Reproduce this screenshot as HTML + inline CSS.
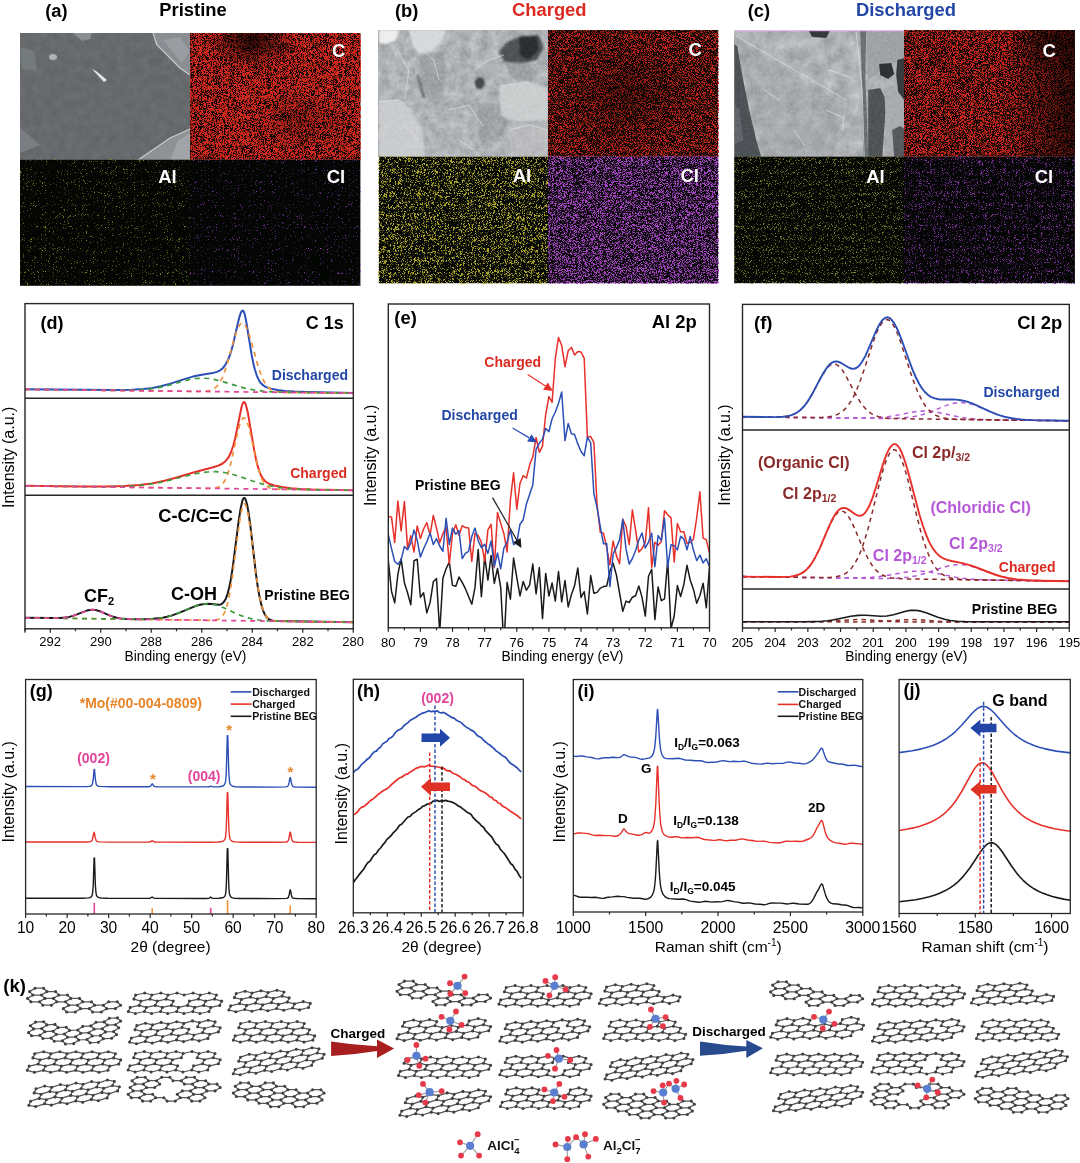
<!DOCTYPE html>
<html><head><meta charset="utf-8"><title>Figure</title>
<style>html,body{margin:0;padding:0;background:#fff;}body{width:1080px;height:1163px;overflow:hidden;}svg{display:block;}</style>
</head><body>
<svg width="1080" height="1163" viewBox="0 0 1080 1163" font-family='"Liberation Sans", Arial, sans-serif'><defs><filter id="redA" x="0" y="0" width="100%" height="100%" filterUnits="objectBoundingBox" color-interpolation-filters="sRGB"><feTurbulence type="fractalNoise" baseFrequency="1.73 1.91" numOctaves="1" seed="11" result="t"/><feGaussianBlur in="t" stdDeviation="0.5" result="b"/><feColorMatrix in="b" type="matrix" values="0 0 0 0 0.847  0 0 0 0 0.165  0 0 0 0 0.118  7 0 0 0 -2.84"/></filter><filter id="redB" x="0" y="0" width="100%" height="100%" filterUnits="objectBoundingBox" color-interpolation-filters="sRGB"><feTurbulence type="fractalNoise" baseFrequency="1.73 1.91" numOctaves="1" seed="12" result="t"/><feGaussianBlur in="t" stdDeviation="0.5" result="b"/><feColorMatrix in="b" type="matrix" values="0 0 0 0 0.776  0 0 0 0 0.149  0 0 0 0 0.110  7 0 0 0 -3.2"/></filter><filter id="redC" x="0" y="0" width="100%" height="100%" filterUnits="objectBoundingBox" color-interpolation-filters="sRGB"><feTurbulence type="fractalNoise" baseFrequency="1.73 1.91" numOctaves="1" seed="13" result="t"/><feGaussianBlur in="t" stdDeviation="0.5" result="b"/><feColorMatrix in="b" type="matrix" values="0 0 0 0 0.824  0 0 0 0 0.157  0 0 0 0 0.118  7 0 0 0 -3.08"/></filter><filter id="yelA" x="0" y="0" width="100%" height="100%" filterUnits="objectBoundingBox" color-interpolation-filters="sRGB"><feTurbulence type="fractalNoise" baseFrequency="1.73 1.91" numOctaves="1" seed="21" result="t"/><feGaussianBlur in="t" stdDeviation="0.5" result="b"/><feColorMatrix in="b" type="matrix" values="0 0 0 0 0.549  0 0 0 0 0.549  0 0 0 0 0.157  7 0 0 0 -4.35"/></filter><filter id="vioA" x="0" y="0" width="100%" height="100%" filterUnits="objectBoundingBox" color-interpolation-filters="sRGB"><feTurbulence type="fractalNoise" baseFrequency="1.73 1.91" numOctaves="1" seed="22" result="t"/><feGaussianBlur in="t" stdDeviation="0.5" result="b"/><feColorMatrix in="b" type="matrix" values="0 0 0 0 0.588  0 0 0 0 0.235  0 0 0 0 0.745  7 0 0 0 -4.5"/></filter><filter id="yelB" x="0" y="0" width="100%" height="100%" filterUnits="objectBoundingBox" color-interpolation-filters="sRGB"><feTurbulence type="fractalNoise" baseFrequency="1.73 1.91" numOctaves="1" seed="23" result="t"/><feGaussianBlur in="t" stdDeviation="0.5" result="b"/><feColorMatrix in="b" type="matrix" values="0 0 0 0 0.698  0 0 0 0 0.667  0 0 0 0 0.176  7 0 0 0 -3.6"/></filter><filter id="vioB" x="0" y="0" width="100%" height="100%" filterUnits="objectBoundingBox" color-interpolation-filters="sRGB"><feTurbulence type="fractalNoise" baseFrequency="1.73 1.91" numOctaves="1" seed="24" result="t"/><feGaussianBlur in="t" stdDeviation="0.5" result="b"/><feColorMatrix in="b" type="matrix" values="0 0 0 0 0.659  0 0 0 0 0.275  0 0 0 0 0.776  7 0 0 0 -3.24"/></filter><filter id="yelC" x="0" y="0" width="100%" height="100%" filterUnits="objectBoundingBox" color-interpolation-filters="sRGB"><feTurbulence type="fractalNoise" baseFrequency="1.73 1.91" numOctaves="1" seed="25" result="t"/><feGaussianBlur in="t" stdDeviation="0.5" result="b"/><feColorMatrix in="b" type="matrix" values="0 0 0 0 0.490  0 0 0 0 0.490  0 0 0 0 0.176  7 0 0 0 -3.98"/></filter><filter id="vioC" x="0" y="0" width="100%" height="100%" filterUnits="objectBoundingBox" color-interpolation-filters="sRGB"><feTurbulence type="fractalNoise" baseFrequency="1.73 1.91" numOctaves="1" seed="26" result="t"/><feGaussianBlur in="t" stdDeviation="0.5" result="b"/><feColorMatrix in="b" type="matrix" values="0 0 0 0 0.510  0 0 0 0 0.204  0 0 0 0 0.647  7 0 0 0 -3.95"/></filter><filter id="semA" x="0" y="0" width="100%" height="100%" filterUnits="objectBoundingBox" color-interpolation-filters="sRGB"><feTurbulence type="fractalNoise" baseFrequency="0.12" numOctaves="3" seed="5" result="t"/><feColorMatrix in="t" type="matrix" values="0.071 0 0 0 0.369  0.071 0 0 0 0.379  0.071 0 0 0 0.389  0 0 0 0 1"/></filter><filter id="semB" x="0" y="0" width="100%" height="100%" filterUnits="objectBoundingBox" color-interpolation-filters="sRGB"><feTurbulence type="fractalNoise" baseFrequency="0.1" numOctaves="4" seed="8" result="t"/><feColorMatrix in="t" type="matrix" values="0.216 0 0 0 0.582  0.216 0 0 0 0.592  0.216 0 0 0 0.602  0 0 0 0 1"/></filter><filter id="semC" x="0" y="0" width="100%" height="100%" filterUnits="objectBoundingBox" color-interpolation-filters="sRGB"><feTurbulence type="fractalNoise" baseFrequency="0.08" numOctaves="4" seed="9" result="t"/><feColorMatrix in="t" type="matrix" values="0.235 0 0 0 0.569  0.235 0 0 0 0.579  0.235 0 0 0 0.589  0 0 0 0 1"/></filter><filter id="semFine" x="0" y="0" width="100%" height="100%" filterUnits="objectBoundingBox" color-interpolation-filters="sRGB"><feTurbulence type="fractalNoise" baseFrequency="0.32" numOctaves="2" seed="31" result="t"/><feColorMatrix in="t" type="matrix" values="0.784 0 0 0 0.110  0.784 0 0 0 0.120  0.784 0 0 0 0.130  0 0 0 0 1"/></filter><filter id="sblur" x="-5%" y="-5%" width="110%" height="110%"><feGaussianBlur stdDeviation="1.2"/></filter><filter id="sblur2" x="-5%" y="-5%" width="110%" height="110%"><feGaussianBlur stdDeviation="0.6"/></filter><radialGradient id="rdark"><stop offset="0" stop-color="#000" stop-opacity="1"/><stop offset="1" stop-color="#000" stop-opacity="0"/></radialGradient><linearGradient id="ldarkR" x1="0" y1="0" x2="1" y2="0"><stop offset="0" stop-color="#000" stop-opacity="0"/><stop offset="1" stop-color="#000" stop-opacity="0.75"/></linearGradient></defs><text x="56.3" y="16.5" font-size="18.3" font-weight="bold" fill="#000" text-anchor="middle" >(a)</text>
<text x="193.0" y="16.4" font-size="18.4" font-weight="bold" fill="#000" text-anchor="middle" >Pristine</text>
<text x="406.6" y="16.5" font-size="18.3" font-weight="bold" fill="#000" text-anchor="middle" >(b)</text>
<text x="549.3" y="16.3" font-size="18.4" font-weight="bold" fill="#dc2a20" text-anchor="middle" >Charged</text>
<text x="758.9" y="16.5" font-size="18.3" font-weight="bold" fill="#000" text-anchor="middle" >(c)</text>
<text x="906.0" y="16.3" font-size="18.4" font-weight="bold" fill="#2347a6" text-anchor="middle" >Discharged</text>
<path d="M25.0,389.3 115.9,390.0 131.7,389.8 143.7,389.1 152.5,388.0 160.7,386.3 169.6,383.9 186.0,378.6 192.9,376.6 200.5,374.9 212.5,373.1 216.9,371.9 220.1,370.3 222.0,368.9 223.2,367.7 225.7,364.3 228.3,359.3 230.8,352.3 232.7,345.7 238.4,321.1 239.6,316.3 240.9,312.7 241.5,311.5 242.2,310.8 242.8,310.6 243.4,311.0 244.0,312.2 244.7,314.1 245.9,319.7 251.6,354.5 253.5,364.1 254.8,369.3 256.7,375.3 258.6,379.7 260.5,382.7 263.0,385.2 264.9,386.5 266.8,387.4 271.2,388.8 277.5,390.1 285.1,390.9 294.5,391.6 307.8,392.1 353.2,393.0" fill="none" stroke="#2c4fb6" stroke-width="2.0" stroke-linejoin="round" />
<path d="M25.0,389.4 196.7,391.4 205.5,391.2 208.1,390.9 210.6,390.3 213.7,388.9 215.6,387.5 216.9,386.3 219.4,383.1 222.0,378.4 223.8,374.0 226.4,366.7 233.9,339.8 236.5,331.8 238.4,327.2 239.6,325.0 240.9,323.5 242.2,322.9 243.4,323.2 244.7,324.3 245.9,326.3 247.8,330.6 251.0,340.4 257.9,365.4 260.5,373.0 262.3,377.8 264.2,381.7 266.8,385.6 268.7,387.7 271.2,389.6 273.7,390.8 276.2,391.6 279.4,392.0 283.2,392.3 353.2,393.2" fill="none" stroke="#f0913a" stroke-width="1.7" stroke-linejoin="round" stroke-dasharray="5,4.5" />
<path d="M25.0,389.4 115.3,390.4 129.8,390.3 140.5,389.9 149.4,389.1 157.6,387.9 167.0,385.7 182.8,381.3 189.1,379.7 196.1,378.5 203.0,378.2 208.7,378.5 215.0,379.6 221.3,381.2 237.1,386.0 244.7,388.1 253.5,389.9 263.0,391.1 273.1,391.9 286.3,392.3 353.2,393.2" fill="none" stroke="#3c9a3c" stroke-width="1.7" stroke-linejoin="round" stroke-dasharray="5,4.5" />
<path d="M25.0,389.4 353.2,393.2" fill="none" stroke="#e2449a" stroke-width="1.7" stroke-linejoin="round" stroke-dasharray="5,4.5" />
<path d="M25.0,485.8 81.8,486.5 106.4,486.6 124.7,486.1 139.3,485.1 151.9,483.4 164.5,480.7 174.0,478.2 196.1,471.7 213.1,467.2 218.2,465.6 220.7,464.5 222.6,463.5 225.7,460.9 228.3,457.7 230.8,452.8 233.3,445.5 235.2,438.3 241.5,407.2 242.8,403.3 243.4,402.3 244.0,402.0 244.7,402.4 245.3,403.4 245.9,404.9 247.8,412.4 254.1,449.6 256.0,459.2 257.3,464.6 259.2,471.0 261.1,475.6 263.0,478.8 265.5,481.5 267.4,482.8 269.3,483.8 274.3,485.5 281.9,487.0 290.8,488.2 300.2,488.9 311.6,489.4 353.2,490.2" fill="none" stroke="#e8302a" stroke-width="2.0" stroke-linejoin="round" />
<path d="M25.0,485.9 206.2,488.3 213.1,488.2 215.6,487.9 217.5,487.4 220.1,486.2 221.3,485.2 222.6,484.0 223.8,482.3 225.1,480.1 227.0,475.9 228.9,470.4 230.8,463.5 237.1,435.1 239.6,425.2 240.9,421.6 242.2,419.1 242.8,418.4 243.4,417.9 244.0,417.8 244.7,418.1 245.9,419.6 247.2,422.3 248.5,426.2 251.0,436.4 256.7,462.3 259.8,473.6 261.7,478.5 263.6,482.2 265.5,484.8 268.0,487.0 269.9,488.0 271.8,488.6 274.3,489.0 278.1,489.2 353.2,490.3" fill="none" stroke="#f0913a" stroke-width="1.7" stroke-linejoin="round" stroke-dasharray="5,4.5" />
<path d="M25.0,485.9 103.9,486.8 121.0,486.6 134.8,485.9 146.8,484.7 158.8,482.7 168.9,480.4 189.8,475.0 198.6,473.2 207.4,472.0 215.6,471.7 222.6,472.2 230.2,473.7 237.1,475.7 253.5,481.3 261.7,483.8 270.6,485.9 280.0,487.6 290.8,488.7 303.4,489.4 319.8,489.8 353.2,490.3" fill="none" stroke="#3c9a3c" stroke-width="1.7" stroke-linejoin="round" stroke-dasharray="5,4.5" />
<path d="M25.0,485.9 353.2,490.3" fill="none" stroke="#e2449a" stroke-width="1.7" stroke-linejoin="round" stroke-dasharray="5,4.5" />
<path d="M25.0,617.8 54.0,618.1 60.3,618.0 64.8,617.6 69.2,616.9 73.0,615.9 86.9,610.6 90.0,609.9 92.5,609.7 95.1,609.9 98.2,610.7 101.4,611.8 108.3,614.9 112.1,616.4 115.9,617.5 120.3,618.4 126.0,618.9 134.2,619.2 144.9,619.2 153.1,618.8 162.6,617.7 167.0,616.8 171.5,615.6 179.0,612.9 194.2,606.6 198.0,605.3 201.1,604.5 204.9,603.9 208.7,603.7 218.8,604.7 220.7,604.4 222.0,603.8 223.8,602.1 225.7,598.9 227.6,593.8 229.5,586.2 230.8,579.6 232.7,567.6 238.4,523.1 240.3,510.3 242.2,501.4 242.8,499.6 243.4,498.4 244.0,497.9 244.7,498.0 245.3,498.9 245.9,500.3 247.2,505.1 248.5,512.2 250.4,526.0 256.0,574.3 257.9,587.6 259.2,595.1 261.1,603.9 263.0,610.3 264.9,614.6 266.8,617.4 268.7,619.1 270.6,620.0 273.1,620.7 276.9,621.1 353.2,622.3" fill="none" stroke="#1a1a1a" stroke-width="2.0" stroke-linejoin="round" />
<path d="M25.0,617.8 208.7,620.3 213.1,620.2 215.6,620.0 217.5,619.6 219.4,618.8 220.7,617.9 222.0,616.7 223.2,615.0 224.5,612.7 226.4,607.8 228.3,600.7 230.2,591.3 232.0,579.3 238.4,529.6 240.3,516.8 241.5,510.3 242.8,505.9 243.4,504.6 244.0,503.9 244.7,503.9 245.3,504.4 246.6,507.4 247.8,512.7 249.1,520.0 251.0,533.6 256.0,574.2 257.9,587.1 259.8,597.7 261.7,605.7 263.6,611.5 265.5,615.4 267.4,617.9 269.3,619.4 271.2,620.3 273.7,620.9 276.9,621.2 353.2,622.3" fill="none" stroke="#f0913a" stroke-width="1.7" stroke-linejoin="round" stroke-dasharray="5,4.5" />
<path d="M25.0,617.8 131.0,619.2 144.3,619.2 153.8,618.7 162.6,617.7 170.2,616.0 177.8,613.4 191.7,607.6 196.7,605.7 202.4,604.2 205.5,603.8 208.1,603.7 213.1,604.2 218.8,605.8 223.8,607.8 237.1,614.1 244.7,617.0 251.6,618.8 258.6,620.0 267.4,620.8 278.8,621.2 353.2,622.3" fill="none" stroke="#3c9a3c" stroke-width="1.7" stroke-linejoin="round" stroke-dasharray="5,4.5" />
<path d="M25.0,617.8 54.0,618.1 60.3,618.0 64.8,617.6 69.2,616.9 73.0,615.9 86.9,610.6 90.0,609.9 92.5,609.7 95.7,610.0 98.9,610.9 110.2,615.7 115.3,617.4 121.0,618.5 127.9,619.1 143.0,619.4 353.2,622.3" fill="none" stroke="#e2449a" stroke-width="1.7" stroke-linejoin="round" stroke-dasharray="5,4.5" />
<rect x="25.00" y="303.60" width="328.30" height="325.20" fill="none" stroke="#262626" stroke-width="1.4" />
<line x1="25.00" y1="398.20" x2="353.30" y2="398.20" stroke="#262626" stroke-width="1.4" />
<line x1="25.00" y1="495.30" x2="353.30" y2="495.30" stroke="#262626" stroke-width="1.4" />
<line x1="50.25" y1="628.80" x2="50.25" y2="632.80" stroke="#262626" stroke-width="1.2" />
<line x1="100.75" y1="628.80" x2="100.75" y2="632.80" stroke="#262626" stroke-width="1.2" />
<line x1="151.25" y1="628.80" x2="151.25" y2="632.80" stroke="#262626" stroke-width="1.2" />
<line x1="201.75" y1="628.80" x2="201.75" y2="632.80" stroke="#262626" stroke-width="1.2" />
<line x1="252.25" y1="628.80" x2="252.25" y2="632.80" stroke="#262626" stroke-width="1.2" />
<line x1="302.75" y1="628.80" x2="302.75" y2="632.80" stroke="#262626" stroke-width="1.2" />
<line x1="353.25" y1="628.80" x2="353.25" y2="632.80" stroke="#262626" stroke-width="1.2" />
<line x1="25.00" y1="628.80" x2="25.00" y2="632.80" stroke="#262626" stroke-width="1.2" />
<line x1="25.00" y1="628.80" x2="25.00" y2="631.30" stroke="#262626" stroke-width="1.2" />
<line x1="75.50" y1="628.80" x2="75.50" y2="631.30" stroke="#262626" stroke-width="1.2" />
<line x1="126.00" y1="628.80" x2="126.00" y2="631.30" stroke="#262626" stroke-width="1.2" />
<line x1="176.50" y1="628.80" x2="176.50" y2="631.30" stroke="#262626" stroke-width="1.2" />
<line x1="227.00" y1="628.80" x2="227.00" y2="631.30" stroke="#262626" stroke-width="1.2" />
<line x1="277.50" y1="628.80" x2="277.50" y2="631.30" stroke="#262626" stroke-width="1.2" />
<line x1="328.00" y1="628.80" x2="328.00" y2="631.30" stroke="#262626" stroke-width="1.2" />
<text x="50.2" y="646.4" font-size="13" fill="#000" text-anchor="middle" >292</text>
<text x="100.8" y="646.4" font-size="13" fill="#000" text-anchor="middle" >290</text>
<text x="151.2" y="646.4" font-size="13" fill="#000" text-anchor="middle" >288</text>
<text x="201.8" y="646.4" font-size="13" fill="#000" text-anchor="middle" >286</text>
<text x="252.2" y="646.4" font-size="13" fill="#000" text-anchor="middle" >284</text>
<text x="302.8" y="646.4" font-size="13" fill="#000" text-anchor="middle" >282</text>
<text x="353.2" y="646.4" font-size="13" fill="#000" text-anchor="middle" >280</text>
<text x="185.5" y="661.2" font-size="13.8" fill="#000" text-anchor="middle" >Binding energy (eV)</text>
<text x="0" y="0" font-size="16" fill="#000" text-anchor="middle" transform="translate(13.8,457.3) rotate(-90)">Intensity (a.u.)</text>
<text x="51.9" y="328.6" font-size="18" font-weight="bold" fill="#000" text-anchor="middle" >(d)</text>
<text x="324.8" y="328.6" font-size="18" font-weight="bold" fill="#000" text-anchor="middle" >C 1s</text>
<text x="309.9" y="379.6" font-size="14" font-weight="bold" fill="#2347a6" text-anchor="middle" >Discharged</text>
<text x="318.6" y="477.6" font-size="14" font-weight="bold" fill="#dc2a20" text-anchor="middle" >Charged</text>
<text x="307.1" y="600.0" font-size="14" font-weight="bold" fill="#000" text-anchor="middle" >Pristine BEG</text>
<text x="195.6" y="522.3" font-size="18.3" font-weight="bold" fill="#000" text-anchor="middle" >C-C/C=C</text>
<text x="194.1" y="600.0" font-size="18" font-weight="bold" fill="#000" text-anchor="middle" >C-OH</text>
<text x="99.0" y="602.4" font-size="18" font-weight="bold" fill="#000" text-anchor="middle" >CF<tspan font-size="11" dy="3">2</tspan></text>
<clipPath id="ce"><rect x="388.3" y="304.0" width="321.2" height="323.79999999999995"/></clipPath>
<g clip-path="url(#ce)">
<path d="M388.3,560.7 391.5,591.2 394.7,602.9 397.9,574.2 401.1,558.7 404.4,582.7 407.6,593.0 410.8,604.7 414.0,560.7 417.2,559.3 420.4,597.2 423.6,592.8 426.8,612.9 430.1,602.4 433.3,581.8 436.5,578.5 439.7,632.5 442.9,578.2 446.1,568.7 449.3,562.0 452.5,585.4 455.8,586.3 459.0,577.0 462.2,582.4 465.4,588.7 471.8,604.3 475.0,587.4 478.2,549.4 481.4,596.8 484.7,556.4 487.9,580.1 491.1,555.4 494.3,583.4 497.5,568.5 500.7,587.4 503.9,646.0 507.1,582.3 510.4,599.2 513.6,558.1 516.8,577.7 520.0,595.8 523.2,581.4 526.4,590.2 529.6,585.1 532.8,564.0 536.1,593.8 539.3,567.6 542.5,618.6 545.7,573.4 548.9,596.0 552.1,583.0 555.3,601.1 558.5,571.5 561.7,601.9 565.0,580.5 568.2,606.9 571.4,594.7 574.6,585.5 577.8,568.0 581.0,597.4 584.2,591.7 587.4,614.0 590.7,575.6 593.9,593.3 597.1,592.4 600.3,588.1 603.5,586.6 606.7,586.1 609.9,571.3 613.1,563.3 616.4,575.0 622.8,611.3 626.0,601.1 629.2,602.5 632.4,597.2 635.6,595.7 638.8,585.9 642.0,597.1 645.3,616.1 648.5,576.2 651.7,569.2 654.9,619.6 658.1,587.0 661.3,600.7 664.5,598.9 667.7,560.7 671.0,628.5 674.2,616.0 677.4,585.6 680.6,596.5 683.8,584.6 687.0,565.3 690.2,580.0 693.4,589.2 696.7,603.3 699.9,595.5 703.1,583.2 706.3,607.8 709.5,567.5" fill="none" stroke="#1a1a1a" stroke-width="1.5" stroke-linejoin="round" />
<path d="M388.3,516.5 391.5,516.9 394.7,542.4 397.9,500.9 401.1,531.0 404.4,501.4 407.6,548.4 410.8,535.8 414.0,552.0 417.2,525.9 420.4,538.6 423.6,529.0 426.8,522.7 430.1,535.0 433.3,515.4 436.5,528.0 439.7,542.8 442.9,533.8 446.1,527.3 449.3,563.7 452.5,533.8 455.8,524.8 459.0,535.2 462.2,525.7 465.4,527.6 468.6,528.1 471.8,561.4 475.0,533.3 478.2,535.5 481.4,542.4 484.7,561.2 487.9,529.9 491.1,524.3 494.3,567.6 497.5,512.6 503.9,533.7 507.1,552.0 510.4,500.0 513.6,472.7 516.8,509.3 520.0,483.2 523.2,475.6 526.4,478.0 529.6,465.1 532.8,456.8 536.1,437.5 539.3,452.3 542.5,446.1 545.7,414.4 548.9,396.7 552.1,402.3 555.3,358.7 558.5,337.4 561.7,345.6 565.0,366.7 568.2,350.7 571.4,347.4 574.6,355.0 577.8,351.5 581.0,352.0 584.2,358.3 587.4,437.1 590.7,436.6 593.9,442.7 597.1,505.2 600.3,532.3 603.5,533.2 606.7,547.8 609.9,564.8 613.1,541.0 616.4,555.6 619.6,563.7 622.8,519.3 626.0,526.3 629.2,544.6 632.4,509.9 635.6,530.2 638.8,552.1 642.0,548.7 645.3,542.3 648.5,507.7 651.7,567.3 654.9,542.2 658.1,545.3 661.3,541.6 664.5,510.7 667.7,514.7 671.0,517.9 674.2,561.9 677.4,523.5 680.6,531.8 683.8,531.7 687.0,543.4 690.2,542.5 693.4,539.3 696.7,518.0 699.9,491.8 703.1,538.1 706.3,539.7 709.5,553.2" fill="none" stroke="#e8302a" stroke-width="1.5" stroke-linejoin="round" />
<path d="M388.3,534.7 391.5,548.6 394.7,561.5 397.9,564.3 401.1,560.1 404.4,546.4 407.6,549.8 410.8,542.9 414.0,530.1 417.2,540.2 420.4,557.1 423.6,548.7 426.8,541.9 430.1,533.0 433.3,544.5 436.5,538.7 439.7,546.0 442.9,551.3 446.1,518.3 449.3,544.4 452.5,528.0 455.8,534.3 459.0,530.6 462.2,558.6 465.4,553.3 468.6,551.3 471.8,536.5 475.0,528.1 478.2,540.7 481.4,547.6 484.7,544.3 487.9,553.4 491.1,540.9 494.3,566.5 497.5,552.9 500.7,568.8 503.9,548.0 507.1,542.2 510.4,529.9 513.6,544.6 516.8,542.5 520.0,524.2 523.2,519.7 526.4,503.9 532.8,484.9 536.1,449.3 539.3,443.1 542.5,439.1 545.7,428.5 548.9,431.6 552.1,418.7 555.3,412.0 558.5,403.4 561.7,391.9 565.0,440.6 568.2,423.4 571.4,433.8 574.6,434.6 577.8,443.9 581.0,451.5 584.2,455.8 587.4,437.2 590.7,442.9 593.9,493.7 597.1,507.8 600.3,526.8 603.5,543.8 606.7,543.5 609.9,586.6 613.1,553.9 616.4,547.7 619.6,539.6 622.8,519.3 626.0,548.9 629.2,564.0 632.4,558.5 635.6,550.5 638.8,540.0 642.0,533.0 645.3,548.0 648.5,542.1 651.7,533.3 654.9,566.7 658.1,535.6 661.3,540.3 664.5,518.2 667.7,567.0 671.0,544.7 674.2,545.6 677.4,549.9 680.6,536.3 683.8,538.9 687.0,549.8 690.2,536.4 693.4,550.0 696.7,560.6 699.9,555.1 703.1,562.9 706.3,558.7 709.5,566.6" fill="none" stroke="#2c4fb6" stroke-width="1.5" stroke-linejoin="round" />
</g>
<rect x="388.30" y="304.00" width="321.20" height="323.80" fill="none" stroke="#262626" stroke-width="1.4" />
<line x1="388.30" y1="627.80" x2="388.30" y2="631.80" stroke="#262626" stroke-width="1.2" />
<line x1="420.42" y1="627.80" x2="420.42" y2="631.80" stroke="#262626" stroke-width="1.2" />
<line x1="452.54" y1="627.80" x2="452.54" y2="631.80" stroke="#262626" stroke-width="1.2" />
<line x1="484.66" y1="627.80" x2="484.66" y2="631.80" stroke="#262626" stroke-width="1.2" />
<line x1="516.78" y1="627.80" x2="516.78" y2="631.80" stroke="#262626" stroke-width="1.2" />
<line x1="548.90" y1="627.80" x2="548.90" y2="631.80" stroke="#262626" stroke-width="1.2" />
<line x1="581.02" y1="627.80" x2="581.02" y2="631.80" stroke="#262626" stroke-width="1.2" />
<line x1="613.14" y1="627.80" x2="613.14" y2="631.80" stroke="#262626" stroke-width="1.2" />
<line x1="645.26" y1="627.80" x2="645.26" y2="631.80" stroke="#262626" stroke-width="1.2" />
<line x1="677.38" y1="627.80" x2="677.38" y2="631.80" stroke="#262626" stroke-width="1.2" />
<line x1="709.50" y1="627.80" x2="709.50" y2="631.80" stroke="#262626" stroke-width="1.2" />
<line x1="693.44" y1="627.80" x2="693.44" y2="630.30" stroke="#262626" stroke-width="1.2" />
<line x1="661.32" y1="627.80" x2="661.32" y2="630.30" stroke="#262626" stroke-width="1.2" />
<line x1="629.20" y1="627.80" x2="629.20" y2="630.30" stroke="#262626" stroke-width="1.2" />
<line x1="597.08" y1="627.80" x2="597.08" y2="630.30" stroke="#262626" stroke-width="1.2" />
<line x1="564.96" y1="627.80" x2="564.96" y2="630.30" stroke="#262626" stroke-width="1.2" />
<line x1="532.84" y1="627.80" x2="532.84" y2="630.30" stroke="#262626" stroke-width="1.2" />
<line x1="500.72" y1="627.80" x2="500.72" y2="630.30" stroke="#262626" stroke-width="1.2" />
<line x1="468.60" y1="627.80" x2="468.60" y2="630.30" stroke="#262626" stroke-width="1.2" />
<line x1="436.48" y1="627.80" x2="436.48" y2="630.30" stroke="#262626" stroke-width="1.2" />
<line x1="404.36" y1="627.80" x2="404.36" y2="630.30" stroke="#262626" stroke-width="1.2" />
<text x="388.3" y="646.6" font-size="13" fill="#000" text-anchor="middle" >80</text>
<text x="420.4" y="646.6" font-size="13" fill="#000" text-anchor="middle" >79</text>
<text x="452.5" y="646.6" font-size="13" fill="#000" text-anchor="middle" >78</text>
<text x="484.7" y="646.6" font-size="13" fill="#000" text-anchor="middle" >77</text>
<text x="516.8" y="646.6" font-size="13" fill="#000" text-anchor="middle" >76</text>
<text x="548.9" y="646.6" font-size="13" fill="#000" text-anchor="middle" >75</text>
<text x="581.0" y="646.6" font-size="13" fill="#000" text-anchor="middle" >74</text>
<text x="613.1" y="646.6" font-size="13" fill="#000" text-anchor="middle" >73</text>
<text x="645.3" y="646.6" font-size="13" fill="#000" text-anchor="middle" >72</text>
<text x="677.4" y="646.6" font-size="13" fill="#000" text-anchor="middle" >71</text>
<text x="709.5" y="646.6" font-size="13" fill="#000" text-anchor="middle" >70</text>
<text x="562.5" y="661.2" font-size="13.8" fill="#000" text-anchor="middle" >Binding energy (eV)</text>
<text x="0" y="0" font-size="16" fill="#000" text-anchor="middle" transform="translate(376.1,455.4) rotate(-90)">Intensity (a.u.)</text>
<text x="405.6" y="323.6" font-size="18.4" font-weight="bold" fill="#000" text-anchor="middle" >(e)</text>
<text x="674.3" y="328.4" font-size="18.4" font-weight="bold" fill="#000" text-anchor="middle" >Al 2p</text>
<text x="512.7" y="366.7" font-size="14" font-weight="bold" fill="#dc2a20" text-anchor="middle" >Charged</text>
<text x="479.6" y="419.5" font-size="14" font-weight="bold" fill="#2347a6" text-anchor="middle" >Discharged</text>
<text x="457.8" y="489.5" font-size="14" font-weight="bold" fill="#000" text-anchor="middle" >Pristine BEG</text>
<line x1="527.70" y1="374.40" x2="545.48" y2="386.06" stroke="#e8302a" stroke-width="1.2" />
<polygon points="553.0,391.0 543.1,389.7 547.8,382.5" fill="#e8302a"/>
<line x1="512.60" y1="427.90" x2="529.28" y2="437.88" stroke="#2c4fb6" stroke-width="1.2" />
<polygon points="537.0,442.5 527.1,441.6 531.5,434.2" fill="#2c4fb6"/>
<line x1="492.50" y1="497.60" x2="516.92" y2="540.19" stroke="#1a1a1a" stroke-width="1.2" />
<polygon points="521.4,548.0 513.2,542.3 520.7,538.1" fill="#1a1a1a"/>
<path d="M742.5,416.8 848.4,418.1 871.3,418.0 879.8,417.5 886.9,416.8 894.8,415.6 914.4,411.8 920.3,411.2 925.5,411.0 930.1,411.3 935.3,411.9 940.5,412.9 954.3,415.9 960.8,417.2 968.6,418.4 977.1,419.1 986.3,419.6 998.1,419.9 1069.3,420.8" fill="none" stroke="#b658d8" stroke-width="1.5" stroke-linejoin="round" stroke-dasharray="4.5,4" />
<path d="M742.5,416.8 877.1,418.4 891.5,418.4 902.0,418.0 911.8,417.0 920.3,415.3 928.8,412.6 943.8,406.4 949.7,404.3 955.6,402.9 958.8,402.6 961.5,402.5 966.7,403.0 972.6,404.4 978.4,406.6 990.9,412.0 997.4,414.6 1004.6,416.8 1011.8,418.3 1020.3,419.4 1030.1,420.1 1043.2,420.4 1069.3,420.8" fill="none" stroke="#b658d8" stroke-width="1.5" stroke-linejoin="round" stroke-dasharray="4.5,4" />
<path d="M742.5,416.8 771.3,417.1 781.7,416.8 785.6,416.4 789.6,415.7 792.8,414.6 796.1,413.1 799.4,410.8 802.0,408.5 804.6,405.6 807.2,402.2 809.8,398.2 812.4,393.7 822.2,375.4 826.2,369.3 828.1,367.0 830.1,365.3 832.0,364.3 834.0,363.9 836.0,364.3 837.9,365.4 839.9,367.2 842.5,370.4 846.4,376.8 854.3,391.8 857.5,397.6 860.8,402.8 864.1,407.1 867.3,410.6 871.3,413.6 875.2,415.6 879.8,417.1 883.7,417.8 887.6,418.2 899.4,418.7 1069.3,420.8" fill="none" stroke="#8a2a2a" stroke-width="1.5" stroke-linejoin="round" stroke-dasharray="4.5,4" />
<path d="M742.5,416.8 807.2,417.6 821.6,417.5 827.5,417.0 832.7,416.1 836.6,414.8 840.5,412.7 842.5,411.3 844.5,409.6 847.7,405.9 851.0,401.1 854.3,395.1 857.5,387.8 860.8,379.3 864.1,369.8 872.6,343.7 875.2,336.4 877.1,331.6 879.8,326.2 882.4,322.3 883.7,321.0 885.0,320.1 886.9,319.6 888.9,320.1 890.2,321.0 891.5,322.4 894.1,326.4 896.7,331.8 898.7,336.7 901.3,344.1 909.8,370.3 913.1,379.9 917.0,390.1 920.3,397.2 923.5,403.1 925.5,406.0 927.5,408.5 929.4,410.6 931.4,412.4 935.3,415.1 939.2,416.8 943.8,418.1 949.0,418.8 955.6,419.2 971.3,419.6 1069.3,420.8" fill="none" stroke="#8a2a2a" stroke-width="1.5" stroke-linejoin="round" stroke-dasharray="4.5,4" />
<path d="M742.5,416.8 771.9,417.1 778.4,417.0 783.0,416.7 787.6,416.1 791.5,415.1 794.8,413.7 798.1,411.8 800.7,409.7 803.3,407.1 805.2,404.8 807.9,401.2 812.4,393.6 820.9,377.4 824.2,371.7 827.5,366.9 829.4,364.7 830.7,363.5 832.0,362.6 834.0,361.7 836.0,361.4 837.9,361.7 841.2,363.0 849.0,367.7 851.0,368.5 853.0,368.8 854.9,368.5 856.2,368.0 858.2,366.6 859.5,365.3 862.1,361.8 865.4,355.9 868.6,348.7 875.2,333.0 879.1,324.9 881.1,321.8 883.0,319.4 885.0,317.9 886.9,317.3 888.9,317.6 890.2,318.4 891.5,319.6 894.1,323.1 896.7,327.9 898.7,332.3 901.3,339.0 909.2,360.8 912.4,369.4 915.7,377.0 919.0,383.5 921.6,387.8 924.9,392.0 927.5,394.5 930.7,396.8 934.7,398.4 938.6,399.2 942.5,399.5 951.7,399.4 956.2,399.6 960.8,400.2 965.4,401.1 969.3,402.3 973.9,404.1 990.2,411.6 996.8,414.3 1003.9,416.6 1011.8,418.3 1020.3,419.4 1030.1,420.1 1043.2,420.4 1069.3,420.8" fill="none" stroke="#2c4fb6" stroke-width="1.9" stroke-linejoin="round" />
<path d="M742.5,576.6 839.2,577.9 862.1,577.8 870.6,577.4 878.4,576.7 886.9,575.4 907.2,571.9 913.1,571.2 919.0,571.1 924.2,571.4 929.4,572.0 935.3,573.0 949.7,576.1 956.9,577.4 965.4,578.6 973.9,579.3 983.0,579.8 995.4,580.1 1069.3,581.2" fill="none" stroke="#b658d8" stroke-width="1.5" stroke-linejoin="round" stroke-dasharray="4.5,4" />
<path d="M742.5,576.6 872.6,578.4 887.6,578.4 898.1,578.1 907.9,577.2 916.4,575.7 925.5,573.3 941.2,568.0 947.1,566.3 953.6,565.0 959.5,564.7 965.4,565.1 971.3,566.3 977.8,568.3 990.9,573.2 997.4,575.4 1004.6,577.3 1012.4,578.8 1020.9,579.8 1031.4,580.4 1069.3,581.2" fill="none" stroke="#b658d8" stroke-width="1.5" stroke-linejoin="round" stroke-dasharray="4.5,4" />
<path d="M742.5,576.6 777.1,577.0 788.3,576.8 792.8,576.2 796.7,575.3 800.0,574.1 803.3,572.2 806.6,569.6 809.2,566.7 812.4,562.3 815.0,557.9 819.6,548.7 829.4,525.9 832.0,520.6 834.0,517.2 836.0,514.4 837.9,512.4 839.9,511.3 841.8,511.0 843.8,511.6 845.8,513.1 847.7,515.4 850.3,519.6 854.3,527.7 862.1,546.3 865.4,553.5 868.6,559.8 871.9,565.0 875.2,569.2 877.1,571.2 879.1,572.8 883.0,575.3 886.9,576.8 890.9,577.7 894.8,578.3 906.6,578.9 1069.3,581.2" fill="none" stroke="#8a2a2a" stroke-width="1.5" stroke-linejoin="round" stroke-dasharray="4.5,4" />
<path d="M742.5,576.6 815.0,577.6 829.4,577.5 835.3,576.9 840.5,575.7 844.5,574.0 846.4,572.8 848.4,571.3 851.7,567.9 854.9,563.3 858.2,557.2 861.5,549.5 864.7,540.0 868.0,528.9 871.9,513.9 879.8,482.0 882.4,472.3 884.3,465.9 886.9,458.7 889.6,453.4 890.9,451.6 892.2,450.4 893.5,449.8 894.1,449.7 894.8,449.8 896.1,450.5 897.4,451.7 898.7,453.5 901.3,458.9 903.9,466.2 905.9,472.7 908.5,482.4 916.4,514.5 920.3,529.7 923.5,540.8 926.8,550.4 930.1,558.2 933.4,564.4 935.3,567.4 937.3,569.9 939.2,571.9 941.2,573.6 945.1,576.1 949.0,577.6 954.3,578.8 960.8,579.4 976.5,579.9 1069.3,581.2" fill="none" stroke="#8a2a2a" stroke-width="1.5" stroke-linejoin="round" stroke-dasharray="4.5,4" />
<path d="M742.5,576.6 778.4,577.0 785.0,576.9 790.2,576.6 794.8,575.9 798.7,574.7 802.6,572.7 805.9,570.2 808.5,567.5 810.5,565.1 812.4,562.3 815.0,557.9 819.6,548.6 828.1,528.5 831.4,521.3 833.4,517.5 835.3,514.2 837.3,511.6 838.6,510.2 839.9,509.2 841.8,508.2 843.8,507.9 845.8,508.2 847.1,508.7 849.0,509.9 855.6,514.5 857.5,515.4 859.5,515.8 861.5,515.5 862.8,514.9 864.7,513.2 866.0,511.6 867.3,509.6 869.3,505.8 872.6,497.6 875.8,487.7 883.0,464.1 885.0,458.4 886.9,453.4 888.9,449.4 890.9,446.4 892.8,444.6 894.1,444.1 894.8,444.1 895.4,444.2 896.7,444.9 898.1,446.2 899.4,448.0 901.3,451.7 903.9,458.3 905.9,464.3 908.5,473.3 919.6,515.2 922.9,525.8 926.2,534.9 929.4,542.4 932.7,548.2 936.0,552.6 939.2,555.7 941.2,557.1 943.2,558.3 947.1,559.9 951.7,561.0 962.1,563.1 968.0,564.6 975.2,567.0 994.8,574.5 1001.3,576.5 1007.9,578.0 1017.0,579.4 1028.1,580.3 1041.8,580.7 1069.3,581.2" fill="none" stroke="#e8302a" stroke-width="1.9" stroke-linejoin="round" />
<path d="M742.5,621.8 820.3,621.8 831.4,621.3 851.7,619.7 860.1,619.4 868.6,619.8 889.6,621.5 903.9,621.9 1069.3,622.2" fill="none" stroke="#8a2a2a" stroke-width="1.5" stroke-linejoin="round" stroke-dasharray="4.5,4" />
<path d="M742.5,621.8 870.0,621.9 883.0,621.4 903.9,619.8 912.4,619.5 920.9,619.8 941.2,621.5 954.3,622.0 1069.3,622.2" fill="none" stroke="#8a2a2a" stroke-width="1.5" stroke-linejoin="round" stroke-dasharray="4.5,4" />
<path d="M742.5,621.8 803.9,621.8 813.7,621.6 821.6,621.3 827.5,620.7 832.7,620.0 851.0,616.3 858.2,615.4 862.1,615.2 866.0,615.2 880.4,616.2 886.9,616.0 893.5,614.7 906.6,611.0 910.5,610.4 913.7,610.2 918.3,610.6 922.9,611.7 926.8,613.0 937.9,617.3 944.5,619.3 950.3,620.5 957.5,621.3 964.7,621.6 975.2,621.8 1069.3,621.8" fill="none" stroke="#1a1a1a" stroke-width="1.6" stroke-linejoin="round" />
<rect x="742.50" y="304.40" width="326.80" height="323.60" fill="none" stroke="#262626" stroke-width="1.4" />
<line x1="742.50" y1="430.00" x2="1069.30" y2="430.00" stroke="#262626" stroke-width="1.4" />
<line x1="742.50" y1="589.00" x2="1069.30" y2="589.00" stroke="#262626" stroke-width="1.4" />
<line x1="742.50" y1="628.00" x2="742.50" y2="632.00" stroke="#262626" stroke-width="1.2" />
<line x1="775.18" y1="628.00" x2="775.18" y2="632.00" stroke="#262626" stroke-width="1.2" />
<line x1="807.86" y1="628.00" x2="807.86" y2="632.00" stroke="#262626" stroke-width="1.2" />
<line x1="840.54" y1="628.00" x2="840.54" y2="632.00" stroke="#262626" stroke-width="1.2" />
<line x1="873.22" y1="628.00" x2="873.22" y2="632.00" stroke="#262626" stroke-width="1.2" />
<line x1="905.90" y1="628.00" x2="905.90" y2="632.00" stroke="#262626" stroke-width="1.2" />
<line x1="938.58" y1="628.00" x2="938.58" y2="632.00" stroke="#262626" stroke-width="1.2" />
<line x1="971.26" y1="628.00" x2="971.26" y2="632.00" stroke="#262626" stroke-width="1.2" />
<line x1="1003.94" y1="628.00" x2="1003.94" y2="632.00" stroke="#262626" stroke-width="1.2" />
<line x1="1036.62" y1="628.00" x2="1036.62" y2="632.00" stroke="#262626" stroke-width="1.2" />
<line x1="1069.30" y1="628.00" x2="1069.30" y2="632.00" stroke="#262626" stroke-width="1.2" />
<line x1="1052.96" y1="628.00" x2="1052.96" y2="630.50" stroke="#262626" stroke-width="1.2" />
<line x1="1020.28" y1="628.00" x2="1020.28" y2="630.50" stroke="#262626" stroke-width="1.2" />
<line x1="987.60" y1="628.00" x2="987.60" y2="630.50" stroke="#262626" stroke-width="1.2" />
<line x1="954.92" y1="628.00" x2="954.92" y2="630.50" stroke="#262626" stroke-width="1.2" />
<line x1="922.24" y1="628.00" x2="922.24" y2="630.50" stroke="#262626" stroke-width="1.2" />
<line x1="889.56" y1="628.00" x2="889.56" y2="630.50" stroke="#262626" stroke-width="1.2" />
<line x1="856.88" y1="628.00" x2="856.88" y2="630.50" stroke="#262626" stroke-width="1.2" />
<line x1="824.20" y1="628.00" x2="824.20" y2="630.50" stroke="#262626" stroke-width="1.2" />
<line x1="791.52" y1="628.00" x2="791.52" y2="630.50" stroke="#262626" stroke-width="1.2" />
<line x1="758.84" y1="628.00" x2="758.84" y2="630.50" stroke="#262626" stroke-width="1.2" />
<text x="742.5" y="646.6" font-size="13" fill="#000" text-anchor="middle" >205</text>
<text x="775.2" y="646.6" font-size="13" fill="#000" text-anchor="middle" >204</text>
<text x="807.9" y="646.6" font-size="13" fill="#000" text-anchor="middle" >203</text>
<text x="840.5" y="646.6" font-size="13" fill="#000" text-anchor="middle" >202</text>
<text x="873.2" y="646.6" font-size="13" fill="#000" text-anchor="middle" >201</text>
<text x="905.9" y="646.6" font-size="13" fill="#000" text-anchor="middle" >200</text>
<text x="938.6" y="646.6" font-size="13" fill="#000" text-anchor="middle" >199</text>
<text x="971.3" y="646.6" font-size="13" fill="#000" text-anchor="middle" >198</text>
<text x="1003.9" y="646.6" font-size="13" fill="#000" text-anchor="middle" >197</text>
<text x="1036.6" y="646.6" font-size="13" fill="#000" text-anchor="middle" >196</text>
<text x="1069.3" y="646.6" font-size="13" fill="#000" text-anchor="middle" >195</text>
<text x="906.3" y="661.2" font-size="13.8" fill="#000" text-anchor="middle" >Binding energy (eV)</text>
<text x="0" y="0" font-size="16" fill="#000" text-anchor="middle" transform="translate(730.4,455.0) rotate(-90)">Intensity (a.u.)</text>
<text x="763.3" y="328.7" font-size="18.4" font-weight="bold" fill="#000" text-anchor="middle" >(f)</text>
<text x="1039.7" y="328.7" font-size="18.4" font-weight="bold" fill="#000" text-anchor="middle" >Cl 2p</text>
<text x="1021.6" y="397.3" font-size="14" font-weight="bold" fill="#2347a6" text-anchor="middle" >Discharged</text>
<text x="803.7" y="467.7" font-size="16" font-weight="bold" fill="#8a2a2a" text-anchor="middle" >(Organic Cl)</text>
<text x="941.0" y="458.2" font-size="16" font-weight="bold" fill="#8a2a2a" text-anchor="middle" >Cl 2p/<tspan font-size="10.5" dy="3">3/2</tspan></text>
<text x="809.4" y="499.4" font-size="16" font-weight="bold" fill="#8a2a2a" text-anchor="middle" >Cl 2p<tspan font-size="10.5" dy="3">1/2</tspan></text>
<text x="980.6" y="513.4" font-size="16" font-weight="bold" fill="#b658d8" text-anchor="middle" >(Chloridic Cl)</text>
<text x="975.8" y="548.6" font-size="16" font-weight="bold" fill="#b658d8" text-anchor="middle" >Cl 2p<tspan font-size="10.5" dy="3">3/2</tspan></text>
<text x="899.7" y="560.9" font-size="16" font-weight="bold" fill="#b658d8" text-anchor="middle" >Cl 2p<tspan font-size="10.5" dy="3">1/2</tspan></text>
<text x="1027.2" y="571.5" font-size="14" font-weight="bold" fill="#dc2a20" text-anchor="middle" >Charged</text>
<text x="1014.6" y="614.0" font-size="14" font-weight="bold" fill="#000" text-anchor="middle" >Pristine BEG</text>
<path d="M25.6,786.5 81.6,786.6 87.4,786.5 90.4,786.1 91.6,785.5 92.4,784.1 93.3,778.8 94.1,769.4 94.5,769.4 95.3,778.8 96.2,784.1 97.0,785.5 97.8,786.0 99.5,786.4 109.9,786.7 148.1,786.7 149.7,786.5 150.5,786.1 152.2,783.8 152.6,784.2 153.5,785.7 154.3,786.4 155.1,786.6 157.2,786.8 206.2,786.9 209.1,786.8 210.7,786.1 212.0,786.7 213.6,786.9 219.0,786.7 221.9,786.3 223.6,785.5 224.4,784.7 225.3,782.7 225.7,780.4 226.1,775.3 226.5,765.6 227.3,735.6 227.8,735.6 228.6,765.6 229.0,775.3 229.4,780.4 229.8,782.8 230.2,784.0 231.1,785.2 231.9,785.8 233.1,786.3 235.2,786.7 241.9,787.0 276.7,787.1 285.9,786.9 287.5,786.4 288.4,785.4 289.2,782.2 290.0,777.6 290.4,777.6 291.7,784.2 292.5,786.1 293.3,786.6 295.0,787.0 297.9,787.1 316.2,787.3" fill="none" stroke="#2c4fb6" stroke-width="1.4" stroke-linejoin="round" />
<path d="M25.6,842.0 80.8,842.0 87.0,842.0 89.9,841.7 91.6,841.1 92.4,839.7 93.7,833.3 94.1,832.1 94.5,833.3 95.3,838.2 96.2,840.6 96.6,841.1 97.4,841.6 99.5,841.9 109.9,842.1 148.1,842.1 150.5,841.8 152.2,840.7 154.3,842.0 157.6,842.1 211.1,842.2 218.2,842.0 221.9,841.5 223.6,840.8 224.4,840.0 225.3,838.1 225.7,835.8 226.1,831.0 226.5,821.6 227.3,792.8 227.8,792.8 228.6,821.6 229.0,831.0 229.4,835.8 229.8,838.1 230.2,839.3 231.1,840.5 231.9,841.1 233.1,841.5 235.2,841.9 241.9,842.2 276.7,842.3 285.9,842.0 287.5,841.5 288.4,840.4 289.2,837.1 290.0,832.2 290.4,832.2 291.7,839.2 292.5,841.1 293.3,841.7 295.0,842.1 297.9,842.3 316.2,842.4" fill="none" stroke="#e8302a" stroke-width="1.4" stroke-linejoin="round" />
<path d="M25.6,898.3 82.5,898.3 88.3,897.9 89.5,897.7 90.8,897.2 91.6,896.4 92.0,895.6 92.4,894.1 92.8,890.9 93.3,883.8 94.1,857.9 94.5,857.9 95.3,883.8 95.8,890.9 96.2,894.1 96.6,895.6 97.4,896.8 99.1,897.7 102.0,898.1 107.8,898.3 147.2,898.4 150.1,898.2 152.2,897.0 153.9,898.1 156.4,898.4 204.5,898.5 209.1,898.3 210.7,897.0 212.0,898.1 213.2,898.4 219.0,898.3 222.4,897.8 224.0,897.1 224.8,896.1 225.3,895.1 225.7,893.3 226.1,889.3 226.5,880.5 227.3,848.6 227.8,848.6 228.6,880.5 229.0,889.3 229.4,893.3 229.8,895.1 230.7,896.7 231.5,897.4 232.7,897.9 234.4,898.2 240.6,898.5 277.2,898.6 286.3,898.4 287.5,898.1 288.4,897.4 289.2,894.7 290.0,890.0 290.4,890.0 291.7,896.4 292.5,897.8 293.3,898.2 297.9,898.6 316.2,898.7" fill="none" stroke="#1a1a1a" stroke-width="1.4" stroke-linejoin="round" />
<line x1="94.30" y1="902.70" x2="94.30" y2="914.00" stroke="#e2449a" stroke-width="1.6" />
<line x1="152.21" y1="908.30" x2="152.21" y2="914.00" stroke="#f0913a" stroke-width="1.6" />
<line x1="210.73" y1="907.80" x2="210.73" y2="914.00" stroke="#e2449a" stroke-width="1.6" />
<line x1="227.55" y1="900.30" x2="227.55" y2="914.00" stroke="#f0913a" stroke-width="1.6" />
<line x1="290.23" y1="905.50" x2="290.23" y2="914.00" stroke="#f0913a" stroke-width="1.6" />
<rect x="25.60" y="679.50" width="290.60" height="234.50" fill="none" stroke="#262626" stroke-width="1.3" />
<line x1="25.60" y1="914.00" x2="25.60" y2="918.00" stroke="#262626" stroke-width="1.2" />
<line x1="67.11" y1="914.00" x2="67.11" y2="918.00" stroke="#262626" stroke-width="1.2" />
<line x1="108.62" y1="914.00" x2="108.62" y2="918.00" stroke="#262626" stroke-width="1.2" />
<line x1="150.13" y1="914.00" x2="150.13" y2="918.00" stroke="#262626" stroke-width="1.2" />
<line x1="191.64" y1="914.00" x2="191.64" y2="918.00" stroke="#262626" stroke-width="1.2" />
<line x1="233.15" y1="914.00" x2="233.15" y2="918.00" stroke="#262626" stroke-width="1.2" />
<line x1="274.66" y1="914.00" x2="274.66" y2="918.00" stroke="#262626" stroke-width="1.2" />
<line x1="316.17" y1="914.00" x2="316.17" y2="918.00" stroke="#262626" stroke-width="1.2" />
<line x1="46.36" y1="914.00" x2="46.36" y2="916.50" stroke="#262626" stroke-width="1.2" />
<line x1="87.87" y1="914.00" x2="87.87" y2="916.50" stroke="#262626" stroke-width="1.2" />
<line x1="129.38" y1="914.00" x2="129.38" y2="916.50" stroke="#262626" stroke-width="1.2" />
<line x1="170.88" y1="914.00" x2="170.88" y2="916.50" stroke="#262626" stroke-width="1.2" />
<line x1="212.39" y1="914.00" x2="212.39" y2="916.50" stroke="#262626" stroke-width="1.2" />
<line x1="253.90" y1="914.00" x2="253.90" y2="916.50" stroke="#262626" stroke-width="1.2" />
<line x1="295.42" y1="914.00" x2="295.42" y2="916.50" stroke="#262626" stroke-width="1.2" />
<text x="25.6" y="933.3" font-size="15.6" fill="#000" text-anchor="middle" >10</text>
<text x="67.1" y="933.3" font-size="15.6" fill="#000" text-anchor="middle" >20</text>
<text x="108.6" y="933.3" font-size="15.6" fill="#000" text-anchor="middle" >30</text>
<text x="150.1" y="933.3" font-size="15.6" fill="#000" text-anchor="middle" >40</text>
<text x="191.6" y="933.3" font-size="15.6" fill="#000" text-anchor="middle" >50</text>
<text x="233.1" y="933.3" font-size="15.6" fill="#000" text-anchor="middle" >60</text>
<text x="274.7" y="933.3" font-size="15.6" fill="#000" text-anchor="middle" >70</text>
<text x="316.2" y="933.3" font-size="15.6" fill="#000" text-anchor="middle" >80</text>
<text x="170.6" y="952.0" font-size="15.5" fill="#000" text-anchor="middle" >2θ (degree)</text>
<text x="0" y="0" font-size="16" fill="#000" text-anchor="middle" transform="translate(14.2,791.8) rotate(-90)">Intensity (a.u.)</text>
<text x="41.3" y="696.7" font-size="18" font-weight="bold" fill="#000" text-anchor="middle" >(g)</text>
<text x="140.8" y="707.8" font-size="14" font-weight="bold" fill="#e8862a" text-anchor="middle" >*Mo(#00-004-0809)</text>
<text x="93.5" y="763.4" font-size="14" font-weight="bold" fill="#e2449a" text-anchor="middle" >(002)</text>
<text x="204.2" y="780.5" font-size="14" font-weight="bold" fill="#e2449a" text-anchor="middle" >(004)</text>
<text x="152.8" y="783.5" font-size="15" font-weight="bold" fill="#e8862a" text-anchor="middle" >*</text>
<text x="229.1" y="734.5" font-size="15" font-weight="bold" fill="#e8862a" text-anchor="middle" >*</text>
<text x="290.3" y="776.5" font-size="15" font-weight="bold" fill="#e8862a" text-anchor="middle" >*</text>
<line x1="230.70" y1="691.90" x2="251.50" y2="691.90" stroke="#2c4fb6" stroke-width="1.6" />
<text x="252.2" y="695.7" font-size="10.6" font-weight="bold" fill="#111" text-anchor="start" >Discharged</text>
<line x1="230.70" y1="704.10" x2="251.50" y2="704.10" stroke="#e8302a" stroke-width="1.6" />
<text x="252.2" y="707.9" font-size="10.6" font-weight="bold" fill="#111" text-anchor="start" >Charged</text>
<line x1="230.70" y1="716.30" x2="251.50" y2="716.30" stroke="#1a1a1a" stroke-width="1.6" />
<text x="252.2" y="720.1" font-size="10.6" font-weight="bold" fill="#111" text-anchor="start" >Pristine BEG</text>
<clipPath id="ch"><rect x="353.3" y="679.3" width="169.99999999999994" height="233.5"/></clipPath>
<g clip-path="url(#ch)">
<path d="M353.3,772.8 355.4,770.2 357.5,769.3 359.6,767.1 361.7,764.3 363.8,762.6 365.9,760.5 370.1,757.0 372.2,753.9 374.3,751.8 376.4,751.1 378.5,748.5 380.6,747.1 382.7,743.9 386.9,741.2 389.0,738.5 391.1,737.7 393.2,735.8 395.3,732.6 397.4,730.7 401.6,728.6 403.7,726.0 405.8,724.1 407.9,722.8 410.0,720.5 416.3,717.0 418.4,715.3 420.5,714.2 422.6,713.1 424.7,712.6 428.9,710.7 431.0,711.7 433.1,711.1 435.2,711.3 437.3,710.8 439.4,712.5 441.5,712.8 443.6,712.4 445.7,713.5 447.8,715.1 449.9,716.2 452.0,717.7 454.1,718.1 456.2,720.1 458.3,721.2 460.4,722.0 464.6,725.9 466.7,727.4 468.8,728.4 470.9,730.1 473.0,730.9 475.1,732.9 477.2,735.4 481.4,737.8 483.5,740.1 485.6,742.0 487.7,743.7 489.8,745.0 494.0,748.7 496.1,750.9 500.3,753.8 502.4,755.7 504.5,756.7 506.6,758.5 508.7,761.4 510.8,763.6 512.9,764.8 517.1,767.7 519.2,770.1 521.3,771.9" fill="none" stroke="#2c4fb6" stroke-width="1.7" stroke-linejoin="round" />
<path d="M353.3,814.7 355.4,813.7 357.5,812.0 359.6,808.9 361.7,807.2 363.8,806.7 368.0,803.0 370.1,800.8 372.2,799.6 376.4,796.2 378.5,793.9 380.6,792.7 382.7,791.0 386.9,788.8 389.0,787.1 391.1,784.9 397.4,779.5 399.5,778.0 401.6,777.3 403.7,775.7 405.8,774.4 407.9,773.9 410.0,772.1 412.1,771.0 416.3,768.1 418.4,767.7 420.5,766.6 422.6,766.5 424.7,766.8 428.9,765.0 431.0,766.1 435.2,766.3 437.3,767.0 439.4,767.3 441.5,768.1 443.6,768.1 445.7,770.0 447.8,770.9 449.9,770.6 452.0,772.7 454.1,773.7 456.2,774.5 460.4,777.0 462.5,779.0 464.6,779.6 466.7,781.5 468.8,782.0 470.9,784.2 473.0,785.7 475.1,786.3 477.2,787.9 479.3,789.9 485.6,793.1 487.7,794.7 489.8,796.8 491.9,797.4 494.0,800.0 496.1,800.5 498.2,803.0 500.3,803.5 502.4,806.1 506.6,808.3 510.8,811.6 517.1,815.4 519.2,817.4 521.3,818.9" fill="none" stroke="#e8302a" stroke-width="1.7" stroke-linejoin="round" />
<path d="M353.3,882.7 355.4,879.5 357.5,877.1 359.6,874.1 363.8,869.0 365.9,865.3 368.0,862.5 370.1,861.1 372.2,857.5 374.3,854.8 376.4,853.4 378.5,850.0 380.6,848.0 382.7,844.9 384.8,842.7 386.9,839.4 389.0,837.7 391.1,835.7 393.2,832.8 395.3,830.9 397.4,828.5 399.5,825.3 401.6,824.3 407.9,817.0 410.0,816.5 412.1,814.1 416.3,811.4 418.4,809.6 420.5,808.5 422.6,806.4 424.7,805.8 426.8,804.2 428.9,804.0 431.0,803.1 433.1,801.2 437.3,800.4 439.4,801.4 441.5,800.4 443.6,800.8 445.7,800.4 447.8,801.1 449.9,801.5 452.0,802.1 456.2,804.3 458.3,806.0 460.4,806.9 462.5,808.7 464.6,810.1 466.7,811.9 470.9,814.2 473.0,817.3 477.2,821.6 479.3,823.2 481.4,825.8 483.5,827.3 485.6,830.7 491.9,837.1 494.0,841.0 496.1,844.0 498.2,845.2 500.3,849.2 504.5,853.8 510.8,863.7 512.9,865.3 515.0,869.2 517.1,871.3 519.2,875.5 521.3,878.2" fill="none" stroke="#1a1a1a" stroke-width="1.7" stroke-linejoin="round" />
</g>
<line x1="429.70" y1="752.50" x2="429.70" y2="912.80" stroke="#e8302a" stroke-width="1.45" stroke-dasharray="3.5,2"/>
<line x1="435.00" y1="705.60" x2="435.00" y2="912.80" stroke="#2c4fb6" stroke-width="1.45" stroke-dasharray="3.5,2"/>
<line x1="442.00" y1="766.50" x2="442.00" y2="912.80" stroke="#1a1a1a" stroke-width="1.45" stroke-dasharray="3.5,2"/>
<polygon points="421.5,733.5 440.0,733.5 440.0,728.8 450.0,737.8 440.0,746.8 440.0,742.0 421.5,742.0" fill="#2246a8"/>
<polygon points="450.0,782.5 431.0,782.5 431.0,777.8 421.0,786.8 431.0,795.8 431.0,791.0 450.0,791.0" fill="#e03224"/>
<rect x="353.30" y="679.30" width="170.00" height="233.50" fill="none" stroke="#262626" stroke-width="1.3" />
<line x1="353.30" y1="912.80" x2="353.30" y2="916.80" stroke="#262626" stroke-width="1.2" />
<line x1="387.26" y1="912.80" x2="387.26" y2="916.80" stroke="#262626" stroke-width="1.2" />
<line x1="421.22" y1="912.80" x2="421.22" y2="916.80" stroke="#262626" stroke-width="1.2" />
<line x1="455.18" y1="912.80" x2="455.18" y2="916.80" stroke="#262626" stroke-width="1.2" />
<line x1="489.14" y1="912.80" x2="489.14" y2="916.80" stroke="#262626" stroke-width="1.2" />
<line x1="523.10" y1="912.80" x2="523.10" y2="916.80" stroke="#262626" stroke-width="1.2" />
<line x1="370.28" y1="912.80" x2="370.28" y2="915.30" stroke="#262626" stroke-width="1.2" />
<line x1="404.24" y1="912.80" x2="404.24" y2="915.30" stroke="#262626" stroke-width="1.2" />
<line x1="438.20" y1="912.80" x2="438.20" y2="915.30" stroke="#262626" stroke-width="1.2" />
<line x1="472.16" y1="912.80" x2="472.16" y2="915.30" stroke="#262626" stroke-width="1.2" />
<line x1="506.12" y1="912.80" x2="506.12" y2="915.30" stroke="#262626" stroke-width="1.2" />
<text x="353.3" y="933.3" font-size="15.8" fill="#000" text-anchor="middle" >26.3</text>
<text x="387.3" y="933.3" font-size="15.8" fill="#000" text-anchor="middle" >26.4</text>
<text x="421.2" y="933.3" font-size="15.8" fill="#000" text-anchor="middle" >26.5</text>
<text x="455.2" y="933.3" font-size="15.8" fill="#000" text-anchor="middle" >26.6</text>
<text x="489.1" y="933.3" font-size="15.8" fill="#000" text-anchor="middle" >26.7</text>
<text x="523.1" y="933.3" font-size="15.8" fill="#000" text-anchor="middle" >26.8</text>
<text x="441.5" y="951.8" font-size="15.5" fill="#000" text-anchor="middle" >2θ (degree)</text>
<text x="0" y="0" font-size="16" fill="#000" text-anchor="middle" transform="translate(347.0,793.7) rotate(-90)">Intensity (a.u.)</text>
<text x="368.5" y="696.7" font-size="18" font-weight="bold" fill="#000" text-anchor="middle" >(h)</text>
<text x="437.5" y="703.0" font-size="14" font-weight="bold" fill="#e2449a" text-anchor="middle" >(002)</text>
<path d="M573.3,756.1 576.2,756.5 580.5,755.9 582.5,756.0 586.8,756.9 591.6,757.5 595.5,758.6 597.4,758.9 598.9,758.8 604.2,757.8 608.5,757.7 613.3,757.2 617.7,757.6 619.1,757.5 621.1,756.8 623.0,755.2 624.0,754.7 624.9,754.9 626.9,755.9 628.8,756.6 630.7,757.0 635.1,757.4 639.9,758.9 641.3,759.2 642.8,759.2 644.7,758.9 648.6,758.1 650.5,757.3 651.9,756.1 653.4,753.3 654.4,749.5 654.8,746.6 655.8,736.3 657.3,710.3 657.7,709.4 659.2,735.2 659.7,741.7 660.6,749.6 661.6,753.7 662.6,755.9 664.0,757.7 665.5,758.4 666.9,758.6 672.7,758.7 679.0,758.3 680.4,758.6 685.2,760.0 690.5,760.2 695.4,760.7 700.7,760.7 702.1,761.0 706.0,762.3 707.9,762.5 716.6,762.0 721.4,760.9 723.4,760.7 729.6,761.6 734.0,761.3 739.3,761.6 743.1,761.2 744.6,761.2 746.5,761.6 751.3,763.2 760.0,764.1 762.0,764.0 766.8,763.1 772.6,763.7 777.4,763.4 781.7,763.4 783.7,763.2 787.5,762.1 789.0,762.0 790.4,762.1 794.8,763.0 799.1,763.3 803.0,763.9 804.4,763.9 805.9,763.7 807.8,762.9 810.7,761.4 812.6,760.0 814.5,757.8 818.9,751.8 820.8,748.7 821.3,748.2 821.8,748.2 822.3,748.6 822.8,749.6 824.7,755.5 826.1,759.0 827.6,761.0 829.0,762.0 837.2,763.7 843.0,764.3 847.8,765.5 849.8,765.5 854.6,765.1 859.9,766.2 862.8,766.6" fill="none" stroke="#2c4fb6" stroke-width="1.4" stroke-linejoin="round" />
<path d="M573.3,834.1 577.6,833.0 580.1,832.9 588.3,833.6 593.1,835.1 595.0,835.5 600.8,835.2 605.1,835.6 610.5,835.6 614.3,836.2 615.8,836.2 617.7,835.8 619.6,834.5 621.1,833.0 623.5,829.1 624.0,828.9 624.4,829.1 626.4,831.8 627.8,833.1 629.3,833.6 632.6,834.1 637.5,835.3 638.9,835.3 640.8,834.9 642.3,834.3 645.2,832.6 646.2,832.5 648.6,833.2 649.5,833.1 650.5,832.5 651.9,830.8 652.9,828.7 653.4,827.2 654.4,822.2 654.8,818.1 655.8,803.9 657.3,767.2 657.7,766.1 659.2,803.1 659.7,812.4 660.6,823.4 661.6,829.1 662.1,830.8 663.0,833.1 664.0,834.4 665.0,835.3 667.4,836.6 669.3,837.1 670.8,837.2 674.6,836.8 676.6,836.8 682.3,837.9 687.2,837.5 692.0,837.7 697.3,837.3 699.2,837.7 702.6,839.0 704.5,839.5 713.2,840.4 715.2,840.4 718.5,839.8 720.0,839.7 724.8,840.6 727.2,840.7 730.6,840.3 735.4,840.2 740.2,839.1 742.2,838.9 743.6,839.1 747.5,840.0 752.3,840.5 757.1,841.4 763.9,841.1 769.7,842.4 777.9,843.0 780.3,842.8 784.6,841.5 786.6,841.2 791.4,841.4 795.7,841.2 800.1,841.5 801.5,841.4 803.5,841.0 809.7,838.5 811.2,837.6 812.1,836.8 814.1,833.9 817.0,827.8 818.9,824.7 820.8,821.0 821.3,820.5 821.8,820.4 822.3,821.1 822.8,822.4 825.2,832.0 826.6,835.9 827.6,837.6 828.5,838.8 830.0,840.1 831.4,841.1 833.4,842.1 834.8,842.6 839.6,843.2 844.5,844.2 846.4,844.1 850.3,843.3 852.2,843.2 859.9,843.9 862.8,844.5" fill="none" stroke="#e8302a" stroke-width="1.4" stroke-linejoin="round" />
<path d="M573.3,895.1 575.2,895.6 579.1,897.0 580.5,897.3 585.8,897.1 591.2,897.5 595.5,897.3 601.8,898.4 603.7,898.2 608.0,897.3 612.4,896.9 617.7,896.2 621.5,896.6 624.0,896.6 626.9,897.4 633.6,898.2 639.9,898.2 645.2,899.3 647.1,899.1 649.5,898.0 651.0,896.9 652.4,894.8 653.4,892.4 654.4,888.1 655.3,879.7 655.8,872.6 657.3,841.7 657.7,840.5 659.2,870.1 659.7,877.5 660.6,886.3 661.6,890.8 663.0,894.2 665.0,896.6 666.4,897.6 667.9,898.3 669.3,898.6 677.5,899.2 683.3,899.0 685.2,899.4 690.1,901.1 698.7,902.2 700.7,902.1 705.5,901.3 711.8,902.1 716.6,901.8 720.5,901.9 722.4,901.6 726.3,900.6 727.7,900.5 729.6,900.7 733.5,901.6 737.8,902.1 742.7,903.2 744.6,903.3 749.4,902.9 755.2,904.0 760.0,904.2 763.9,904.7 766.3,904.4 770.2,903.2 772.6,902.9 776.9,903.1 781.3,903.1 787.0,904.0 788.5,903.9 792.4,903.3 793.8,903.3 799.1,904.0 807.3,904.3 808.8,904.0 809.7,903.5 811.2,902.2 812.1,901.0 813.6,898.6 816.5,892.6 818.9,888.6 820.8,884.8 821.3,884.1 821.8,883.9 822.3,884.4 822.8,885.4 825.2,893.9 826.6,897.8 828.5,901.1 829.5,902.2 831.0,903.2 832.9,903.8 837.2,904.0 841.6,904.7 846.4,905.2 853.1,907.5 854.6,907.6 858.9,907.5 862.8,907.9" fill="none" stroke="#1a1a1a" stroke-width="1.4" stroke-linejoin="round" />
<rect x="573.30" y="679.50" width="289.50" height="232.50" fill="none" stroke="#262626" stroke-width="1.3" />
<line x1="573.30" y1="912.00" x2="573.30" y2="916.00" stroke="#262626" stroke-width="1.2" />
<line x1="645.67" y1="912.00" x2="645.67" y2="916.00" stroke="#262626" stroke-width="1.2" />
<line x1="718.05" y1="912.00" x2="718.05" y2="916.00" stroke="#262626" stroke-width="1.2" />
<line x1="790.42" y1="912.00" x2="790.42" y2="916.00" stroke="#262626" stroke-width="1.2" />
<line x1="862.80" y1="912.00" x2="862.80" y2="916.00" stroke="#262626" stroke-width="1.2" />
<line x1="609.49" y1="912.00" x2="609.49" y2="914.50" stroke="#262626" stroke-width="1.2" />
<line x1="681.86" y1="912.00" x2="681.86" y2="914.50" stroke="#262626" stroke-width="1.2" />
<line x1="754.24" y1="912.00" x2="754.24" y2="914.50" stroke="#262626" stroke-width="1.2" />
<line x1="826.61" y1="912.00" x2="826.61" y2="914.50" stroke="#262626" stroke-width="1.2" />
<text x="573.3" y="933.3" font-size="15.8" fill="#000" text-anchor="middle" >1000</text>
<text x="645.7" y="933.3" font-size="15.8" fill="#000" text-anchor="middle" >1500</text>
<text x="718.0" y="933.3" font-size="15.8" fill="#000" text-anchor="middle" >2000</text>
<text x="790.4" y="933.3" font-size="15.8" fill="#000" text-anchor="middle" >2500</text>
<text x="862.8" y="933.3" font-size="15.8" fill="#000" text-anchor="middle" >3000</text>
<text x="718.2" y="952.0" font-size="15.5" fill="#000" text-anchor="middle" >Raman shift (cm<tspan font-size="10" dy="-6">-1</tspan><tspan dy="6">)</tspan></text>
<text x="0" y="0" font-size="16" fill="#000" text-anchor="middle" transform="translate(565.0,791.8) rotate(-90)">Intensity (a.u.)</text>
<text x="586.0" y="696.8" font-size="18" font-weight="bold" fill="#000" text-anchor="middle" >(i)</text>
<line x1="777.70" y1="691.80" x2="798.50" y2="691.80" stroke="#2c4fb6" stroke-width="1.6" />
<text x="798.6" y="695.6" font-size="10.6" font-weight="bold" fill="#111" text-anchor="start" >Discharged</text>
<line x1="777.70" y1="704.40" x2="798.50" y2="704.40" stroke="#e8302a" stroke-width="1.6" />
<text x="798.6" y="708.2" font-size="10.6" font-weight="bold" fill="#111" text-anchor="start" >Charged</text>
<line x1="777.70" y1="716.30" x2="798.50" y2="716.30" stroke="#1a1a1a" stroke-width="1.6" />
<text x="798.6" y="720.1" font-size="10.6" font-weight="bold" fill="#111" text-anchor="start" >Pristine BEG</text>
<text x="707.0" y="746.6" font-size="13.5" font-weight="bold" fill="#000" text-anchor="middle" >I<tspan font-size="8.5" dy="3">D</tspan><tspan dy="-3">/I</tspan><tspan font-size="8.5" dy="3">G</tspan><tspan dy="-3">=0.063</tspan></text>
<text x="706.0" y="824.7" font-size="13.5" font-weight="bold" fill="#000" text-anchor="middle" >I<tspan font-size="8.5" dy="3">D</tspan><tspan dy="-3">/I</tspan><tspan font-size="8.5" dy="3">G</tspan><tspan dy="-3">=0.138</tspan></text>
<text x="702.6" y="890.8" font-size="13.5" font-weight="bold" fill="#000" text-anchor="middle" >I<tspan font-size="8.5" dy="3">D</tspan><tspan dy="-3">/I</tspan><tspan font-size="8.5" dy="3">G</tspan><tspan dy="-3">=0.045</tspan></text>
<text x="646.3" y="772.7" font-size="13.5" font-weight="bold" fill="#000" text-anchor="middle" >G</text>
<text x="622.8" y="823.0" font-size="13.5" font-weight="bold" fill="#000" text-anchor="middle" >D</text>
<text x="816.6" y="811.7" font-size="13.5" font-weight="bold" fill="#000" text-anchor="middle" >2D</text>
<clipPath id="cj"><rect x="899.1" y="679.5" width="171.19999999999993" height="234.0"/></clipPath>
<g clip-path="url(#cj)">
<path d="M899.1,752.6 912.2,750.7 918.0,749.6 923.7,748.3 928.8,746.8 933.4,745.2 938.0,743.3 942.0,741.3 945.4,739.3 948.8,736.9 952.2,734.3 955.7,731.3 961.4,725.5 971.7,713.7 975.7,709.8 978.0,708.1 979.7,707.2 981.4,706.6 983.1,706.4 984.8,706.5 987.1,707.3 988.8,708.3 991.1,710.0 994.5,713.3 1005.4,725.7 1011.1,731.5 1014.5,734.5 1018.0,737.1 1021.4,739.4 1025.4,741.7 1029.4,743.6 1034.0,745.5 1039.1,747.2 1044.3,748.6 1050.0,749.9 1056.3,751.1 1070.5,752.9" fill="none" stroke="#2c4fb6" stroke-width="1.6" stroke-linejoin="round" />
<path d="M899.1,830.5 906.5,829.3 913.4,827.9 919.7,826.2 925.4,824.3 930.5,822.2 935.1,819.9 939.7,817.1 943.7,814.1 947.1,811.0 950.5,807.4 954.0,803.3 956.8,799.3 961.4,792.0 971.1,774.3 975.1,767.9 976.8,765.8 978.5,764.1 980.3,763.1 982.0,762.7 983.7,763.0 985.4,763.9 987.1,765.4 988.8,767.4 992.3,772.6 1002.0,790.4 1007.7,799.6 1011.1,804.2 1014.5,808.3 1018.0,811.7 1022.0,815.1 1026.5,818.3 1031.1,820.9 1036.3,823.3 1041.4,825.2 1047.7,827.1 1054.5,828.7 1062.0,830.0 1070.5,831.2" fill="none" stroke="#e8302a" stroke-width="1.6" stroke-linejoin="round" />
<path d="M899.1,901.8 907.7,900.8 915.7,899.7 923.1,898.2 929.4,896.7 935.1,895.0 940.2,893.0 945.4,890.6 950.0,887.9 954.0,885.1 958.0,881.8 961.4,878.4 964.8,874.5 970.0,867.7 980.3,852.1 984.3,846.9 986.0,845.2 987.7,843.9 989.4,843.0 991.1,842.7 992.8,842.9 994.5,843.6 996.3,844.8 998.5,847.1 1002.0,851.5 1011.7,866.3 1016.8,873.3 1019.7,876.7 1023.1,880.3 1026.5,883.4 1030.0,886.1 1034.0,888.8 1038.0,891.0 1042.5,893.1 1047.1,894.8 1052.3,896.5 1058.0,897.9 1063.7,899.1 1070.5,900.2" fill="none" stroke="#1a1a1a" stroke-width="1.6" stroke-linejoin="round" />
</g>
<line x1="980.10" y1="757.60" x2="980.10" y2="913.50" stroke="#e8302a" stroke-width="1.45" stroke-dasharray="3.5,2"/>
<line x1="983.60" y1="701.80" x2="983.60" y2="913.50" stroke="#2c4fb6" stroke-width="1.45" stroke-dasharray="3.5,2"/>
<line x1="991.20" y1="717.00" x2="991.20" y2="913.50" stroke="#1a1a1a" stroke-width="1.45" stroke-dasharray="3.5,2"/>
<polygon points="996.5,723.8 980.4,723.8 980.4,719.5 970.4,728.0 980.4,736.5 980.4,732.2 996.5,732.2" fill="#2246a8"/>
<polygon points="996.5,785.1 980.4,785.1 980.4,780.9 970.4,789.4 980.4,797.9 980.4,793.6 996.5,793.6" fill="#e03224"/>
<rect x="899.10" y="679.50" width="171.20" height="234.00" fill="none" stroke="#262626" stroke-width="1.3" />
<line x1="899.10" y1="913.50" x2="899.10" y2="917.50" stroke="#262626" stroke-width="1.2" />
<line x1="975.30" y1="913.50" x2="975.30" y2="917.50" stroke="#262626" stroke-width="1.2" />
<line x1="1051.50" y1="913.50" x2="1051.50" y2="917.50" stroke="#262626" stroke-width="1.2" />
<line x1="937.20" y1="913.50" x2="937.20" y2="916.00" stroke="#262626" stroke-width="1.2" />
<line x1="1013.40" y1="913.50" x2="1013.40" y2="916.00" stroke="#262626" stroke-width="1.2" />
<text x="899.1" y="933.3" font-size="15.8" fill="#000" text-anchor="middle" >1560</text>
<text x="975.3" y="933.3" font-size="15.8" fill="#000" text-anchor="middle" >1580</text>
<text x="1051.5" y="933.3" font-size="15.8" fill="#000" text-anchor="middle" >1600</text>
<text x="985.0" y="952.0" font-size="15.5" fill="#000" text-anchor="middle" >Raman shift (cm<tspan font-size="10" dy="-6">-1</tspan><tspan dy="6">)</tspan></text>
<text x="912.0" y="695.6" font-size="18" font-weight="bold" fill="#000" text-anchor="middle" >(j)</text>
<text x="1019.9" y="705.6" font-size="16" font-weight="bold" fill="#000" text-anchor="middle" >G band</text>
<rect x="20.0" y="33.0" width="170.0" height="126.80000000000001" fill="#fff" filter="url(#semA)"/>
<svg x="20.0" y="33.0" width="170.0" height="126.80000000000001" overflow="hidden"><g filter="url(#sblur2)" transform="translate(-20.0,-33.0)">
<polygon points="153.0,33.0 190.0,33.0 190.0,75.0 180.0,68.0 170.0,58.0 156.0,45.0" fill="#8a8e92" />
<polygon points="163.0,40.0 180.0,37.0 190.0,51.0 182.0,63.0" fill="#9a9ea2" />
<polygon points="138.0,160.0 170.0,138.0 190.0,129.0 190.0,160.0" fill="#8e9296" />
<polygon points="170.0,160.0 178.0,141.0 190.0,133.0 190.0,160.0" fill="#a0a4a8" />
<polygon points="73.0,33.0 92.0,33.0 90.0,39.0 82.0,41.0" fill="#8a8e92" />
<polygon points="20.0,128.0 30.0,136.0 40.0,145.0 20.0,153.0" fill="#7a7e82" />
<polygon points="92.0,69.0 96.0,71.0 107.0,80.0 104.0,82.0" fill="#e6e6e6" />
<ellipse cx="53.0" cy="57.0" rx="4" ry="3" fill="#aeb2b5"/>
<polygon points="20.0,47.0 34.0,51.0 37.0,70.0 22.0,69.0" fill="#757a7d" />
<path d="M153.0,33.0 L157.0,45.0 L170.0,58.0 L180.0,68.0 L190.0,75.0 M138.0,160.0 L170.0,138.0 L190.0,129.0" stroke="#c8cacc" stroke-width="1.2" fill="none"/>
</g></svg>
<rect x="190.00" y="33.00" width="170.40" height="126.80" fill="#040604" stroke="none" stroke-width="0" />
<rect x="190.0" y="33.0" width="170.4" height="126.8" fill="#fff" filter="url(#redA)"/>
<rect x="20.00" y="159.80" width="170.00" height="126.00" fill="#040604" stroke="none" stroke-width="0" />
<rect x="20.0" y="159.8" width="170.0" height="126.0" fill="#fff" filter="url(#yelA)"/>
<rect x="190.00" y="159.80" width="170.40" height="126.00" fill="#040604" stroke="none" stroke-width="0" />
<rect x="190.0" y="159.8" width="170.4" height="126.0" fill="#fff" filter="url(#vioA)"/>
<rect x="378.9" y="30.0" width="169.10000000000002" height="126.80000000000001" fill="#fff" filter="url(#semB)"/>
<svg x="378.9" y="30.0" width="169.10000000000002" height="126.80000000000001" overflow="hidden"><g filter="url(#sblur)">
<polygon points="0.0,0.0 20.0,0.0 17.0,10.0 8.0,14.0 0.0,13.0" fill="#eeeeee" />
<polygon points="30.0,0.0 68.0,0.0 62.0,12.0 52.0,22.0 40.0,24.0 33.0,14.0" fill="#d8d9da" />
<polygon points="40.0,26.0 64.0,22.0 68.0,45.0 62.0,70.0 44.0,68.0" fill="#8f9194" opacity="0.55"/>
<polygon points="98.0,74.0 124.0,72.0 128.0,95.0 118.0,112.0 100.0,108.0" fill="#8f9194" opacity="0.5"/>
<polygon points="0.0,70.0 18.0,70.0 32.0,80.0 44.0,100.0 46.0,127.0 0.0,127.0" fill="#cfd0d1" opacity="0.85"/>
<polygon points="120.0,56.0 150.0,52.0 169.0,58.0 169.0,90.0 140.0,92.0 122.0,86.0" fill="#d0d1d2" opacity="0.85"/>
<polygon points="128.0,95.0 169.0,92.0 169.0,127.0 132.0,127.0" fill="#bdbebf" opacity="0.7"/>
<polygon points="120.0,22.0 128.0,12.0 142.0,6.0 160.0,5.0 165.0,18.0 158.0,30.0 140.0,34.0 126.0,32.0" fill="#505255" />
<polygon points="140.0,7.0 158.0,6.0 160.0,20.0 150.0,30.0 141.0,26.0" fill="#2c2e31" />
<polygon points="126.0,32.0 146.0,33.0 160.0,42.0 152.0,52.0 132.0,48.0" fill="#9a9c9f" opacity="0.8"/>
<ellipse cx="101" cy="53" rx="5" ry="6" fill="#45474b"/>
<path d="M39,45 L42,58 L45,68" stroke="#5a5c60" stroke-width="2" fill="none"/>
</g><g filter="url(#sblur2)" stroke="#ececec" stroke-width="1.0" fill="none" opacity="0.55">
<path d="M18,20 L30,40 L26,70 M40,18 L55,30 L60,50 M96,40 L110,30 L125,25 M70,80 L90,75 L104,96 M25,95 L40,110 M130,100 L150,95 L169,100 M80,110 L95,120 M0,72 L20,70 L34,82 M122,56 L150,52"/>
</g><rect x="0" y="0" width="170" height="127" fill="#fff" filter="url(#semFine)" opacity="0.22" style="mix-blend-mode:overlay"/></svg>
<rect x="548.00" y="30.00" width="170.10" height="126.80" fill="#040604" stroke="none" stroke-width="0" />
<rect x="548.0" y="30.0" width="170.1" height="126.8" fill="#fff" filter="url(#redB)"/>
<rect x="378.90" y="156.80" width="169.10" height="126.40" fill="#040604" stroke="none" stroke-width="0" />
<rect x="378.9" y="156.8" width="169.1" height="126.4" fill="#fff" filter="url(#yelB)"/>
<rect x="548.00" y="156.80" width="170.10" height="126.40" fill="#040604" stroke="none" stroke-width="0" />
<rect x="548.0" y="156.8" width="170.1" height="126.4" fill="#fff" filter="url(#vioB)"/>
<rect x="734.2" y="30.0" width="169.79999999999995" height="126.69999999999999" fill="#fff" filter="url(#semC)"/>
<svg x="734.2" y="30.0" width="169.79999999999995" height="126.69999999999999" overflow="hidden"><g filter="url(#sblur2)">
<polygon points="0.0,14.0 3.0,16.0 8.0,45.0 15.0,80.0 22.0,110.0 27.0,127.0 0.0,127.0" fill="#4e5154" />
<polygon points="0.0,75.0 5.0,80.0 9.0,110.0 0.0,115.0" fill="#62656a" />
<polygon points="126.0,0.0 132.0,0.0 131.0,50.0 133.0,90.0 134.0,127.0 129.0,127.0 128.0,60.0" fill="#6b6e72" />
<polygon points="134.0,60.0 146.0,58.0 152.0,70.0 150.0,100.0 148.0,127.0 134.0,127.0" fill="#505357" />
<polygon points="132.0,0.0 170.0,0.0 170.0,28.0 160.0,32.0 146.0,40.0 134.0,50.0" fill="#9fa2a5" />
<polygon points="150.0,60.0 170.0,55.0 170.0,127.0 150.0,127.0 152.0,95.0" fill="#a9abae" />
<polygon points="145.0,34.0 157.0,33.0 160.0,44.0 154.0,49.0 146.0,45.0" fill="#2e3034" />
<polygon points="163.0,30.0 170.0,28.0 170.0,70.0 164.0,62.0 162.0,45.0" fill="#383a3e" />
<polygon points="158.0,100.0 166.0,96.0 170.0,99.0 170.0,127.0 160.0,127.0" fill="#55585c" />
<polygon points="74.0,0.0 96.0,0.0 92.0,8.0 78.0,7.0" fill="#36383c" />
<polygon points="6.0,10.0 110.0,75.0 100.0,127.0 30.0,127.0 12.0,60.0" fill="#9c9ea1" opacity="0.35"/>
</g><g filter="url(#sblur2)" stroke="#e6e6e6" stroke-width="1.0" fill="none" opacity="0.65">
<path d="M2,6 L112,70 M95,40 L118,48 M92,80 L110,88 L108,100 M60,100 L70,115 M30,60 L45,70 M122,2 L128,60 L130,127"/>
</g><rect x="0" y="0" width="170" height="127" fill="#fff" filter="url(#semFine)" opacity="0.18" style="mix-blend-mode:overlay"/></svg>
<rect x="734.2" y="30.0" width="169.79999999999995" height="1.2" fill="#e8b8ee"/>
<rect x="904.00" y="30.00" width="170.90" height="126.70" fill="#040604" stroke="none" stroke-width="0" />
<rect x="904.0" y="30.0" width="170.9" height="126.7" fill="#fff" filter="url(#redC)"/>
<rect x="734.20" y="156.70" width="169.80" height="126.50" fill="#040604" stroke="none" stroke-width="0" />
<rect x="734.2" y="156.7" width="169.8" height="126.5" fill="#fff" filter="url(#yelC)"/>
<rect x="904.00" y="156.70" width="170.90" height="126.50" fill="#040604" stroke="none" stroke-width="0" />
<rect x="904.0" y="156.7" width="170.9" height="126.5" fill="#fff" filter="url(#vioC)"/>
<clipPath id="clA"><rect x="190" y="33" width="170.4" height="126.8"/></clipPath>
<clipPath id="clB"><rect x="548" y="30" width="170.1" height="126.8"/></clipPath>
<clipPath id="clC"><rect x="904" y="30" width="170.9" height="126.7"/></clipPath>
<g clip-path="url(#clA)"><ellipse cx="252" cy="40" rx="45" ry="30" fill="url(#rdark)" opacity="0.75"/></g>
<g clip-path="url(#clA)"><ellipse cx="300" cy="120" rx="50" ry="30" fill="url(#rdark)" opacity="0.25"/></g>
<g clip-path="url(#clB)"><ellipse cx="625" cy="95" rx="75" ry="55" fill="url(#rdark)" opacity="0.35"/></g>
<rect x="1005" y="30" width="70" height="126.7" fill="url(#ldarkR)" opacity="0.85"/>
<g clip-path="url(#clC)"><ellipse cx="1050" cy="45" rx="40" ry="30" fill="url(#rdark)" opacity="0.35"/></g>
<text x="338.6" y="57.0" font-size="18.5" font-weight="bold" fill="#fff" text-anchor="middle" >C</text>
<text x="167.4" y="182.5" font-size="18.5" font-weight="bold" fill="#fff" text-anchor="middle" >Al</text>
<text x="336.0" y="182.6" font-size="18.5" font-weight="bold" fill="#fff" text-anchor="middle" >Cl</text>
<text x="695.2" y="56.3" font-size="18.5" font-weight="bold" fill="#fff" text-anchor="middle" >C</text>
<text x="521.9" y="182.3" font-size="18.5" font-weight="bold" fill="#fff" text-anchor="middle" >Al</text>
<text x="689.7" y="182.3" font-size="18.5" font-weight="bold" fill="#fff" text-anchor="middle" >Cl</text>
<text x="1049.2" y="56.7" font-size="18.5" font-weight="bold" fill="#fff" text-anchor="middle" >C</text>
<text x="875.4" y="182.7" font-size="18.5" font-weight="bold" fill="#fff" text-anchor="middle" >Al</text>
<text x="1043.9" y="182.7" font-size="18.5" font-weight="bold" fill="#fff" text-anchor="middle" >Cl</text>
<path d="M29.6,991.6L35.0,988.2M35.0,988.2L43.7,988.2M43.7,988.2L46.9,991.6M41.5,995.0L46.9,991.6M32.9,995.0L41.5,995.0M29.6,991.6L32.9,995.0M46.9,991.6L55.6,991.6M55.6,991.6L58.8,995.0M53.5,998.4L58.8,995.0M44.9,998.4L53.5,998.4M41.5,995.0L44.9,998.4M27.6,998.4L32.9,995.0M39.5,1001.8L44.9,998.4M30.9,1001.8L39.5,1001.8M27.6,998.4L30.9,1001.8M53.5,998.4L56.8,1001.8M51.4,1005.2L56.8,1001.8M42.8,1005.2L51.4,1005.2M39.5,1001.8L42.8,1005.2M58.8,995.0L67.5,995.0M67.5,995.0L70.8,998.4M65.5,1001.8L70.8,998.4M56.8,1001.8L65.5,1001.8M70.8,998.4L79.5,998.4M79.5,998.4L82.7,1001.8M77.4,1005.2L82.7,1001.8M68.7,1005.2L77.4,1005.2M65.5,1001.8L68.7,1005.2M63.3,1008.6L68.7,1005.2M77.4,1005.2L80.6,1008.6M75.3,1012.0L80.6,1008.6M66.7,1012.0L75.3,1012.0M63.3,1008.6L66.7,1012.0M82.7,1001.8L91.4,1001.8M91.4,1001.8L94.7,1005.2M89.3,1008.6L94.7,1005.2M80.6,1008.6L89.3,1008.6M94.7,1005.2L103.3,1005.2M103.3,1005.2L106.7,1008.6M101.3,1012.0L106.7,1008.6M92.6,1012.0L101.3,1012.0M89.3,1008.6L92.6,1012.0M103.3,1005.2L108.7,1001.8M108.7,1001.8L117.3,1001.8M117.3,1001.8L120.6,1005.2M115.3,1008.6L120.6,1005.2M106.7,1008.6L115.3,1008.6" stroke="#555" stroke-width="1.25" fill="none"/>
<path d="M29.6,991.6h0M35.0,988.2h0M43.7,988.2h0M46.9,991.6h0M41.5,995.0h0M32.9,995.0h0M55.6,991.6h0M58.8,995.0h0M53.5,998.4h0M44.9,998.4h0M27.6,998.4h0M39.5,1001.8h0M30.9,1001.8h0M56.8,1001.8h0M51.4,1005.2h0M42.8,1005.2h0M67.5,995.0h0M70.8,998.4h0M65.5,1001.8h0M79.5,998.4h0M82.7,1001.8h0M77.4,1005.2h0M68.7,1005.2h0M63.3,1008.6h0M80.6,1008.6h0M75.3,1012.0h0M66.7,1012.0h0M91.4,1001.8h0M94.7,1005.2h0M89.3,1008.6h0M103.3,1005.2h0M106.7,1008.6h0M101.3,1012.0h0M92.6,1012.0h0M108.7,1001.8h0M117.3,1001.8h0M120.6,1005.2h0M115.3,1008.6h0" stroke="#404040" stroke-width="3.1" stroke-linecap="round" fill="none"/>
<path d="M144.7,993.0L151.9,995.0M150.0,999.1L151.9,995.0M141.0,1001.1L150.0,999.1M133.9,999.1L141.0,1001.1M133.9,999.1L135.7,995.0M135.7,995.0L144.7,993.0M160.9,993.0L168.0,995.0M166.1,999.1L168.0,995.0M157.2,1001.1L166.1,999.1M150.0,999.1L157.2,1001.1M151.9,995.0L160.9,993.0M177.0,993.0L184.1,995.0M166.1,999.1L173.3,1001.1M168.0,995.0L177.0,993.0M193.1,993.0L200.3,995.0M198.4,999.1L200.3,995.0M189.4,1001.1L198.4,999.1M184.1,995.0L193.1,993.0M209.3,993.0L216.4,995.0M214.6,999.1L216.4,995.0M205.6,1001.1L214.6,999.1M198.4,999.1L205.6,1001.1M200.3,995.0L209.3,993.0M155.3,1005.4L157.2,1001.1M146.3,1007.4L155.3,1005.4M139.2,1005.4L146.3,1007.4M139.2,1005.4L141.0,1001.1M171.4,1005.4L173.3,1001.1M162.4,1007.4L171.4,1005.4M155.3,1005.4L162.4,1007.4M187.6,1005.4L189.4,1001.1M178.6,1007.4L187.6,1005.4M171.4,1005.4L178.6,1007.4M203.7,1005.4L205.6,1001.1M194.7,1007.4L203.7,1005.4M187.6,1005.4L194.7,1007.4M214.6,999.1L221.7,1001.1M219.8,1005.4L221.7,1001.1M210.8,1007.4L219.8,1005.4M203.7,1005.4L210.8,1007.4M144.4,1011.5L146.3,1007.4M135.4,1013.5L144.4,1011.5M128.3,1011.5L135.4,1013.5M128.3,1011.5L130.2,1007.4M130.2,1007.4L139.2,1005.4M160.6,1011.5L162.4,1007.4M151.6,1013.5L160.6,1011.5M144.4,1011.5L151.6,1013.5M176.7,1011.5L178.6,1007.4M167.7,1013.5L176.7,1011.5M160.6,1011.5L167.7,1013.5M192.8,1011.5L194.7,1007.4M183.9,1013.5L192.8,1011.5M176.7,1011.5L183.9,1013.5M209.0,1011.5L210.8,1007.4M200.0,1013.5L209.0,1011.5M192.8,1011.5L200.0,1013.5" stroke="#555" stroke-width="1.25" fill="none"/>
<path d="M144.7,993.0h0M151.9,995.0h0M150.0,999.1h0M141.0,1001.1h0M133.9,999.1h0M135.7,995.0h0M160.9,993.0h0M168.0,995.0h0M166.1,999.1h0M157.2,1001.1h0M177.0,993.0h0M184.1,995.0h0M173.3,1001.1h0M193.1,993.0h0M200.3,995.0h0M198.4,999.1h0M189.4,1001.1h0M209.3,993.0h0M216.4,995.0h0M214.6,999.1h0M205.6,1001.1h0M155.3,1005.4h0M146.3,1007.4h0M139.2,1005.4h0M171.4,1005.4h0M162.4,1007.4h0M187.6,1005.4h0M178.6,1007.4h0M203.7,1005.4h0M194.7,1007.4h0M221.7,1001.1h0M219.8,1005.4h0M210.8,1007.4h0M144.4,1011.5h0M135.4,1013.5h0M128.3,1011.5h0M130.2,1007.4h0M160.6,1011.5h0M151.6,1013.5h0M176.7,1011.5h0M167.7,1013.5h0M192.8,1011.5h0M183.9,1013.5h0M209.0,1011.5h0M200.0,1013.5h0" stroke="#404040" stroke-width="3.1" stroke-linecap="round" fill="none"/>
<path d="M245.1,991.2L252.1,993.0M250.3,997.1L252.1,993.0M241.4,999.4L250.3,997.1M234.4,997.6L241.4,999.4M234.4,997.6L236.2,993.5M236.2,993.5L245.1,991.2M261.0,990.7L268.1,992.5M266.2,996.6L268.1,992.5M257.4,998.9L266.2,996.6M250.3,997.1L257.4,998.9M252.1,993.0L261.0,990.7M276.9,990.2L284.0,992.0M282.1,996.1L284.0,992.0M273.3,998.4L282.1,996.1M266.2,996.6L273.3,998.4M268.1,992.5L276.9,990.2M255.5,1003.1L257.4,998.9M246.6,1005.4L255.5,1003.1M239.6,1003.6L246.6,1005.4M239.6,1003.6L241.4,999.4M271.4,1002.6L273.3,998.4M262.6,1004.9L271.4,1002.6M255.5,1003.1L262.6,1004.9M282.1,996.1L289.2,997.9M287.3,1002.1L289.2,997.9M278.5,1004.4L287.3,1002.1M271.4,1002.6L278.5,1004.4M244.8,1009.5L246.6,1005.4M235.9,1011.8L244.8,1009.5M228.9,1010.0L235.9,1011.8M228.9,1010.0L230.7,1005.9M230.7,1005.9L239.6,1003.6M260.7,1009.0L262.6,1004.9M251.9,1011.3L260.7,1009.0M244.8,1009.5L251.9,1011.3M276.6,1008.5L278.5,1004.4M267.8,1010.8L276.6,1008.5M260.7,1009.0L267.8,1010.8M287.3,1002.1L294.4,1003.9M292.6,1008.0L294.4,1003.9M283.7,1010.3L292.6,1008.0M276.6,1008.5L283.7,1010.3M303.3,1001.6L310.3,1003.4M308.5,1007.5L310.3,1003.4M299.6,1009.9L308.5,1007.5M292.6,1008.0L299.6,1009.9M294.4,1003.9L303.3,1001.6" stroke="#555" stroke-width="1.25" fill="none"/>
<path d="M245.1,991.2h0M252.1,993.0h0M250.3,997.1h0M241.4,999.4h0M234.4,997.6h0M236.2,993.5h0M261.0,990.7h0M268.1,992.5h0M266.2,996.6h0M257.4,998.9h0M276.9,990.2h0M284.0,992.0h0M282.1,996.1h0M273.3,998.4h0M255.5,1003.1h0M246.6,1005.4h0M239.6,1003.6h0M271.4,1002.6h0M262.6,1004.9h0M289.2,997.9h0M287.3,1002.1h0M278.5,1004.4h0M244.8,1009.5h0M235.9,1011.8h0M228.9,1010.0h0M230.7,1005.9h0M260.7,1009.0h0M251.9,1011.3h0M276.6,1008.5h0M267.8,1010.8h0M294.4,1003.9h0M292.6,1008.0h0M283.7,1010.3h0M303.3,1001.6h0M310.3,1003.4h0M308.5,1007.5h0M299.6,1009.9h0" stroke="#404040" stroke-width="3.1" stroke-linecap="round" fill="none"/>
<path d="M30.4,1025.7L35.5,1022.1M35.5,1022.1L43.7,1021.7M43.7,1021.7L46.8,1024.9M41.7,1028.5L46.8,1024.9M33.5,1028.9L41.7,1028.5M30.4,1025.7L33.5,1028.9M46.8,1024.9L55.0,1024.4M55.0,1024.4L58.1,1027.6M53.1,1031.2L58.1,1027.6M44.9,1031.7L53.1,1031.2M41.7,1028.5L44.9,1031.7M90.9,1025.9L96.0,1022.3M96.0,1022.3L104.2,1021.9M104.2,1021.9L107.3,1025.1M102.3,1028.7L107.3,1025.1M94.1,1029.1L102.3,1028.7M90.9,1025.9L94.1,1029.1M104.2,1021.9L109.3,1018.3M109.3,1018.3L117.5,1017.9M117.5,1017.9L120.6,1021.1M115.5,1024.7L120.6,1021.1M107.3,1025.1L115.5,1024.7M28.5,1032.5L33.5,1028.9M39.8,1035.3L44.9,1031.7M31.6,1035.7L39.8,1035.3M28.5,1032.5L31.6,1035.7M53.1,1031.2L56.2,1034.4M51.1,1038.1L56.2,1034.4M42.9,1038.5L51.1,1038.1M39.8,1035.3L42.9,1038.5M58.1,1027.6L66.3,1027.2M66.3,1027.2L69.5,1030.4M64.4,1034.0L69.5,1030.4M56.2,1034.4L64.4,1034.0M69.5,1030.4L77.7,1030.0M77.7,1030.0L80.8,1033.2M75.7,1036.8L80.8,1033.2M67.5,1037.2L75.7,1036.8M64.4,1034.0L67.5,1037.2M77.7,1030.0L82.7,1026.4M82.7,1026.4L90.9,1025.9M89.0,1032.7L94.1,1029.1M80.8,1033.2L89.0,1032.7M102.3,1028.7L105.4,1031.9M100.3,1035.5L105.4,1031.9M92.1,1035.9L100.3,1035.5M89.0,1032.7L92.1,1035.9M115.5,1024.7L118.7,1027.8M113.6,1031.5L118.7,1027.8M105.4,1031.9L113.6,1031.5M62.4,1040.8L67.5,1037.2M54.2,1041.2L62.4,1040.8M51.1,1038.1L54.2,1041.2M75.7,1036.8L78.7,1040.0M73.7,1043.6L78.7,1040.0M65.5,1044.0L73.7,1043.6M62.4,1040.8L65.5,1044.0M86.9,1039.5L92.1,1035.9M78.7,1040.0L86.9,1039.5M100.3,1035.5L103.4,1038.7M98.3,1042.3L103.4,1038.7M90.1,1042.7L98.3,1042.3M86.9,1039.5L90.1,1042.7M113.6,1031.5L116.6,1034.6M111.6,1038.3L116.6,1034.6M103.4,1038.7L111.6,1038.3" stroke="#555" stroke-width="1.25" fill="none"/>
<path d="M30.4,1025.7h0M35.5,1022.1h0M43.7,1021.7h0M46.8,1024.9h0M41.7,1028.5h0M33.5,1028.9h0M55.0,1024.4h0M58.1,1027.6h0M53.1,1031.2h0M44.9,1031.7h0M90.9,1025.9h0M96.0,1022.3h0M104.2,1021.9h0M107.3,1025.1h0M102.3,1028.7h0M94.1,1029.1h0M109.3,1018.3h0M117.5,1017.9h0M120.6,1021.1h0M115.5,1024.7h0M28.5,1032.5h0M39.8,1035.3h0M31.6,1035.7h0M56.2,1034.4h0M51.1,1038.1h0M42.9,1038.5h0M66.3,1027.2h0M69.5,1030.4h0M64.4,1034.0h0M77.7,1030.0h0M80.8,1033.2h0M75.7,1036.8h0M67.5,1037.2h0M82.7,1026.4h0M89.0,1032.7h0M105.4,1031.9h0M100.3,1035.5h0M92.1,1035.9h0M118.7,1027.8h0M113.6,1031.5h0M62.4,1040.8h0M54.2,1041.2h0M78.7,1040.0h0M73.7,1043.6h0M65.5,1044.0h0M86.9,1039.5h0M103.4,1038.7h0M98.3,1042.3h0M90.1,1042.7h0M116.6,1034.6h0M111.6,1038.3h0" stroke="#404040" stroke-width="3.1" stroke-linecap="round" fill="none"/>
<path d="M145.5,1023.2L152.5,1024.9M150.7,1029.0L152.5,1024.9M141.9,1031.4L150.7,1029.0M135.0,1029.7L141.9,1031.4M135.0,1029.7L136.8,1025.6M136.8,1025.6L145.5,1023.2M161.2,1022.4L168.1,1024.1M166.3,1028.3L168.1,1024.1M157.6,1030.7L166.3,1028.3M150.7,1029.0L157.6,1030.7M152.5,1024.9L161.2,1022.4M176.8,1021.7L183.8,1023.4M182.0,1027.5L183.8,1023.4M173.2,1029.9L182.0,1027.5M166.3,1028.3L173.2,1029.9M168.1,1024.1L176.8,1021.7M192.5,1020.9L199.4,1022.6M197.6,1026.8L199.4,1022.6M182.0,1027.5L188.9,1029.2M183.8,1023.4L192.5,1020.9M208.2,1020.2L215.1,1021.9M213.3,1026.0L215.1,1021.9M204.5,1028.5L213.3,1026.0M197.6,1026.8L204.5,1028.5M199.4,1022.6L208.2,1020.2M155.8,1034.8L157.6,1030.7M147.1,1037.3L155.8,1034.8M140.1,1035.6L147.1,1037.3M140.1,1035.6L141.9,1031.4M171.4,1034.1L173.2,1029.9M162.7,1036.5L171.4,1034.1M155.8,1034.8L162.7,1036.5M187.1,1033.3L188.9,1029.2M178.4,1035.8L187.1,1033.3M171.4,1034.1L178.4,1035.8M202.7,1032.6L204.5,1028.5M194.0,1035.0L202.7,1032.6M187.1,1033.3L194.0,1035.0M213.3,1026.0L220.2,1027.7M218.4,1031.9L220.2,1027.7M209.7,1034.3L218.4,1031.9M202.7,1032.6L209.7,1034.3M145.3,1041.4L147.1,1037.3M136.5,1043.8L145.3,1041.4M129.6,1042.1L136.5,1043.8M129.6,1042.1L131.4,1038.0M131.4,1038.0L140.1,1035.6M160.9,1040.7L162.7,1036.5M152.2,1043.1L160.9,1040.7M145.3,1041.4L152.2,1043.1M176.6,1039.9L178.4,1035.8M167.8,1042.3L176.6,1039.9M160.9,1040.7L167.8,1042.3M192.2,1039.2L194.0,1035.0M183.5,1041.6L192.2,1039.2M176.6,1039.9L183.5,1041.6M207.9,1038.4L209.7,1034.3M199.1,1040.9L207.9,1038.4M192.2,1039.2L199.1,1040.9" stroke="#555" stroke-width="1.25" fill="none"/>
<path d="M145.5,1023.2h0M152.5,1024.9h0M150.7,1029.0h0M141.9,1031.4h0M135.0,1029.7h0M136.8,1025.6h0M161.2,1022.4h0M168.1,1024.1h0M166.3,1028.3h0M157.6,1030.7h0M176.8,1021.7h0M183.8,1023.4h0M182.0,1027.5h0M173.2,1029.9h0M192.5,1020.9h0M199.4,1022.6h0M197.6,1026.8h0M188.9,1029.2h0M208.2,1020.2h0M215.1,1021.9h0M213.3,1026.0h0M204.5,1028.5h0M155.8,1034.8h0M147.1,1037.3h0M140.1,1035.6h0M171.4,1034.1h0M162.7,1036.5h0M187.1,1033.3h0M178.4,1035.8h0M202.7,1032.6h0M194.0,1035.0h0M220.2,1027.7h0M218.4,1031.9h0M209.7,1034.3h0M145.3,1041.4h0M136.5,1043.8h0M129.6,1042.1h0M131.4,1038.0h0M160.9,1040.7h0M152.2,1043.1h0M176.6,1039.9h0M167.8,1042.3h0M192.2,1039.2h0M183.5,1041.6h0M207.9,1038.4h0M199.1,1040.9h0" stroke="#404040" stroke-width="3.1" stroke-linecap="round" fill="none"/>
<path d="M249.5,1021.5L256.5,1023.5M254.7,1027.7L256.5,1023.5M245.8,1029.7L254.7,1027.7M238.8,1027.7L245.8,1029.7M238.8,1027.7L240.6,1023.5M240.6,1023.5L249.5,1021.5M265.4,1021.5L272.5,1023.5M270.6,1027.7L272.5,1023.5M261.8,1029.7L270.6,1027.7M254.7,1027.7L261.8,1029.7M256.5,1023.5L265.4,1021.5M281.3,1021.5L288.4,1023.5M286.5,1027.7L288.4,1023.5M277.7,1029.7L286.5,1027.7M270.6,1027.7L277.7,1029.7M272.5,1023.5L281.3,1021.5M297.2,1021.5L304.3,1023.5M302.5,1027.7L304.3,1023.5M293.6,1029.7L302.5,1027.7M286.5,1027.7L293.6,1029.7M288.4,1023.5L297.2,1021.5M259.9,1033.9L261.8,1029.7M251.0,1035.9L259.9,1033.9M244.0,1033.9L251.0,1035.9M244.0,1033.9L245.8,1029.7M275.8,1033.9L277.7,1029.7M267.0,1035.9L275.8,1033.9M259.9,1033.9L267.0,1035.9M291.7,1033.9L293.6,1029.7M282.9,1035.9L291.7,1033.9M275.8,1033.9L282.9,1035.9M302.5,1027.7L309.5,1029.7M307.7,1033.9L309.5,1029.7M298.8,1035.9L307.7,1033.9M291.7,1033.9L298.8,1035.9M249.2,1040.1L251.0,1035.9M240.3,1042.1L249.2,1040.1M233.3,1040.1L240.3,1042.1M233.3,1040.1L235.1,1035.9M235.1,1035.9L244.0,1033.9M265.1,1040.1L267.0,1035.9M256.3,1042.1L265.1,1040.1M249.2,1040.1L256.3,1042.1M281.0,1040.1L282.9,1035.9M272.2,1042.1L281.0,1040.1M265.1,1040.1L272.2,1042.1M297.0,1040.1L298.8,1035.9M288.1,1042.1L297.0,1040.1M281.0,1040.1L288.1,1042.1M307.7,1033.9L314.7,1035.9M312.9,1040.1L314.7,1035.9M304.0,1042.1L312.9,1040.1M297.0,1040.1L304.0,1042.1" stroke="#555" stroke-width="1.25" fill="none"/>
<path d="M249.5,1021.5h0M256.5,1023.5h0M254.7,1027.7h0M245.8,1029.7h0M238.8,1027.7h0M240.6,1023.5h0M265.4,1021.5h0M272.5,1023.5h0M270.6,1027.7h0M261.8,1029.7h0M281.3,1021.5h0M288.4,1023.5h0M286.5,1027.7h0M277.7,1029.7h0M297.2,1021.5h0M304.3,1023.5h0M302.5,1027.7h0M293.6,1029.7h0M259.9,1033.9h0M251.0,1035.9h0M244.0,1033.9h0M275.8,1033.9h0M267.0,1035.9h0M291.7,1033.9h0M282.9,1035.9h0M309.5,1029.7h0M307.7,1033.9h0M298.8,1035.9h0M249.2,1040.1h0M240.3,1042.1h0M233.3,1040.1h0M235.1,1035.9h0M265.1,1040.1h0M256.3,1042.1h0M281.0,1040.1h0M272.2,1042.1h0M297.0,1040.1h0M288.1,1042.1h0M314.7,1035.9h0M312.9,1040.1h0M304.0,1042.1h0" stroke="#404040" stroke-width="3.1" stroke-linecap="round" fill="none"/>
<path d="M43.7,1051.7L50.9,1053.7M49.0,1057.9L50.9,1053.7M40.0,1059.9L49.0,1057.9M32.9,1057.9L40.0,1059.9M32.9,1057.9L34.7,1053.7M34.7,1053.7L43.7,1051.7M59.9,1051.7L67.0,1053.7M65.1,1057.9L67.0,1053.7M56.2,1059.9L65.1,1057.9M49.0,1057.9L56.2,1059.9M50.9,1053.7L59.9,1051.7M76.0,1051.7L83.1,1053.7M81.3,1057.9L83.1,1053.7M72.3,1059.9L81.3,1057.9M65.1,1057.9L72.3,1059.9M67.0,1053.7L76.0,1051.7M92.1,1051.7L99.3,1053.7M97.4,1057.9L99.3,1053.7M88.4,1059.9L97.4,1057.9M81.3,1057.9L88.4,1059.9M83.1,1053.7L92.1,1051.7M108.3,1051.7L115.4,1053.7M113.6,1057.9L115.4,1053.7M104.6,1059.9L113.6,1057.9M97.4,1057.9L104.6,1059.9M99.3,1053.7L108.3,1051.7M54.3,1064.1L56.2,1059.9M45.3,1066.1L54.3,1064.1M38.2,1064.1L45.3,1066.1M38.2,1064.1L40.0,1059.9M70.4,1064.1L72.3,1059.9M61.4,1066.1L70.4,1064.1M54.3,1064.1L61.4,1066.1M86.6,1064.1L88.4,1059.9M77.6,1066.1L86.6,1064.1M70.4,1064.1L77.6,1066.1M102.7,1064.1L104.6,1059.9M93.7,1066.1L102.7,1064.1M86.6,1064.1L93.7,1066.1M113.6,1057.9L120.7,1059.9M118.8,1064.1L120.7,1059.9M109.8,1066.1L118.8,1064.1M102.7,1064.1L109.8,1066.1M43.4,1070.3L45.3,1066.1M34.4,1072.3L43.4,1070.3M27.3,1070.3L34.4,1072.3M27.3,1070.3L29.2,1066.1M29.2,1066.1L38.2,1064.1M59.6,1070.3L61.4,1066.1M50.6,1072.3L59.6,1070.3M43.4,1070.3L50.6,1072.3M75.7,1070.3L77.6,1066.1M66.7,1072.3L75.7,1070.3M59.6,1070.3L66.7,1072.3M91.8,1070.3L93.7,1066.1M82.9,1072.3L91.8,1070.3M75.7,1070.3L82.9,1072.3M108.0,1070.3L109.8,1066.1M99.0,1072.3L108.0,1070.3M91.8,1070.3L99.0,1072.3" stroke="#555" stroke-width="1.25" fill="none"/>
<path d="M43.7,1051.7h0M50.9,1053.7h0M49.0,1057.9h0M40.0,1059.9h0M32.9,1057.9h0M34.7,1053.7h0M59.9,1051.7h0M67.0,1053.7h0M65.1,1057.9h0M56.2,1059.9h0M76.0,1051.7h0M83.1,1053.7h0M81.3,1057.9h0M72.3,1059.9h0M92.1,1051.7h0M99.3,1053.7h0M97.4,1057.9h0M88.4,1059.9h0M108.3,1051.7h0M115.4,1053.7h0M113.6,1057.9h0M104.6,1059.9h0M54.3,1064.1h0M45.3,1066.1h0M38.2,1064.1h0M70.4,1064.1h0M61.4,1066.1h0M86.6,1064.1h0M77.6,1066.1h0M102.7,1064.1h0M93.7,1066.1h0M120.7,1059.9h0M118.8,1064.1h0M109.8,1066.1h0M43.4,1070.3h0M34.4,1072.3h0M27.3,1070.3h0M29.2,1066.1h0M59.6,1070.3h0M50.6,1072.3h0M75.7,1070.3h0M66.7,1072.3h0M91.8,1070.3h0M82.9,1072.3h0M108.0,1070.3h0M99.0,1072.3h0" stroke="#404040" stroke-width="3.1" stroke-linecap="round" fill="none"/>
<path d="M144.3,1051.5L151.3,1053.5M149.5,1057.7L151.3,1053.5M140.6,1059.7L149.5,1057.7M133.6,1057.7L140.6,1059.7M133.6,1057.7L135.4,1053.5M135.4,1053.5L144.3,1051.5M160.2,1051.5L167.3,1053.5M165.4,1057.7L167.3,1053.5M156.5,1059.7L165.4,1057.7M149.5,1057.7L156.5,1059.7M151.3,1053.5L160.2,1051.5M176.1,1051.5L183.2,1053.5M181.3,1057.7L183.2,1053.5M172.5,1059.7L181.3,1057.7M165.4,1057.7L172.5,1059.7M167.3,1053.5L176.1,1051.5M192.0,1051.5L199.1,1053.5M197.2,1057.7L199.1,1053.5M183.2,1053.5L192.0,1051.5M208.0,1051.5L215.0,1053.5M213.2,1057.7L215.0,1053.5M204.3,1059.7L213.2,1057.7M197.2,1057.7L204.3,1059.7M199.1,1053.5L208.0,1051.5M154.7,1063.8L156.5,1059.7M145.8,1065.8L154.7,1063.8M138.8,1063.8L145.8,1065.8M138.8,1063.8L140.6,1059.7M170.6,1063.8L172.5,1059.7M161.8,1065.8L170.6,1063.8M154.7,1063.8L161.8,1065.8M170.6,1063.8L177.7,1065.8M202.5,1063.8L204.3,1059.7M193.6,1065.8L202.5,1063.8M213.2,1057.7L220.2,1059.7M218.4,1063.8L220.2,1059.7M209.5,1065.8L218.4,1063.8M202.5,1063.8L209.5,1065.8M144.0,1070.0L145.8,1065.8M135.1,1072.0L144.0,1070.0M128.1,1070.0L135.1,1072.0M128.1,1070.0L129.9,1065.8M129.9,1065.8L138.8,1063.8M159.9,1070.0L161.8,1065.8M151.1,1072.0L159.9,1070.0M144.0,1070.0L151.1,1072.0M175.8,1070.0L177.7,1065.8M167.0,1072.0L175.8,1070.0M159.9,1070.0L167.0,1072.0M191.8,1070.0L193.6,1065.8M182.9,1072.0L191.8,1070.0M175.8,1070.0L182.9,1072.0M207.7,1070.0L209.5,1065.8M198.8,1072.0L207.7,1070.0M191.8,1070.0L198.8,1072.0" stroke="#555" stroke-width="1.25" fill="none"/>
<path d="M144.3,1051.5h0M151.3,1053.5h0M149.5,1057.7h0M140.6,1059.7h0M133.6,1057.7h0M135.4,1053.5h0M160.2,1051.5h0M167.3,1053.5h0M165.4,1057.7h0M156.5,1059.7h0M176.1,1051.5h0M183.2,1053.5h0M181.3,1057.7h0M172.5,1059.7h0M192.0,1051.5h0M199.1,1053.5h0M197.2,1057.7h0M208.0,1051.5h0M215.0,1053.5h0M213.2,1057.7h0M204.3,1059.7h0M154.7,1063.8h0M145.8,1065.8h0M138.8,1063.8h0M170.6,1063.8h0M161.8,1065.8h0M177.7,1065.8h0M202.5,1063.8h0M193.6,1065.8h0M220.2,1059.7h0M218.4,1063.8h0M209.5,1065.8h0M144.0,1070.0h0M135.1,1072.0h0M128.1,1070.0h0M129.9,1065.8h0M159.9,1070.0h0M151.1,1072.0h0M175.8,1070.0h0M167.0,1072.0h0M191.8,1070.0h0M182.9,1072.0h0M207.7,1070.0h0M198.8,1072.0h0" stroke="#404040" stroke-width="3.1" stroke-linecap="round" fill="none"/>
<path d="M249.3,1054.2L256.2,1055.5M254.4,1059.5L256.2,1055.5M245.7,1062.5L254.4,1059.5M238.7,1061.2L245.7,1062.5M238.7,1061.2L240.5,1057.2M240.5,1057.2L249.3,1054.2M265.0,1052.5L271.9,1053.8M270.1,1058.0L271.9,1053.8M261.3,1060.8L270.1,1058.0M254.4,1059.5L261.3,1060.8M256.2,1055.5L265.0,1052.5M280.6,1051.0L287.6,1052.2M285.8,1056.2L287.6,1052.2M277.0,1059.2L285.8,1056.2M270.1,1058.0L277.0,1059.2M271.9,1053.8L280.6,1051.0M296.3,1049.2L303.3,1050.5M301.5,1054.7L303.3,1050.5M292.7,1057.5L301.5,1054.7M285.8,1056.2L292.7,1057.5M287.6,1052.2L296.3,1049.2M312.0,1047.7L319.0,1048.8M317.2,1053.0L319.0,1048.8M308.4,1055.8L317.2,1053.0M301.5,1054.7L308.4,1055.8M303.3,1050.5L312.0,1047.7M259.5,1065.0L261.3,1060.8M250.8,1067.8L259.5,1065.0M243.9,1066.7L250.8,1067.8M243.9,1066.7L245.7,1062.5M275.2,1063.3L277.0,1059.2M266.5,1066.2L275.2,1063.3M259.5,1065.0L266.5,1066.2M290.9,1061.7L292.7,1057.5M282.2,1064.5L290.9,1061.7M275.2,1063.3L282.2,1064.5M306.6,1060.0L308.4,1055.8M297.9,1063.0L306.6,1060.0M290.9,1061.7L297.9,1063.0M317.2,1053.0L324.1,1054.2M322.3,1058.3L324.1,1054.2M313.5,1061.2L322.3,1058.3M306.6,1060.0L313.5,1061.2M249.0,1072.0L250.8,1067.8M240.2,1074.8L249.0,1072.0M233.3,1073.7L240.2,1074.8M233.3,1073.7L235.1,1069.5M235.1,1069.5L243.9,1066.7M264.7,1070.3L266.5,1066.2M255.9,1073.2L264.7,1070.3M249.0,1072.0L255.9,1073.2M280.4,1068.7L282.2,1064.5M271.6,1071.5L280.4,1068.7M264.7,1070.3L271.6,1071.5M296.1,1067.0L297.9,1063.0M287.3,1070.0L296.1,1067.0M280.4,1068.7L287.3,1070.0M311.7,1065.3L313.5,1061.2M303.0,1068.2L311.7,1065.3M296.1,1067.0L303.0,1068.2" stroke="#555" stroke-width="1.25" fill="none"/>
<path d="M249.3,1054.2h0M256.2,1055.5h0M254.4,1059.5h0M245.7,1062.5h0M238.7,1061.2h0M240.5,1057.2h0M265.0,1052.5h0M271.9,1053.8h0M270.1,1058.0h0M261.3,1060.8h0M280.6,1051.0h0M287.6,1052.2h0M285.8,1056.2h0M277.0,1059.2h0M296.3,1049.2h0M303.3,1050.5h0M301.5,1054.7h0M292.7,1057.5h0M312.0,1047.7h0M319.0,1048.8h0M317.2,1053.0h0M308.4,1055.8h0M259.5,1065.0h0M250.8,1067.8h0M243.9,1066.7h0M275.2,1063.3h0M266.5,1066.2h0M290.9,1061.7h0M282.2,1064.5h0M306.6,1060.0h0M297.9,1063.0h0M324.1,1054.2h0M322.3,1058.3h0M313.5,1061.2h0M249.0,1072.0h0M240.2,1074.8h0M233.3,1073.7h0M235.1,1069.5h0M264.7,1070.3h0M255.9,1073.2h0M280.4,1068.7h0M271.6,1071.5h0M296.1,1067.0h0M287.3,1070.0h0M311.7,1065.3h0M303.0,1068.2h0" stroke="#404040" stroke-width="3.1" stroke-linecap="round" fill="none"/>
<path d="M44.7,1086.0L51.7,1087.3M49.9,1091.4L51.7,1087.3M41.1,1094.2L49.9,1091.4M34.2,1092.9L41.1,1094.2M34.2,1092.9L36.0,1088.8M36.0,1088.8L44.7,1086.0M60.4,1084.5L67.3,1085.8M65.5,1089.9L67.3,1085.8M56.8,1092.7L65.5,1089.9M49.9,1091.4L56.8,1092.7M51.7,1087.3L60.4,1084.5M76.0,1083.0L83.0,1084.3M81.2,1088.5L83.0,1084.3M72.4,1091.3L81.2,1088.5M65.5,1089.9L72.4,1091.3M67.3,1085.8L76.0,1083.0M91.7,1081.5L98.6,1082.8M96.8,1087.0L98.6,1082.8M88.1,1089.8L96.8,1087.0M81.2,1088.5L88.1,1089.8M83.0,1084.3L91.7,1081.5M107.4,1080.0L114.3,1081.4M112.5,1085.5L114.3,1081.4M103.7,1088.3L112.5,1085.5M96.8,1087.0L103.7,1088.3M98.6,1082.8L107.4,1080.0M55.0,1096.9L56.8,1092.7M46.3,1099.7L55.0,1096.9M39.3,1098.4L46.3,1099.7M39.3,1098.4L41.1,1094.2M70.6,1095.4L72.4,1091.3M61.9,1098.2L70.6,1095.4M55.0,1096.9L61.9,1098.2M86.3,1093.9L88.1,1089.8M77.6,1096.7L86.3,1093.9M70.6,1095.4L77.6,1096.7M101.9,1092.4L103.7,1088.3M93.2,1095.2L101.9,1092.4M86.3,1093.9L93.2,1095.2M112.5,1085.5L119.4,1086.8M117.6,1090.9L119.4,1086.8M108.9,1093.8L117.6,1090.9M101.9,1092.4L108.9,1093.8M44.5,1103.8L46.3,1099.7M35.7,1106.6L44.5,1103.8M28.8,1105.3L35.7,1106.6M28.8,1105.3L30.6,1101.2M30.6,1101.2L39.3,1098.4M60.1,1102.3L61.9,1098.2M51.4,1105.1L60.1,1102.3M44.5,1103.8L51.4,1105.1M75.8,1100.9L77.6,1096.7M67.0,1103.7L75.8,1100.9M60.1,1102.3L67.0,1103.7M91.4,1099.4L93.2,1095.2M82.7,1102.2L91.4,1099.4M75.8,1100.9L82.7,1102.2M107.1,1097.9L108.9,1093.8M98.3,1100.7L107.1,1097.9M91.4,1099.4L98.3,1100.7" stroke="#555" stroke-width="1.25" fill="none"/>
<path d="M44.7,1086.0h0M51.7,1087.3h0M49.9,1091.4h0M41.1,1094.2h0M34.2,1092.9h0M36.0,1088.8h0M60.4,1084.5h0M67.3,1085.8h0M65.5,1089.9h0M56.8,1092.7h0M76.0,1083.0h0M83.0,1084.3h0M81.2,1088.5h0M72.4,1091.3h0M91.7,1081.5h0M98.6,1082.8h0M96.8,1087.0h0M88.1,1089.8h0M107.4,1080.0h0M114.3,1081.4h0M112.5,1085.5h0M103.7,1088.3h0M55.0,1096.9h0M46.3,1099.7h0M39.3,1098.4h0M70.6,1095.4h0M61.9,1098.2h0M86.3,1093.9h0M77.6,1096.7h0M101.9,1092.4h0M93.2,1095.2h0M119.4,1086.8h0M117.6,1090.9h0M108.9,1093.8h0M44.5,1103.8h0M35.7,1106.6h0M28.8,1105.3h0M30.6,1101.2h0M60.1,1102.3h0M51.4,1105.1h0M75.8,1100.9h0M67.0,1103.7h0M91.4,1099.4h0M82.7,1102.2h0M107.1,1097.9h0M98.3,1100.7h0" stroke="#404040" stroke-width="3.1" stroke-linecap="round" fill="none"/>
<path d="M132.0,1080.7L137.2,1077.3M137.2,1077.3L145.3,1077.3M145.3,1077.3L148.4,1080.7M143.3,1084.1L148.4,1080.7M135.1,1084.1L143.3,1084.1M132.0,1080.7L135.1,1084.1M148.4,1080.7L156.6,1080.7M156.6,1080.7L159.7,1084.1M154.7,1087.5L159.7,1084.1M146.5,1087.5L154.7,1087.5M143.3,1084.1L146.5,1087.5M156.6,1080.7L161.7,1077.3M161.7,1077.3L169.9,1077.3M169.9,1077.3L173.0,1080.7M173.0,1080.7L181.2,1080.7M181.2,1080.7L184.3,1084.1M181.2,1080.7L186.3,1077.3M186.3,1077.3L194.5,1077.3M194.5,1077.3L197.6,1080.7M192.5,1084.1L197.6,1080.7M184.3,1084.1L192.5,1084.1M197.6,1080.7L205.7,1080.7M205.7,1080.7L208.8,1084.1M203.8,1087.5L208.8,1084.1M195.6,1087.5L203.8,1087.5M192.5,1084.1L195.6,1087.5M130.1,1087.5L135.1,1084.1M141.4,1090.9L146.5,1087.5M133.2,1090.9L141.4,1090.9M130.1,1087.5L133.2,1090.9M144.5,1094.3L152.7,1094.3M141.4,1090.9L144.5,1094.3M177.2,1094.3L182.3,1090.9M190.5,1090.9L195.6,1087.5M182.3,1090.9L190.5,1090.9M203.8,1087.5L206.9,1090.9M201.8,1094.3L206.9,1090.9M193.6,1094.3L201.8,1094.3M190.5,1090.9L193.6,1094.3M208.8,1084.1L217.0,1084.1M217.0,1084.1L220.2,1087.5M215.1,1090.9L220.2,1087.5M206.9,1090.9L215.1,1090.9M128.1,1094.3L133.2,1090.9M139.5,1097.7L144.5,1094.3M131.3,1097.7L139.5,1097.7M128.1,1094.3L131.3,1097.7M152.7,1094.3L155.7,1097.7M150.7,1101.1L155.7,1097.7M142.6,1101.1L150.7,1101.1M139.5,1097.7L142.6,1101.1M155.7,1097.7L163.9,1097.7M177.2,1094.3L180.3,1097.7M175.3,1101.1L180.3,1097.7M167.1,1101.1L175.3,1101.1M163.9,1097.7L167.1,1101.1M188.5,1097.7L193.6,1094.3M180.3,1097.7L188.5,1097.7M201.8,1094.3L205.0,1097.7M199.9,1101.1L205.0,1097.7M191.7,1101.1L199.9,1101.1M188.5,1097.7L191.7,1101.1" stroke="#555" stroke-width="1.25" fill="none"/>
<path d="M132.0,1080.7h0M137.2,1077.3h0M145.3,1077.3h0M148.4,1080.7h0M143.3,1084.1h0M135.1,1084.1h0M156.6,1080.7h0M159.7,1084.1h0M154.7,1087.5h0M146.5,1087.5h0M161.7,1077.3h0M169.9,1077.3h0M173.0,1080.7h0M181.2,1080.7h0M184.3,1084.1h0M186.3,1077.3h0M194.5,1077.3h0M197.6,1080.7h0M192.5,1084.1h0M205.7,1080.7h0M208.8,1084.1h0M203.8,1087.5h0M195.6,1087.5h0M130.1,1087.5h0M141.4,1090.9h0M133.2,1090.9h0M144.5,1094.3h0M152.7,1094.3h0M177.2,1094.3h0M182.3,1090.9h0M190.5,1090.9h0M206.9,1090.9h0M201.8,1094.3h0M193.6,1094.3h0M217.0,1084.1h0M220.2,1087.5h0M215.1,1090.9h0M128.1,1094.3h0M139.5,1097.7h0M131.3,1097.7h0M155.7,1097.7h0M150.7,1101.1h0M142.6,1101.1h0M163.9,1097.7h0M180.3,1097.7h0M175.3,1101.1h0M167.1,1101.1h0M188.5,1097.7h0M205.0,1097.7h0M199.9,1101.1h0M191.7,1101.1h0" stroke="#404040" stroke-width="3.1" stroke-linecap="round" fill="none"/>
<path d="M235.2,1086.3L240.4,1082.9M240.4,1082.9L248.6,1082.9M248.6,1082.9L251.8,1086.3M246.6,1089.7L251.8,1086.3M238.3,1089.7L246.6,1089.7M235.2,1086.3L238.3,1089.7M251.8,1086.3L260.0,1086.3M260.0,1086.3L263.1,1089.7M258.1,1093.1L263.1,1089.7M249.8,1093.1L258.1,1093.1M246.6,1089.7L249.8,1093.1M260.0,1086.3L265.2,1082.9M265.2,1082.9L273.4,1082.9M273.4,1082.9L276.5,1086.3M271.4,1089.7L276.5,1086.3M263.1,1089.7L271.4,1089.7M276.5,1086.3L284.8,1086.3M284.8,1086.3L287.9,1089.7M282.8,1093.1L287.9,1089.7M274.6,1093.1L282.8,1093.1M271.4,1089.7L274.6,1093.1M233.3,1093.1L238.3,1089.7M244.7,1096.5L249.8,1093.1M236.4,1096.5L244.7,1096.5M233.3,1093.1L236.4,1096.5M258.1,1093.1L261.2,1096.5M256.0,1099.9L261.2,1096.5M247.8,1099.9L256.0,1099.9M244.7,1096.5L247.8,1099.9M269.4,1096.5L274.6,1093.1M261.2,1096.5L269.4,1096.5M282.8,1093.1L285.9,1096.5M280.8,1099.9L285.9,1096.5M272.5,1099.9L280.8,1099.9M269.4,1096.5L272.5,1099.9M287.9,1089.7L296.1,1089.7M296.1,1089.7L299.3,1093.1M294.2,1096.5L299.3,1093.1M285.9,1096.5L294.2,1096.5M299.3,1093.1L307.6,1093.1M307.6,1093.1L310.7,1096.5M305.6,1099.9L310.7,1096.5M297.3,1099.9L305.6,1099.9M294.2,1096.5L297.3,1099.9M307.6,1093.1L312.6,1089.7M312.6,1089.7L320.9,1089.7M320.9,1089.7L324.1,1093.1M319.0,1096.5L324.1,1093.1M310.7,1096.5L319.0,1096.5M267.4,1103.3L272.5,1099.9M259.1,1103.3L267.4,1103.3M256.0,1099.9L259.1,1103.3M280.8,1099.9L283.9,1103.3M278.8,1106.7L283.9,1103.3M270.6,1106.7L278.8,1106.7M267.4,1103.3L270.6,1106.7M292.2,1103.3L297.3,1099.9M283.9,1103.3L292.2,1103.3M305.6,1099.9L308.8,1103.3M303.6,1106.7L308.8,1103.3M295.4,1106.7L303.6,1106.7M292.2,1103.3L295.4,1106.7M319.0,1096.5L322.1,1099.9M317.0,1103.3L322.1,1099.9M308.8,1103.3L317.0,1103.3" stroke="#555" stroke-width="1.25" fill="none"/>
<path d="M235.2,1086.3h0M240.4,1082.9h0M248.6,1082.9h0M251.8,1086.3h0M246.6,1089.7h0M238.3,1089.7h0M260.0,1086.3h0M263.1,1089.7h0M258.1,1093.1h0M249.8,1093.1h0M265.2,1082.9h0M273.4,1082.9h0M276.5,1086.3h0M271.4,1089.7h0M284.8,1086.3h0M287.9,1089.7h0M282.8,1093.1h0M274.6,1093.1h0M233.3,1093.1h0M244.7,1096.5h0M236.4,1096.5h0M261.2,1096.5h0M256.0,1099.9h0M247.8,1099.9h0M269.4,1096.5h0M285.9,1096.5h0M280.8,1099.9h0M272.5,1099.9h0M296.1,1089.7h0M299.3,1093.1h0M294.2,1096.5h0M307.6,1093.1h0M310.7,1096.5h0M305.6,1099.9h0M297.3,1099.9h0M312.6,1089.7h0M320.9,1089.7h0M324.1,1093.1h0M319.0,1096.5h0M267.4,1103.3h0M259.1,1103.3h0M283.9,1103.3h0M278.8,1106.7h0M270.6,1106.7h0M292.2,1103.3h0M308.8,1103.3h0M303.6,1106.7h0M295.4,1106.7h0M322.1,1099.9h0M317.0,1103.3h0" stroke="#404040" stroke-width="3.1" stroke-linecap="round" fill="none"/>
<path d="M399.0,984.5L404.5,981.1M404.5,981.1L413.2,981.1M413.2,981.1L416.5,984.5M411.0,987.9L416.5,984.5M402.3,987.9L411.0,987.9M399.0,984.5L402.3,987.9M416.5,984.5L425.2,984.5M425.2,984.5L428.4,987.9M423.1,991.2L428.4,987.9M414.4,991.2L423.1,991.2M411.0,987.9L414.4,991.2M397.0,991.2L402.3,987.9M409.0,994.7L414.4,991.2M400.3,994.7L409.0,994.7M397.0,991.2L400.3,994.7M423.1,991.2L426.4,994.7M421.0,998.1L426.4,994.7M412.3,998.1L421.0,998.1M409.0,994.7L412.3,998.1M428.4,987.9L437.1,987.9M437.1,987.9L440.5,991.2M435.1,994.7L440.5,991.2M426.4,994.7L435.1,994.7M440.5,991.2L449.2,991.2M449.2,991.2L452.5,994.7M447.1,998.1L452.5,994.7M438.4,998.1L447.1,998.1M435.1,994.7L438.4,998.1M432.9,1001.5L438.4,998.1M447.1,998.1L450.4,1001.5M445.0,1004.9L450.4,1001.5M436.3,1004.9L445.0,1004.9M432.9,1001.5L436.3,1004.9M452.5,994.7L461.2,994.7M461.2,994.7L464.5,998.1M459.1,1001.5L464.5,998.1M450.4,1001.5L459.1,1001.5M464.5,998.1L473.2,998.1M473.2,998.1L476.6,1001.5M471.1,1004.9L476.6,1001.5M462.4,1004.9L471.1,1004.9M459.1,1001.5L462.4,1004.9M473.2,998.1L478.6,994.7M478.6,994.7L487.3,994.7M487.3,994.7L490.6,998.1M485.3,1001.5L490.6,998.1M476.6,1001.5L485.3,1001.5" stroke="#555" stroke-width="1.25" fill="none"/>
<path d="M399.0,984.5h0M404.5,981.1h0M413.2,981.1h0M416.5,984.5h0M411.0,987.9h0M402.3,987.9h0M425.2,984.5h0M428.4,987.9h0M423.1,991.2h0M414.4,991.2h0M397.0,991.2h0M409.0,994.7h0M400.3,994.7h0M426.4,994.7h0M421.0,998.1h0M412.3,998.1h0M437.1,987.9h0M440.5,991.2h0M435.1,994.7h0M449.2,991.2h0M452.5,994.7h0M447.1,998.1h0M438.4,998.1h0M432.9,1001.5h0M450.4,1001.5h0M445.0,1004.9h0M436.3,1004.9h0M461.2,994.7h0M464.5,998.1h0M459.1,1001.5h0M473.2,998.1h0M476.6,1001.5h0M471.1,1004.9h0M462.4,1004.9h0M478.6,994.7h0M487.3,994.7h0M490.6,998.1h0M485.3,1001.5h0" stroke="#404040" stroke-width="3.1" stroke-linecap="round" fill="none"/>
<path d="M515.1,985.5L522.2,987.5M520.3,991.7L522.2,987.5M511.5,993.7L520.3,991.7M504.4,991.7L511.5,993.7M504.4,991.7L506.2,987.5M506.2,987.5L515.1,985.5M531.0,985.5L538.1,987.5M536.3,991.7L538.1,987.5M527.4,993.7L536.3,991.7M520.3,991.7L527.4,993.7M522.2,987.5L531.0,985.5M547.0,985.5L554.0,987.5M536.3,991.7L543.3,993.7M538.1,987.5L547.0,985.5M562.9,985.5L570.0,987.5M568.1,991.7L570.0,987.5M559.2,993.7L568.1,991.7M554.0,987.5L562.9,985.5M578.8,985.5L585.9,987.5M584.1,991.7L585.9,987.5M575.2,993.7L584.1,991.7M568.1,991.7L575.2,993.7M570.0,987.5L578.8,985.5M525.5,997.9L527.4,993.7M516.7,999.9L525.5,997.9M509.6,997.9L516.7,999.9M509.6,997.9L511.5,993.7M541.5,997.9L543.3,993.7M532.6,999.9L541.5,997.9M525.5,997.9L532.6,999.9M557.4,997.9L559.2,993.7M548.5,999.9L557.4,997.9M541.5,997.9L548.5,999.9M573.3,997.9L575.2,993.7M564.5,999.9L573.3,997.9M557.4,997.9L564.5,999.9M584.1,991.7L591.1,993.7M589.3,997.9L591.1,993.7M580.4,999.9L589.3,997.9M573.3,997.9L580.4,999.9M514.8,1004.1L516.7,999.9M505.9,1006.1L514.8,1004.1M498.9,1004.1L505.9,1006.1M498.9,1004.1L500.7,999.9M500.7,999.9L509.6,997.9M530.8,1004.1L532.6,999.9M521.9,1006.1L530.8,1004.1M514.8,1004.1L521.9,1006.1M546.7,1004.1L548.5,999.9M537.8,1006.1L546.7,1004.1M530.8,1004.1L537.8,1006.1M562.6,1004.1L564.5,999.9M553.7,1006.1L562.6,1004.1M546.7,1004.1L553.7,1006.1M578.5,1004.1L580.4,999.9M569.7,1006.1L578.5,1004.1M562.6,1004.1L569.7,1006.1" stroke="#555" stroke-width="1.25" fill="none"/>
<path d="M515.1,985.5h0M522.2,987.5h0M520.3,991.7h0M511.5,993.7h0M504.4,991.7h0M506.2,987.5h0M531.0,985.5h0M538.1,987.5h0M536.3,991.7h0M527.4,993.7h0M547.0,985.5h0M554.0,987.5h0M543.3,993.7h0M562.9,985.5h0M570.0,987.5h0M568.1,991.7h0M559.2,993.7h0M578.8,985.5h0M585.9,987.5h0M584.1,991.7h0M575.2,993.7h0M525.5,997.9h0M516.7,999.9h0M509.6,997.9h0M541.5,997.9h0M532.6,999.9h0M557.4,997.9h0M548.5,999.9h0M573.3,997.9h0M564.5,999.9h0M591.1,993.7h0M589.3,997.9h0M580.4,999.9h0M514.8,1004.1h0M505.9,1006.1h0M498.9,1004.1h0M500.7,999.9h0M530.8,1004.1h0M521.9,1006.1h0M546.7,1004.1h0M537.8,1006.1h0M562.6,1004.1h0M553.7,1006.1h0M578.5,1004.1h0M569.7,1006.1h0" stroke="#404040" stroke-width="3.1" stroke-linecap="round" fill="none"/>
<path d="M615.4,984.7L622.3,986.5M620.5,990.6L622.3,986.5M611.7,992.9L620.5,990.6M604.8,991.1L611.7,992.9M604.8,991.1L606.6,987.0M606.6,987.0L615.4,984.7M631.1,984.2L638.1,986.0M636.3,990.1L638.1,986.0M627.5,992.4L636.3,990.1M620.5,990.6L627.5,992.4M622.3,986.5L631.1,984.2M646.9,983.7L653.9,985.5M652.1,989.6L653.9,985.5M643.3,991.9L652.1,989.6M636.3,990.1L643.3,991.9M638.1,986.0L646.9,983.7M625.7,996.6L627.5,992.4M616.9,998.9L625.7,996.6M609.9,997.1L616.9,998.9M609.9,997.1L611.7,992.9M641.5,996.1L643.3,991.9M632.7,998.4L641.5,996.1M625.7,996.6L632.7,998.4M652.1,989.6L659.1,991.4M657.2,995.6L659.1,991.4M648.4,997.9L657.2,995.6M641.5,996.1L648.4,997.9M615.1,1003.0L616.9,998.9M606.3,1005.2L615.1,1003.0M599.3,1003.5L606.3,1005.2M599.3,1003.5L601.1,999.4M601.1,999.4L609.9,997.1M630.9,1002.5L632.7,998.4M622.1,1004.8L630.9,1002.5M615.1,1003.0L622.1,1004.8M646.6,1002.0L648.4,997.9M637.8,1004.2L646.6,1002.0M630.9,1002.5L637.8,1004.2M657.2,995.6L664.2,997.4M662.4,1001.5L664.2,997.4M653.6,1003.8L662.4,1001.5M646.6,1002.0L653.6,1003.8M673.0,995.1L680.0,996.9M678.2,1001.0L680.0,996.9M669.4,1003.4L678.2,1001.0M662.4,1001.5L669.4,1003.4M664.2,997.4L673.0,995.1" stroke="#555" stroke-width="1.25" fill="none"/>
<path d="M615.4,984.7h0M622.3,986.5h0M620.5,990.6h0M611.7,992.9h0M604.8,991.1h0M606.6,987.0h0M631.1,984.2h0M638.1,986.0h0M636.3,990.1h0M627.5,992.4h0M646.9,983.7h0M653.9,985.5h0M652.1,989.6h0M643.3,991.9h0M625.7,996.6h0M616.9,998.9h0M609.9,997.1h0M641.5,996.1h0M632.7,998.4h0M659.1,991.4h0M657.2,995.6h0M648.4,997.9h0M615.1,1003.0h0M606.3,1005.2h0M599.3,1003.5h0M601.1,999.4h0M630.9,1002.5h0M622.1,1004.8h0M646.6,1002.0h0M637.8,1004.2h0M664.2,997.4h0M662.4,1001.5h0M653.6,1003.8h0M673.0,995.1h0M680.0,996.9h0M678.2,1001.0h0M669.4,1003.4h0" stroke="#404040" stroke-width="3.1" stroke-linecap="round" fill="none"/>
<path d="M413.5,1020.0L420.6,1021.9M418.8,1026.0L420.6,1021.9M409.7,1028.2L418.8,1026.0M402.6,1026.3L409.7,1028.2M402.6,1026.3L404.4,1022.2M404.4,1022.2L413.5,1020.0M429.6,1019.6L436.8,1021.5M434.9,1025.7L436.8,1021.5M425.9,1027.9L434.9,1025.7M418.8,1026.0L425.9,1027.9M420.6,1021.9L429.6,1019.6M478.2,1018.6L485.3,1020.5M483.4,1024.7L485.3,1020.5M474.4,1026.9L483.4,1024.7M467.3,1025.0L474.4,1026.9M467.3,1025.0L469.1,1020.9M469.1,1020.9L478.2,1018.6M424.1,1032.0L425.9,1027.9M415.0,1034.3L424.1,1032.0M407.9,1032.4L415.0,1034.3M407.9,1032.4L409.7,1028.2M434.9,1025.7L442.1,1027.6M440.2,1031.7L442.1,1027.6M431.2,1033.9L440.2,1031.7M424.1,1032.0L431.2,1033.9M451.1,1025.3L458.3,1027.2M456.4,1031.4L458.3,1027.2M447.4,1033.6L456.4,1031.4M440.2,1031.7L447.4,1033.6M442.1,1027.6L451.1,1025.3M472.6,1031.0L474.4,1026.9M463.5,1033.3L472.6,1031.0M456.4,1031.4L463.5,1033.3M458.3,1027.2L467.3,1025.0M483.4,1024.7L490.6,1026.6M488.7,1030.7L490.6,1026.6M479.7,1032.9L488.7,1030.7M472.6,1031.0L479.7,1032.9M413.2,1038.4L415.0,1034.3M404.2,1040.6L413.2,1038.4M397.0,1038.7L404.2,1040.6M397.0,1038.7L398.9,1034.6M398.9,1034.6L407.9,1032.4M429.3,1038.1L431.2,1033.9M420.3,1040.3L429.3,1038.1M413.2,1038.4L420.3,1040.3M445.5,1037.7L447.4,1033.6M436.5,1040.0L445.5,1037.7M429.3,1038.1L436.5,1040.0M461.7,1037.4L463.5,1033.3M452.7,1039.6L461.7,1037.4M445.5,1037.7L452.7,1039.6M477.9,1037.1L479.7,1032.9M468.8,1039.3L477.9,1037.1M461.7,1037.4L468.8,1039.3" stroke="#555" stroke-width="1.25" fill="none"/>
<path d="M413.5,1020.0h0M420.6,1021.9h0M418.8,1026.0h0M409.7,1028.2h0M402.6,1026.3h0M404.4,1022.2h0M429.6,1019.6h0M436.8,1021.5h0M434.9,1025.7h0M425.9,1027.9h0M478.2,1018.6h0M485.3,1020.5h0M483.4,1024.7h0M474.4,1026.9h0M467.3,1025.0h0M469.1,1020.9h0M424.1,1032.0h0M415.0,1034.3h0M407.9,1032.4h0M442.1,1027.6h0M440.2,1031.7h0M431.2,1033.9h0M451.1,1025.3h0M458.3,1027.2h0M456.4,1031.4h0M447.4,1033.6h0M472.6,1031.0h0M463.5,1033.3h0M490.6,1026.6h0M488.7,1030.7h0M479.7,1032.9h0M413.2,1038.4h0M404.2,1040.6h0M397.0,1038.7h0M398.9,1034.6h0M429.3,1038.1h0M420.3,1040.3h0M445.5,1037.7h0M436.5,1040.0h0M461.7,1037.4h0M452.7,1039.6h0M477.9,1037.1h0M468.8,1039.3h0" stroke="#404040" stroke-width="3.1" stroke-linecap="round" fill="none"/>
<path d="M515.6,1022.2L522.5,1023.9M520.7,1028.0L522.5,1023.9M512.0,1030.4L520.7,1028.0M505.2,1028.7L512.0,1030.4M505.2,1028.7L507.0,1024.6M507.0,1024.6L515.6,1022.2M531.1,1021.4L538.0,1023.1M536.2,1027.3L538.0,1023.1M527.6,1029.7L536.2,1027.3M520.7,1028.0L527.6,1029.7M522.5,1023.9L531.1,1021.4M546.7,1020.7L553.6,1022.4M551.8,1026.5L553.6,1022.4M543.1,1028.9L551.8,1026.5M536.2,1027.3L543.1,1028.9M538.0,1023.1L546.7,1020.7M562.2,1019.9L569.1,1021.6M567.3,1025.8L569.1,1021.6M551.8,1026.5L558.6,1028.2M553.6,1022.4L562.2,1019.9M577.7,1019.2L584.6,1020.9M582.8,1025.0L584.6,1020.9M574.2,1027.5L582.8,1025.0M567.3,1025.8L574.2,1027.5M569.1,1021.6L577.7,1019.2M525.8,1033.8L527.6,1029.7M517.1,1036.3L525.8,1033.8M510.2,1034.6L517.1,1036.3M510.2,1034.6L512.0,1030.4M541.3,1033.1L543.1,1028.9M532.7,1035.5L541.3,1033.1M525.8,1033.8L532.7,1035.5M556.8,1032.3L558.6,1028.2M548.2,1034.8L556.8,1032.3M541.3,1033.1L548.2,1034.8M572.4,1031.6L574.2,1027.5M563.7,1034.0L572.4,1031.6M556.8,1032.3L563.7,1034.0M582.8,1025.0L589.7,1026.7M587.9,1030.9L589.7,1026.7M579.3,1033.3L587.9,1030.9M572.4,1031.6L579.3,1033.3M515.3,1040.4L517.1,1036.3M506.7,1042.8L515.3,1040.4M499.8,1041.1L506.7,1042.8M499.8,1041.1L501.6,1037.0M501.6,1037.0L510.2,1034.6M530.9,1039.7L532.7,1035.5M522.2,1042.1L530.9,1039.7M515.3,1040.4L522.2,1042.1M546.4,1038.9L548.2,1034.8M537.7,1041.3L546.4,1038.9M530.9,1039.7L537.7,1041.3M561.9,1038.2L563.7,1034.0M553.3,1040.6L561.9,1038.2M546.4,1038.9L553.3,1040.6M577.5,1037.4L579.3,1033.3M568.8,1039.9L577.5,1037.4M561.9,1038.2L568.8,1039.9" stroke="#555" stroke-width="1.25" fill="none"/>
<path d="M515.6,1022.2h0M522.5,1023.9h0M520.7,1028.0h0M512.0,1030.4h0M505.2,1028.7h0M507.0,1024.6h0M531.1,1021.4h0M538.0,1023.1h0M536.2,1027.3h0M527.6,1029.7h0M546.7,1020.7h0M553.6,1022.4h0M551.8,1026.5h0M543.1,1028.9h0M562.2,1019.9h0M569.1,1021.6h0M567.3,1025.8h0M558.6,1028.2h0M577.7,1019.2h0M584.6,1020.9h0M582.8,1025.0h0M574.2,1027.5h0M525.8,1033.8h0M517.1,1036.3h0M510.2,1034.6h0M541.3,1033.1h0M532.7,1035.5h0M556.8,1032.3h0M548.2,1034.8h0M572.4,1031.6h0M563.7,1034.0h0M589.7,1026.7h0M587.9,1030.9h0M579.3,1033.3h0M515.3,1040.4h0M506.7,1042.8h0M499.8,1041.1h0M501.6,1037.0h0M530.9,1039.7h0M522.2,1042.1h0M546.4,1038.9h0M537.7,1041.3h0M561.9,1038.2h0M553.3,1040.6h0M577.5,1037.4h0M568.8,1039.9h0" stroke="#404040" stroke-width="3.1" stroke-linecap="round" fill="none"/>
<path d="M620.0,1020.0L627.1,1022.0M625.3,1026.2L627.1,1022.0M616.3,1028.2L625.3,1026.2M609.2,1026.2L616.3,1028.2M609.2,1026.2L611.1,1022.0M611.1,1022.0L620.0,1020.0M636.1,1020.0L643.1,1022.0M641.3,1026.2L643.1,1022.0M632.4,1028.2L641.3,1026.2M625.3,1026.2L632.4,1028.2M627.1,1022.0L636.1,1020.0M652.1,1020.0L659.2,1022.0M657.3,1026.2L659.2,1022.0M648.4,1028.2L657.3,1026.2M641.3,1026.2L648.4,1028.2M643.1,1022.0L652.1,1020.0M668.1,1020.0L675.2,1022.0M673.4,1026.2L675.2,1022.0M664.4,1028.2L673.4,1026.2M657.3,1026.2L664.4,1028.2M659.2,1022.0L668.1,1020.0M630.5,1032.3L632.4,1028.2M621.6,1034.3L630.5,1032.3M614.5,1032.3L621.6,1034.3M614.5,1032.3L616.3,1028.2M646.5,1032.3L648.4,1028.2M637.6,1034.3L646.5,1032.3M630.5,1032.3L637.6,1034.3M662.6,1032.3L664.4,1028.2M653.6,1034.3L662.6,1032.3M646.5,1032.3L653.6,1034.3M673.4,1026.2L680.5,1028.2M678.6,1032.3L680.5,1028.2M669.7,1034.3L678.6,1032.3M662.6,1032.3L669.7,1034.3M619.7,1038.5L621.6,1034.3M610.8,1040.5L619.7,1038.5M603.7,1038.5L610.8,1040.5M603.7,1038.5L605.5,1034.3M605.5,1034.3L614.5,1032.3M635.8,1038.5L637.6,1034.3M626.8,1040.5L635.8,1038.5M619.7,1038.5L626.8,1040.5M651.8,1038.5L653.6,1034.3M642.9,1040.5L651.8,1038.5M635.8,1038.5L642.9,1040.5M667.8,1038.5L669.7,1034.3M658.9,1040.5L667.8,1038.5M651.8,1038.5L658.9,1040.5M678.6,1032.3L685.7,1034.3M683.9,1038.5L685.7,1034.3M674.9,1040.5L683.9,1038.5M667.8,1038.5L674.9,1040.5" stroke="#555" stroke-width="1.25" fill="none"/>
<path d="M620.0,1020.0h0M627.1,1022.0h0M625.3,1026.2h0M616.3,1028.2h0M609.2,1026.2h0M611.1,1022.0h0M636.1,1020.0h0M643.1,1022.0h0M641.3,1026.2h0M632.4,1028.2h0M652.1,1020.0h0M659.2,1022.0h0M657.3,1026.2h0M648.4,1028.2h0M668.1,1020.0h0M675.2,1022.0h0M673.4,1026.2h0M664.4,1028.2h0M630.5,1032.3h0M621.6,1034.3h0M614.5,1032.3h0M646.5,1032.3h0M637.6,1034.3h0M662.6,1032.3h0M653.6,1034.3h0M680.5,1028.2h0M678.6,1032.3h0M669.7,1034.3h0M619.7,1038.5h0M610.8,1040.5h0M603.7,1038.5h0M605.5,1034.3h0M635.8,1038.5h0M626.8,1040.5h0M651.8,1038.5h0M642.9,1040.5h0M667.8,1038.5h0M658.9,1040.5h0M685.7,1034.3h0M683.9,1038.5h0M674.9,1040.5h0" stroke="#404040" stroke-width="3.1" stroke-linecap="round" fill="none"/>
<path d="M414.7,1057.0L421.7,1059.0M419.9,1063.2L421.7,1059.0M411.0,1065.2L419.9,1063.2M404.0,1063.2L411.0,1065.2M404.0,1063.2L405.8,1059.0M405.8,1059.0L414.7,1057.0M430.6,1057.0L437.7,1059.0M435.8,1063.2L437.7,1059.0M426.9,1065.2L435.8,1063.2M419.9,1063.2L426.9,1065.2M421.7,1059.0L430.6,1057.0M446.5,1057.0L453.6,1059.0M451.7,1063.2L453.6,1059.0M442.9,1065.2L451.7,1063.2M435.8,1063.2L442.9,1065.2M437.7,1059.0L446.5,1057.0M462.4,1057.0L469.5,1059.0M467.6,1063.2L469.5,1059.0M458.8,1065.2L467.6,1063.2M451.7,1063.2L458.8,1065.2M453.6,1059.0L462.4,1057.0M478.4,1057.0L485.4,1059.0M483.6,1063.2L485.4,1059.0M474.7,1065.2L483.6,1063.2M467.6,1063.2L474.7,1065.2M469.5,1059.0L478.4,1057.0M425.1,1069.3L426.9,1065.2M416.2,1071.3L425.1,1069.3M409.2,1069.3L416.2,1071.3M409.2,1069.3L411.0,1065.2M441.0,1069.3L442.9,1065.2M432.2,1071.3L441.0,1069.3M425.1,1069.3L432.2,1071.3M456.9,1069.3L458.8,1065.2M448.1,1071.3L456.9,1069.3M441.0,1069.3L448.1,1071.3M472.9,1069.3L474.7,1065.2M464.0,1071.3L472.9,1069.3M456.9,1069.3L464.0,1071.3M483.6,1063.2L490.6,1065.2M488.8,1069.3L490.6,1065.2M479.9,1071.3L488.8,1069.3M472.9,1069.3L479.9,1071.3M414.4,1075.5L416.2,1071.3M405.5,1077.5L414.4,1075.5M398.5,1075.5L405.5,1077.5M398.5,1075.5L400.3,1071.3M400.3,1071.3L409.2,1069.3M430.3,1075.5L432.2,1071.3M421.5,1077.5L430.3,1075.5M414.4,1075.5L421.5,1077.5M446.2,1075.5L448.1,1071.3M437.4,1077.5L446.2,1075.5M430.3,1075.5L437.4,1077.5M462.2,1075.5L464.0,1071.3M453.3,1077.5L462.2,1075.5M446.2,1075.5L453.3,1077.5M478.1,1075.5L479.9,1071.3M469.2,1077.5L478.1,1075.5M462.2,1075.5L469.2,1077.5" stroke="#555" stroke-width="1.25" fill="none"/>
<path d="M414.7,1057.0h0M421.7,1059.0h0M419.9,1063.2h0M411.0,1065.2h0M404.0,1063.2h0M405.8,1059.0h0M430.6,1057.0h0M437.7,1059.0h0M435.8,1063.2h0M426.9,1065.2h0M446.5,1057.0h0M453.6,1059.0h0M451.7,1063.2h0M442.9,1065.2h0M462.4,1057.0h0M469.5,1059.0h0M467.6,1063.2h0M458.8,1065.2h0M478.4,1057.0h0M485.4,1059.0h0M483.6,1063.2h0M474.7,1065.2h0M425.1,1069.3h0M416.2,1071.3h0M409.2,1069.3h0M441.0,1069.3h0M432.2,1071.3h0M456.9,1069.3h0M448.1,1071.3h0M472.9,1069.3h0M464.0,1071.3h0M490.6,1065.2h0M488.8,1069.3h0M479.9,1071.3h0M414.4,1075.5h0M405.5,1077.5h0M398.5,1075.5h0M400.3,1071.3h0M430.3,1075.5h0M421.5,1077.5h0M446.2,1075.5h0M437.4,1077.5h0M462.2,1075.5h0M453.3,1077.5h0M478.1,1075.5h0M469.2,1077.5h0" stroke="#404040" stroke-width="3.1" stroke-linecap="round" fill="none"/>
<path d="M515.9,1056.2L522.8,1058.2M521.0,1062.5L522.8,1058.2M512.2,1064.5L521.0,1062.5M505.2,1062.5L512.2,1064.5M505.2,1062.5L507.1,1058.2M507.1,1058.2L515.9,1056.2M531.6,1056.2L538.6,1058.2M536.8,1062.5L538.6,1058.2M528.0,1064.5L536.8,1062.5M521.0,1062.5L528.0,1064.5M522.8,1058.2L531.6,1056.2M547.4,1056.2L554.4,1058.2M552.6,1062.5L554.4,1058.2M543.8,1064.5L552.6,1062.5M536.8,1062.5L543.8,1064.5M538.6,1058.2L547.4,1056.2M563.2,1056.2L570.2,1058.2M568.3,1062.5L570.2,1058.2M554.4,1058.2L563.2,1056.2M579.0,1056.2L585.9,1058.2M584.1,1062.5L585.9,1058.2M575.3,1064.5L584.1,1062.5M568.3,1062.5L575.3,1064.5M570.2,1058.2L579.0,1056.2M526.2,1068.6L528.0,1064.5M517.4,1070.6L526.2,1068.6M510.4,1068.6L517.4,1070.6M510.4,1068.6L512.2,1064.5M542.0,1068.6L543.8,1064.5M533.2,1070.6L542.0,1068.6M526.2,1068.6L533.2,1070.6M542.0,1068.6L548.9,1070.6M573.5,1068.6L575.3,1064.5M564.7,1070.6L573.5,1068.6M584.1,1062.5L591.1,1064.5M589.3,1068.6L591.1,1064.5M580.5,1070.6L589.3,1068.6M573.5,1068.6L580.5,1070.6M515.6,1074.8L517.4,1070.6M506.8,1076.8L515.6,1074.8M499.8,1074.8L506.8,1076.8M499.8,1074.8L501.6,1070.6M501.6,1070.6L510.4,1068.6M531.3,1074.8L533.2,1070.6M522.6,1076.8L531.3,1074.8M515.6,1074.8L522.6,1076.8M547.1,1074.8L548.9,1070.6M538.3,1076.8L547.1,1074.8M531.3,1074.8L538.3,1076.8M562.9,1074.8L564.7,1070.6M554.1,1076.8L562.9,1074.8M547.1,1074.8L554.1,1076.8M578.7,1074.8L580.5,1070.6M569.9,1076.8L578.7,1074.8M562.9,1074.8L569.9,1076.8" stroke="#555" stroke-width="1.25" fill="none"/>
<path d="M515.9,1056.2h0M522.8,1058.2h0M521.0,1062.5h0M512.2,1064.5h0M505.2,1062.5h0M507.1,1058.2h0M531.6,1056.2h0M538.6,1058.2h0M536.8,1062.5h0M528.0,1064.5h0M547.4,1056.2h0M554.4,1058.2h0M552.6,1062.5h0M543.8,1064.5h0M563.2,1056.2h0M570.2,1058.2h0M568.3,1062.5h0M579.0,1056.2h0M585.9,1058.2h0M584.1,1062.5h0M575.3,1064.5h0M526.2,1068.6h0M517.4,1070.6h0M510.4,1068.6h0M542.0,1068.6h0M533.2,1070.6h0M548.9,1070.6h0M573.5,1068.6h0M564.7,1070.6h0M591.1,1064.5h0M589.3,1068.6h0M580.5,1070.6h0M515.6,1074.8h0M506.8,1076.8h0M499.8,1074.8h0M501.6,1070.6h0M531.3,1074.8h0M522.6,1076.8h0M547.1,1074.8h0M538.3,1076.8h0M562.9,1074.8h0M554.1,1076.8h0M578.7,1074.8h0M569.9,1076.8h0" stroke="#404040" stroke-width="3.1" stroke-linecap="round" fill="none"/>
<path d="M620.5,1059.6L627.3,1060.8M625.5,1064.9L627.3,1060.8M617.1,1067.8L625.5,1064.9M610.3,1066.6L617.1,1067.8M610.3,1066.6L612.1,1062.5M612.1,1062.5L620.5,1059.6M635.7,1057.9L642.4,1059.2M640.7,1063.3L642.4,1059.2M632.2,1066.2L640.7,1063.3M625.5,1064.9L632.2,1066.2M627.3,1060.8L635.7,1057.9M650.9,1056.3L657.6,1057.5M655.8,1061.6L657.6,1057.5M647.4,1064.5L655.8,1061.6M640.7,1063.3L647.4,1064.5M642.4,1059.2L650.9,1056.3M666.1,1054.6L672.8,1055.9M671.0,1060.0L672.8,1055.9M662.6,1062.9L671.0,1060.0M655.8,1061.6L662.6,1062.9M657.6,1057.5L666.1,1054.6M681.2,1053.0L687.9,1054.2M686.2,1058.3L687.9,1054.2M677.7,1061.2L686.2,1058.3M671.0,1060.0L677.7,1061.2M672.8,1055.9L681.2,1053.0M630.5,1070.3L632.2,1066.2M622.0,1073.2L630.5,1070.3M615.3,1072.0L622.0,1073.2M615.3,1072.0L617.1,1067.8M645.6,1068.7L647.4,1064.5M637.2,1071.6L645.6,1068.7M630.5,1070.3L637.2,1071.6M660.8,1067.0L662.6,1062.9M652.4,1069.9L660.8,1067.0M645.6,1068.7L652.4,1069.9M676.0,1065.4L677.7,1061.2M667.5,1068.3L676.0,1065.4M660.8,1067.0L667.5,1068.3M686.2,1058.3L692.9,1059.6M691.2,1063.7L692.9,1059.6M682.7,1066.6L691.2,1063.7M676.0,1065.4L682.7,1066.6M620.3,1077.3L622.0,1073.2M611.8,1080.2L620.3,1077.3M605.1,1079.0L611.8,1080.2M605.1,1079.0L606.8,1074.9M606.8,1074.9L615.3,1072.0M635.4,1075.7L637.2,1071.6M627.0,1078.6L635.4,1075.7M620.3,1077.3L627.0,1078.6M650.6,1074.0L652.4,1069.9M642.2,1076.9L650.6,1074.0M635.4,1075.7L642.2,1076.9M665.8,1072.4L667.5,1068.3M657.3,1075.3L665.8,1072.4M650.6,1074.0L657.3,1075.3M680.9,1070.7L682.7,1066.6M672.5,1073.6L680.9,1070.7M665.8,1072.4L672.5,1073.6" stroke="#555" stroke-width="1.25" fill="none"/>
<path d="M620.5,1059.6h0M627.3,1060.8h0M625.5,1064.9h0M617.1,1067.8h0M610.3,1066.6h0M612.1,1062.5h0M635.7,1057.9h0M642.4,1059.2h0M640.7,1063.3h0M632.2,1066.2h0M650.9,1056.3h0M657.6,1057.5h0M655.8,1061.6h0M647.4,1064.5h0M666.1,1054.6h0M672.8,1055.9h0M671.0,1060.0h0M662.6,1062.9h0M681.2,1053.0h0M687.9,1054.2h0M686.2,1058.3h0M677.7,1061.2h0M630.5,1070.3h0M622.0,1073.2h0M615.3,1072.0h0M645.6,1068.7h0M637.2,1071.6h0M660.8,1067.0h0M652.4,1069.9h0M676.0,1065.4h0M667.5,1068.3h0M692.9,1059.6h0M691.2,1063.7h0M682.7,1066.6h0M620.3,1077.3h0M611.8,1080.2h0M605.1,1079.0h0M606.8,1074.9h0M635.4,1075.7h0M627.0,1078.6h0M650.6,1074.0h0M642.2,1076.9h0M665.8,1072.4h0M657.3,1075.3h0M680.9,1070.7h0M672.5,1073.6h0" stroke="#404040" stroke-width="3.1" stroke-linecap="round" fill="none"/>
<path d="M415.9,1095.9L422.8,1097.2M421.0,1101.2L422.8,1097.2M412.2,1104.1L421.0,1101.2M405.3,1102.8L412.2,1104.1M405.3,1102.8L407.1,1098.7M407.1,1098.7L415.9,1095.9M431.5,1094.4L438.5,1095.7M436.7,1099.8L438.5,1095.7M427.9,1102.6L436.7,1099.8M421.0,1101.2L427.9,1102.6M422.8,1097.2L431.5,1094.4M447.2,1092.9L454.1,1094.2M452.3,1098.4L454.1,1094.2M443.6,1101.2L452.3,1098.4M436.7,1099.8L443.6,1101.2M438.5,1095.7L447.2,1092.9M462.9,1091.4L469.8,1092.7M468.0,1096.9L469.8,1092.7M459.3,1099.7L468.0,1096.9M452.3,1098.4L459.3,1099.7M454.1,1094.2L462.9,1091.4M478.5,1089.9L485.5,1091.2M483.7,1095.4L485.5,1091.2M474.9,1098.2L483.7,1095.4M468.0,1096.9L474.9,1098.2M469.8,1092.7L478.5,1089.9M426.1,1106.8L427.9,1102.6M417.4,1109.6L426.1,1106.8M410.4,1108.2L417.4,1109.6M410.4,1108.2L412.2,1104.1M441.8,1105.2L443.6,1101.2M433.0,1108.1L441.8,1105.2M426.1,1106.8L433.0,1108.1M457.5,1103.8L459.3,1099.7M448.7,1106.6L457.5,1103.8M441.8,1105.2L448.7,1106.6M473.1,1102.2L474.9,1098.2M464.4,1105.1L473.1,1102.2M457.5,1103.8L464.4,1105.1M483.7,1095.4L490.6,1096.7M488.8,1100.8L490.6,1096.7M480.1,1103.7L488.8,1100.8M473.1,1102.2L480.1,1103.7M415.6,1113.7L417.4,1109.6M406.8,1116.5L415.6,1113.7M399.9,1115.2L406.8,1116.5M399.9,1115.2L401.7,1111.1M401.7,1111.1L410.4,1108.2M431.2,1112.2L433.0,1108.1M422.5,1115.0L431.2,1112.2M415.6,1113.7L422.5,1115.0M446.9,1110.8L448.7,1106.6M438.2,1113.6L446.9,1110.8M431.2,1112.2L438.2,1113.6M462.6,1109.2L464.4,1105.1M453.8,1112.1L462.6,1109.2M446.9,1110.8L453.8,1112.1M478.3,1107.8L480.1,1103.7M469.5,1110.6L478.3,1107.8M462.6,1109.2L469.5,1110.6" stroke="#555" stroke-width="1.25" fill="none"/>
<path d="M415.9,1095.9h0M422.8,1097.2h0M421.0,1101.2h0M412.2,1104.1h0M405.3,1102.8h0M407.1,1098.7h0M431.5,1094.4h0M438.5,1095.7h0M436.7,1099.8h0M427.9,1102.6h0M447.2,1092.9h0M454.1,1094.2h0M452.3,1098.4h0M443.6,1101.2h0M462.9,1091.4h0M469.8,1092.7h0M468.0,1096.9h0M459.3,1099.7h0M478.5,1089.9h0M485.5,1091.2h0M483.7,1095.4h0M474.9,1098.2h0M426.1,1106.8h0M417.4,1109.6h0M410.4,1108.2h0M441.8,1105.2h0M433.0,1108.1h0M457.5,1103.8h0M448.7,1106.6h0M473.1,1102.2h0M464.4,1105.1h0M490.6,1096.7h0M488.8,1100.8h0M480.1,1103.7h0M415.6,1113.7h0M406.8,1116.5h0M399.9,1115.2h0M401.7,1111.1h0M431.2,1112.2h0M422.5,1115.0h0M446.9,1110.8h0M438.2,1113.6h0M462.6,1109.2h0M453.8,1112.1h0M478.3,1107.8h0M469.5,1110.6h0" stroke="#404040" stroke-width="3.1" stroke-linecap="round" fill="none"/>
<path d="M516.4,1087.9L523.3,1089.9M521.5,1094.1L523.3,1089.9M512.7,1096.1L521.5,1094.1M505.8,1094.1L512.7,1096.1M505.8,1094.1L507.6,1089.9M507.6,1089.9L516.4,1087.9M532.0,1087.9L539.0,1089.9M537.2,1094.1L539.0,1089.9M528.4,1096.1L537.2,1094.1M521.5,1094.1L528.4,1096.1M523.3,1089.9L532.0,1087.9M579.0,1087.9L586.0,1089.9M584.2,1094.1L586.0,1089.9M575.4,1096.1L584.2,1094.1M568.5,1094.1L575.4,1096.1M568.5,1094.1L570.3,1089.9M570.3,1089.9L579.0,1087.9M526.6,1100.2L528.4,1096.1M517.9,1102.2L526.6,1100.2M510.9,1100.2L517.9,1102.2M510.9,1100.2L512.7,1096.1M537.2,1094.1L544.1,1096.1M542.3,1100.2L544.1,1096.1M533.5,1102.2L542.3,1100.2M526.6,1100.2L533.5,1102.2M552.8,1094.1L559.8,1096.1M558.0,1100.2L559.8,1096.1M549.2,1102.2L558.0,1100.2M542.3,1100.2L549.2,1102.2M544.1,1096.1L552.8,1094.1M573.6,1100.2L575.4,1096.1M564.9,1102.2L573.6,1100.2M558.0,1100.2L564.9,1102.2M559.8,1096.1L568.5,1094.1M584.2,1094.1L591.1,1096.1M589.3,1100.2L591.1,1096.1M580.6,1102.2L589.3,1100.2M573.6,1100.2L580.6,1102.2M516.1,1106.5L517.9,1102.2M507.3,1108.5L516.1,1106.5M500.4,1106.5L507.3,1108.5M500.4,1106.5L502.2,1102.2M502.2,1102.2L510.9,1100.2M531.7,1106.5L533.5,1102.2M523.0,1108.5L531.7,1106.5M516.1,1106.5L523.0,1108.5M547.4,1106.5L549.2,1102.2M538.7,1108.5L547.4,1106.5M531.7,1106.5L538.7,1108.5M563.1,1106.5L564.9,1102.2M554.3,1108.5L563.1,1106.5M547.4,1106.5L554.3,1108.5M578.8,1106.5L580.6,1102.2M570.0,1108.5L578.8,1106.5M563.1,1106.5L570.0,1108.5" stroke="#555" stroke-width="1.25" fill="none"/>
<path d="M516.4,1087.9h0M523.3,1089.9h0M521.5,1094.1h0M512.7,1096.1h0M505.8,1094.1h0M507.6,1089.9h0M532.0,1087.9h0M539.0,1089.9h0M537.2,1094.1h0M528.4,1096.1h0M579.0,1087.9h0M586.0,1089.9h0M584.2,1094.1h0M575.4,1096.1h0M568.5,1094.1h0M570.3,1089.9h0M526.6,1100.2h0M517.9,1102.2h0M510.9,1100.2h0M544.1,1096.1h0M542.3,1100.2h0M533.5,1102.2h0M552.8,1094.1h0M559.8,1096.1h0M558.0,1100.2h0M549.2,1102.2h0M573.6,1100.2h0M564.9,1102.2h0M591.1,1096.1h0M589.3,1100.2h0M580.6,1102.2h0M516.1,1106.5h0M507.3,1108.5h0M500.4,1106.5h0M502.2,1102.2h0M531.7,1106.5h0M523.0,1108.5h0M547.4,1106.5h0M538.7,1108.5h0M563.1,1106.5h0M554.3,1108.5h0M578.8,1106.5h0M570.0,1108.5h0" stroke="#404040" stroke-width="3.1" stroke-linecap="round" fill="none"/>
<path d="M605.6,1097.5L610.8,1094.1M610.8,1094.1L619.0,1094.1M619.0,1094.1L622.1,1097.5M617.0,1101.0L622.1,1097.5M608.7,1101.0L617.0,1101.0M605.6,1097.5L608.7,1101.0M622.1,1097.5L630.4,1097.5M630.4,1097.5L633.5,1101.0M628.4,1104.3L633.5,1101.0M620.2,1104.3L628.4,1104.3M617.0,1101.0L620.2,1104.3M630.4,1097.5L635.5,1094.1M635.5,1094.1L643.8,1094.1M643.8,1094.1L646.9,1097.5M641.7,1101.0L646.9,1097.5M633.5,1101.0L641.7,1101.0M646.9,1097.5L655.1,1097.5M655.1,1097.5L658.2,1101.0M653.2,1104.3L658.2,1101.0M644.9,1104.3L653.2,1104.3M641.7,1101.0L644.9,1104.3M603.7,1104.3L608.7,1101.0M615.0,1107.8L620.2,1104.3M606.8,1107.8L615.0,1107.8M603.7,1104.3L606.8,1107.8M628.4,1104.3L631.5,1107.8M626.4,1111.1L631.5,1107.8M618.2,1111.1L626.4,1111.1M615.0,1107.8L618.2,1111.1M639.8,1107.8L644.9,1104.3M631.5,1107.8L639.8,1107.8M653.2,1104.3L656.3,1107.8M651.1,1111.1L656.3,1107.8M642.9,1111.1L651.1,1111.1M639.8,1107.8L642.9,1111.1M658.2,1101.0L666.5,1101.0M666.5,1101.0L669.7,1104.3M664.5,1107.8L669.7,1104.3M656.3,1107.8L664.5,1107.8M669.7,1104.3L677.9,1104.3M677.9,1104.3L681.0,1107.8M675.9,1111.1L681.0,1107.8M667.6,1111.1L675.9,1111.1M664.5,1107.8L667.6,1111.1M677.9,1104.3L683.0,1101.0M683.0,1101.0L691.2,1101.0M691.2,1101.0L694.4,1104.3M689.3,1107.8L694.4,1104.3M681.0,1107.8L689.3,1107.8M637.7,1114.5L642.9,1111.1M629.5,1114.5L637.7,1114.5M626.4,1111.1L629.5,1114.5M651.1,1111.1L654.2,1114.5M649.2,1118.0L654.2,1114.5M641.0,1118.0L649.2,1118.0M637.7,1114.5L641.0,1118.0M662.5,1114.5L667.6,1111.1M654.2,1114.5L662.5,1114.5M675.9,1111.1L679.1,1114.5M673.9,1118.0L679.1,1114.5M665.7,1118.0L673.9,1118.0M662.5,1114.5L665.7,1118.0M689.3,1107.8L692.4,1111.1M687.3,1114.5L692.4,1111.1M679.1,1114.5L687.3,1114.5" stroke="#555" stroke-width="1.25" fill="none"/>
<path d="M605.6,1097.5h0M610.8,1094.1h0M619.0,1094.1h0M622.1,1097.5h0M617.0,1101.0h0M608.7,1101.0h0M630.4,1097.5h0M633.5,1101.0h0M628.4,1104.3h0M620.2,1104.3h0M635.5,1094.1h0M643.8,1094.1h0M646.9,1097.5h0M641.7,1101.0h0M655.1,1097.5h0M658.2,1101.0h0M653.2,1104.3h0M644.9,1104.3h0M603.7,1104.3h0M615.0,1107.8h0M606.8,1107.8h0M631.5,1107.8h0M626.4,1111.1h0M618.2,1111.1h0M639.8,1107.8h0M656.3,1107.8h0M651.1,1111.1h0M642.9,1111.1h0M666.5,1101.0h0M669.7,1104.3h0M664.5,1107.8h0M677.9,1104.3h0M681.0,1107.8h0M675.9,1111.1h0M667.6,1111.1h0M683.0,1101.0h0M691.2,1101.0h0M694.4,1104.3h0M689.3,1107.8h0M637.7,1114.5h0M629.5,1114.5h0M654.2,1114.5h0M649.2,1118.0h0M641.0,1118.0h0M662.5,1114.5h0M679.1,1114.5h0M673.9,1118.0h0M665.7,1118.0h0M692.4,1111.1h0M687.3,1114.5h0" stroke="#404040" stroke-width="3.1" stroke-linecap="round" fill="none"/>
<path d="M772.6,985.1L778.0,981.8M778.0,981.8L786.5,981.8M786.5,981.8L789.7,985.1M784.4,988.5L789.7,985.1M775.8,988.5L784.4,988.5M772.6,985.1L775.8,988.5M789.7,985.1L798.3,985.1M798.3,985.1L801.5,988.5M796.3,991.9L801.5,988.5M787.7,991.9L796.3,991.9M784.4,988.5L787.7,991.9M770.6,991.9L775.8,988.5M782.4,995.4L787.7,991.9M773.8,995.4L782.4,995.4M770.6,991.9L773.8,995.4M796.3,991.9L799.5,995.4M794.2,998.8L799.5,995.4M785.6,998.8L794.2,998.8M782.4,995.4L785.6,998.8M801.5,988.5L810.1,988.5M810.1,988.5L813.4,991.9M808.1,995.4L813.4,991.9M799.5,995.4L808.1,995.4M813.4,991.9L822.0,991.9M822.0,991.9L825.2,995.4M819.9,998.8L825.2,995.4M811.3,998.8L819.9,998.8M808.1,995.4L811.3,998.8M806.0,1002.1L811.3,998.8M819.9,998.8L823.1,1002.1M817.9,1005.5L823.1,1002.1M809.3,1005.5L817.9,1005.5M806.0,1002.1L809.3,1005.5M825.2,995.4L833.8,995.4M833.8,995.4L837.0,998.8M831.7,1002.1L837.0,998.8M823.1,1002.1L831.7,1002.1M837.0,998.8L845.6,998.8M845.6,998.8L848.9,1002.1M843.6,1005.5L848.9,1002.1M835.0,1005.5L843.6,1005.5M831.7,1002.1L835.0,1005.5M845.6,998.8L850.9,995.4M850.9,995.4L859.5,995.4M859.5,995.4L862.7,998.8M857.5,1002.1L862.7,998.8M848.9,1002.1L857.5,1002.1" stroke="#555" stroke-width="1.25" fill="none"/>
<path d="M772.6,985.1h0M778.0,981.8h0M786.5,981.8h0M789.7,985.1h0M784.4,988.5h0M775.8,988.5h0M798.3,985.1h0M801.5,988.5h0M796.3,991.9h0M787.7,991.9h0M770.6,991.9h0M782.4,995.4h0M773.8,995.4h0M799.5,995.4h0M794.2,998.8h0M785.6,998.8h0M810.1,988.5h0M813.4,991.9h0M808.1,995.4h0M822.0,991.9h0M825.2,995.4h0M819.9,998.8h0M811.3,998.8h0M806.0,1002.1h0M823.1,1002.1h0M817.9,1005.5h0M809.3,1005.5h0M833.8,995.4h0M837.0,998.8h0M831.7,1002.1h0M845.6,998.8h0M848.9,1002.1h0M843.6,1005.5h0M835.0,1005.5h0M850.9,995.4h0M859.5,995.4h0M862.7,998.8h0M857.5,1002.1h0" stroke="#404040" stroke-width="3.1" stroke-linecap="round" fill="none"/>
<path d="M888.7,985.5L895.7,987.5M893.9,991.7L895.7,987.5M885.0,993.7L893.9,991.7M878.0,991.7L885.0,993.7M878.0,991.7L879.8,987.5M879.8,987.5L888.7,985.5M904.6,985.5L911.7,987.5M909.8,991.7L911.7,987.5M900.9,993.7L909.8,991.7M893.9,991.7L900.9,993.7M895.7,987.5L904.6,985.5M920.5,985.5L927.6,987.5M909.8,991.7L916.9,993.7M911.7,987.5L920.5,985.5M936.4,985.5L943.5,987.5M941.6,991.7L943.5,987.5M932.8,993.7L941.6,991.7M927.6,987.5L936.4,985.5M952.4,985.5L959.4,987.5M957.6,991.7L959.4,987.5M948.7,993.7L957.6,991.7M941.6,991.7L948.7,993.7M943.5,987.5L952.4,985.5M899.1,997.9L900.9,993.7M890.2,999.9L899.1,997.9M883.2,997.9L890.2,999.9M883.2,997.9L885.0,993.7M915.0,997.9L916.9,993.7M906.2,999.9L915.0,997.9M899.1,997.9L906.2,999.9M930.9,997.9L932.8,993.7M922.1,999.9L930.9,997.9M915.0,997.9L922.1,999.9M946.9,997.9L948.7,993.7M938.0,999.9L946.9,997.9M930.9,997.9L938.0,999.9M957.6,991.7L964.6,993.7M962.8,997.9L964.6,993.7M953.9,999.9L962.8,997.9M946.9,997.9L953.9,999.9M888.4,1004.1L890.2,999.9M879.5,1006.1L888.4,1004.1M872.5,1004.1L879.5,1006.1M872.5,1004.1L874.3,999.9M874.3,999.9L883.2,997.9M904.3,1004.1L906.2,999.9M895.5,1006.1L904.3,1004.1M888.4,1004.1L895.5,1006.1M920.2,1004.1L922.1,999.9M911.4,1006.1L920.2,1004.1M904.3,1004.1L911.4,1006.1M936.2,1004.1L938.0,999.9M927.3,1006.1L936.2,1004.1M920.2,1004.1L927.3,1006.1M952.1,1004.1L953.9,999.9M943.2,1006.1L952.1,1004.1M936.2,1004.1L943.2,1006.1" stroke="#555" stroke-width="1.25" fill="none"/>
<path d="M888.7,985.5h0M895.7,987.5h0M893.9,991.7h0M885.0,993.7h0M878.0,991.7h0M879.8,987.5h0M904.6,985.5h0M911.7,987.5h0M909.8,991.7h0M900.9,993.7h0M920.5,985.5h0M927.6,987.5h0M916.9,993.7h0M936.4,985.5h0M943.5,987.5h0M941.6,991.7h0M932.8,993.7h0M952.4,985.5h0M959.4,987.5h0M957.6,991.7h0M948.7,993.7h0M899.1,997.9h0M890.2,999.9h0M883.2,997.9h0M915.0,997.9h0M906.2,999.9h0M930.9,997.9h0M922.1,999.9h0M946.9,997.9h0M938.0,999.9h0M964.6,993.7h0M962.8,997.9h0M953.9,999.9h0M888.4,1004.1h0M879.5,1006.1h0M872.5,1004.1h0M874.3,999.9h0M904.3,1004.1h0M895.5,1006.1h0M920.2,1004.1h0M911.4,1006.1h0M936.2,1004.1h0M927.3,1006.1h0M952.1,1004.1h0M943.2,1006.1h0" stroke="#404040" stroke-width="3.1" stroke-linecap="round" fill="none"/>
<path d="M987.8,984.2L994.9,986.0M993.1,990.1L994.9,986.0M984.1,992.4L993.1,990.1M977.0,990.6L984.1,992.4M977.0,990.6L978.9,986.5M978.9,986.5L987.8,984.2M1003.9,983.7L1011.0,985.5M1009.1,989.6L1011.0,985.5M1000.2,991.9L1009.1,989.6M993.1,990.1L1000.2,991.9M994.9,986.0L1003.9,983.7M1019.9,983.2L1027.0,985.0M1025.2,989.1L1027.0,985.0M1016.2,991.4L1025.2,989.1M1009.1,989.6L1016.2,991.4M1011.0,985.5L1019.9,983.2M998.3,996.1L1000.2,991.9M989.4,998.4L998.3,996.1M982.3,996.6L989.4,998.4M982.3,996.6L984.1,992.4M1014.4,995.6L1016.2,991.4M1005.4,997.9L1014.4,995.6M998.3,996.1L1005.4,997.9M1025.2,989.1L1032.3,990.9M1030.4,995.1L1032.3,990.9M1021.5,997.4L1030.4,995.1M1014.4,995.6L1021.5,997.4M987.6,1002.5L989.4,998.4M978.6,1004.8L987.6,1002.5M971.5,1003.0L978.6,1004.8M971.5,1003.0L973.3,998.9M973.3,998.9L982.3,996.6M1003.6,1002.0L1005.4,997.9M994.7,1004.2L1003.6,1002.0M987.6,1002.5L994.7,1004.2M1019.7,1001.5L1021.5,997.4M1010.7,1003.8L1019.7,1001.5M1003.6,1002.0L1010.7,1003.8M1030.4,995.1L1037.5,996.9M1035.7,1001.0L1037.5,996.9M1026.8,1003.2L1035.7,1001.0M1019.7,1001.5L1026.8,1003.2M1046.5,994.6L1053.6,996.4M1051.8,1000.5L1053.6,996.4M1042.8,1002.9L1051.8,1000.5M1035.7,1001.0L1042.8,1002.9M1037.5,996.9L1046.5,994.6" stroke="#555" stroke-width="1.25" fill="none"/>
<path d="M987.8,984.2h0M994.9,986.0h0M993.1,990.1h0M984.1,992.4h0M977.0,990.6h0M978.9,986.5h0M1003.9,983.7h0M1011.0,985.5h0M1009.1,989.6h0M1000.2,991.9h0M1019.9,983.2h0M1027.0,985.0h0M1025.2,989.1h0M1016.2,991.4h0M998.3,996.1h0M989.4,998.4h0M982.3,996.6h0M1014.4,995.6h0M1005.4,997.9h0M1032.3,990.9h0M1030.4,995.1h0M1021.5,997.4h0M987.6,1002.5h0M978.6,1004.8h0M971.5,1003.0h0M973.3,998.9h0M1003.6,1002.0h0M994.7,1004.2h0M1019.7,1001.5h0M1010.7,1003.8h0M1037.5,996.9h0M1035.7,1001.0h0M1026.8,1003.2h0M1046.5,994.6h0M1053.6,996.4h0M1051.8,1000.5h0M1042.8,1002.9h0" stroke="#404040" stroke-width="3.1" stroke-linecap="round" fill="none"/>
<path d="M787.0,1018.6L794.1,1020.5M792.2,1024.6L794.1,1020.5M783.3,1026.8L792.2,1024.6M776.2,1024.9L783.3,1026.8M776.2,1024.9L778.0,1020.8M778.0,1020.8L787.0,1018.6M803.0,1018.2L810.1,1020.1M808.3,1024.2L810.1,1020.1M799.3,1026.5L808.3,1024.2M792.2,1024.6L799.3,1026.5M794.1,1020.5L803.0,1018.2M851.2,1017.2L858.3,1019.1M856.5,1023.3L858.3,1019.1M847.5,1025.5L856.5,1023.3M840.4,1023.6L847.5,1025.5M840.4,1023.6L842.3,1019.5M842.3,1019.5L851.2,1017.2M797.5,1030.6L799.3,1026.5M788.5,1032.9L797.5,1030.6M781.4,1031.0L788.5,1032.9M781.4,1031.0L783.3,1026.8M808.3,1024.2L815.4,1026.2M813.5,1030.2L815.4,1026.2M804.6,1032.5L813.5,1030.2M797.5,1030.6L804.6,1032.5M824.4,1023.9L831.5,1025.8M829.6,1030.0L831.5,1025.8M820.7,1032.2L829.6,1030.0M813.5,1030.2L820.7,1032.2M815.4,1026.2L824.4,1023.9M845.7,1029.6L847.5,1025.5M836.7,1031.9L845.7,1029.6M829.6,1030.0L836.7,1031.9M831.5,1025.8L840.4,1023.6M856.5,1023.3L863.6,1025.2M861.7,1029.2L863.6,1025.2M852.8,1031.5L861.7,1029.2M845.7,1029.6L852.8,1031.5M786.7,1037.0L788.5,1032.9M777.7,1039.2L786.7,1037.0M770.6,1037.2L777.7,1039.2M770.6,1037.2L772.5,1033.2M772.5,1033.2L781.4,1031.0M802.7,1036.7L804.6,1032.5M793.8,1038.9L802.7,1036.7M786.7,1037.0L793.8,1038.9M818.8,1036.2L820.7,1032.2M809.8,1038.6L818.8,1036.2M802.7,1036.7L809.8,1038.6M834.9,1036.0L836.7,1031.9M825.9,1038.2L834.9,1036.0M818.8,1036.2L825.9,1038.2M850.9,1035.7L852.8,1031.5M842.0,1037.9L850.9,1035.7M834.9,1036.0L842.0,1037.9" stroke="#555" stroke-width="1.25" fill="none"/>
<path d="M787.0,1018.6h0M794.1,1020.5h0M792.2,1024.6h0M783.3,1026.8h0M776.2,1024.9h0M778.0,1020.8h0M803.0,1018.2h0M810.1,1020.1h0M808.3,1024.2h0M799.3,1026.5h0M851.2,1017.2h0M858.3,1019.1h0M856.5,1023.3h0M847.5,1025.5h0M840.4,1023.6h0M842.3,1019.5h0M797.5,1030.6h0M788.5,1032.9h0M781.4,1031.0h0M815.4,1026.2h0M813.5,1030.2h0M804.6,1032.5h0M824.4,1023.9h0M831.5,1025.8h0M829.6,1030.0h0M820.7,1032.2h0M845.7,1029.6h0M836.7,1031.9h0M863.6,1025.2h0M861.7,1029.2h0M852.8,1031.5h0M786.7,1037.0h0M777.7,1039.2h0M770.6,1037.2h0M772.5,1033.2h0M802.7,1036.7h0M793.8,1038.9h0M818.8,1036.2h0M809.8,1038.6h0M834.9,1036.0h0M825.9,1038.2h0M850.9,1035.7h0M842.0,1037.9h0" stroke="#404040" stroke-width="3.1" stroke-linecap="round" fill="none"/>
<path d="M888.6,1022.2L895.6,1023.9M893.8,1028.0L895.6,1023.9M885.0,1030.4L893.8,1028.0M878.0,1028.7L885.0,1030.4M878.0,1028.7L879.8,1024.6M879.8,1024.6L888.6,1022.2M904.4,1021.4L911.4,1023.1M909.6,1027.3L911.4,1023.1M900.8,1029.7L909.6,1027.3M893.8,1028.0L900.8,1029.7M895.6,1023.9L904.4,1021.4M920.2,1020.7L927.2,1022.4M925.4,1026.5L927.2,1022.4M916.6,1028.9L925.4,1026.5M909.6,1027.3L916.6,1028.9M911.4,1023.1L920.2,1020.7M936.0,1019.9L943.0,1021.6M941.2,1025.8L943.0,1021.6M925.4,1026.5L932.4,1028.2M927.2,1022.4L936.0,1019.9M951.8,1019.2L958.8,1020.9M957.0,1025.0L958.8,1020.9M948.2,1027.5L957.0,1025.0M941.2,1025.8L948.2,1027.5M943.0,1021.6L951.8,1019.2M898.9,1033.8L900.8,1029.7M890.1,1036.3L898.9,1033.8M883.1,1034.6L890.1,1036.3M883.1,1034.6L885.0,1030.4M914.8,1033.1L916.6,1028.9M905.9,1035.5L914.8,1033.1M898.9,1033.8L905.9,1035.5M930.6,1032.3L932.4,1028.2M921.7,1034.8L930.6,1032.3M914.8,1033.1L921.7,1034.8M946.4,1031.6L948.2,1027.5M937.6,1034.0L946.4,1031.6M930.6,1032.3L937.6,1034.0M957.0,1025.0L964.0,1026.7M962.2,1030.9L964.0,1026.7M953.4,1033.3L962.2,1030.9M946.4,1031.6L953.4,1033.3M888.3,1040.4L890.1,1036.3M879.5,1042.8L888.3,1040.4M872.5,1041.1L879.5,1042.8M872.5,1041.1L874.3,1037.0M874.3,1037.0L883.1,1034.6M904.1,1039.7L905.9,1035.5M895.3,1042.1L904.1,1039.7M888.3,1040.4L895.3,1042.1M919.9,1038.9L921.7,1034.8M911.1,1041.3L919.9,1038.9M904.1,1039.7L911.1,1041.3M935.7,1038.2L937.6,1034.0M926.9,1040.6L935.7,1038.2M919.9,1038.9L926.9,1040.6M951.5,1037.4L953.4,1033.3M942.7,1039.9L951.5,1037.4M935.7,1038.2L942.7,1039.9" stroke="#555" stroke-width="1.25" fill="none"/>
<path d="M888.6,1022.2h0M895.6,1023.9h0M893.8,1028.0h0M885.0,1030.4h0M878.0,1028.7h0M879.8,1024.6h0M904.4,1021.4h0M911.4,1023.1h0M909.6,1027.3h0M900.8,1029.7h0M920.2,1020.7h0M927.2,1022.4h0M925.4,1026.5h0M916.6,1028.9h0M936.0,1019.9h0M943.0,1021.6h0M941.2,1025.8h0M932.4,1028.2h0M951.8,1019.2h0M958.8,1020.9h0M957.0,1025.0h0M948.2,1027.5h0M898.9,1033.8h0M890.1,1036.3h0M883.1,1034.6h0M914.8,1033.1h0M905.9,1035.5h0M930.6,1032.3h0M921.7,1034.8h0M946.4,1031.6h0M937.6,1034.0h0M964.0,1026.7h0M962.2,1030.9h0M953.4,1033.3h0M888.3,1040.4h0M879.5,1042.8h0M872.5,1041.1h0M874.3,1037.0h0M904.1,1039.7h0M895.3,1042.1h0M919.9,1038.9h0M911.1,1041.3h0M935.7,1038.2h0M926.9,1040.6h0M951.5,1037.4h0M942.7,1039.9h0" stroke="#404040" stroke-width="3.1" stroke-linecap="round" fill="none"/>
<path d="M992.8,1020.0L999.9,1022.0M998.0,1026.2L999.9,1022.0M989.1,1028.2L998.0,1026.2M982.0,1026.2L989.1,1028.2M982.0,1026.2L983.8,1022.0M983.8,1022.0L992.8,1020.0M1008.9,1020.0L1016.0,1022.0M1014.1,1026.2L1016.0,1022.0M1005.2,1028.2L1014.1,1026.2M998.0,1026.2L1005.2,1028.2M999.9,1022.0L1008.9,1020.0M1025.0,1020.0L1032.1,1022.0M1030.2,1026.2L1032.1,1022.0M1021.3,1028.2L1030.2,1026.2M1014.1,1026.2L1021.3,1028.2M1016.0,1022.0L1025.0,1020.0M1041.1,1020.0L1048.2,1022.0M1046.3,1026.2L1048.2,1022.0M1037.3,1028.2L1046.3,1026.2M1030.2,1026.2L1037.3,1028.2M1032.1,1022.0L1041.1,1020.0M1003.3,1032.3L1005.2,1028.2M994.3,1034.3L1003.3,1032.3M987.2,1032.3L994.3,1034.3M987.2,1032.3L989.1,1028.2M1019.4,1032.3L1021.3,1028.2M1010.4,1034.3L1019.4,1032.3M1003.3,1032.3L1010.4,1034.3M1035.5,1032.3L1037.3,1028.2M1026.5,1034.3L1035.5,1032.3M1019.4,1032.3L1026.5,1034.3M1046.3,1026.2L1053.4,1028.2M1051.6,1032.3L1053.4,1028.2M1042.6,1034.3L1051.6,1032.3M1035.5,1032.3L1042.6,1034.3M992.5,1038.5L994.3,1034.3M983.5,1040.5L992.5,1038.5M976.4,1038.5L983.5,1040.5M976.4,1038.5L978.3,1034.3M978.3,1034.3L987.2,1032.3M1008.6,1038.5L1010.4,1034.3M999.6,1040.5L1008.6,1038.5M992.5,1038.5L999.6,1040.5M1024.7,1038.5L1026.5,1034.3M1015.7,1040.5L1024.7,1038.5M1008.6,1038.5L1015.7,1040.5M1040.8,1038.5L1042.6,1034.3M1031.8,1040.5L1040.8,1038.5M1024.7,1038.5L1031.8,1040.5M1051.6,1032.3L1058.7,1034.3M1056.8,1038.5L1058.7,1034.3M1047.9,1040.5L1056.8,1038.5M1040.8,1038.5L1047.9,1040.5" stroke="#555" stroke-width="1.25" fill="none"/>
<path d="M992.8,1020.0h0M999.9,1022.0h0M998.0,1026.2h0M989.1,1028.2h0M982.0,1026.2h0M983.8,1022.0h0M1008.9,1020.0h0M1016.0,1022.0h0M1014.1,1026.2h0M1005.2,1028.2h0M1025.0,1020.0h0M1032.1,1022.0h0M1030.2,1026.2h0M1021.3,1028.2h0M1041.1,1020.0h0M1048.2,1022.0h0M1046.3,1026.2h0M1037.3,1028.2h0M1003.3,1032.3h0M994.3,1034.3h0M987.2,1032.3h0M1019.4,1032.3h0M1010.4,1034.3h0M1035.5,1032.3h0M1026.5,1034.3h0M1053.4,1028.2h0M1051.6,1032.3h0M1042.6,1034.3h0M992.5,1038.5h0M983.5,1040.5h0M976.4,1038.5h0M978.3,1034.3h0M1008.6,1038.5h0M999.6,1040.5h0M1024.7,1038.5h0M1015.7,1040.5h0M1040.8,1038.5h0M1031.8,1040.5h0M1058.7,1034.3h0M1056.8,1038.5h0M1047.9,1040.5h0" stroke="#404040" stroke-width="3.1" stroke-linecap="round" fill="none"/>
<path d="M786.8,1054.1L793.8,1056.1M792.0,1060.3L793.8,1056.1M783.1,1062.3L792.0,1060.3M776.1,1060.3L783.1,1062.3M776.1,1060.3L777.9,1056.1M777.9,1056.1L786.8,1054.1M802.7,1054.1L809.8,1056.1M807.9,1060.3L809.8,1056.1M799.0,1062.3L807.9,1060.3M792.0,1060.3L799.0,1062.3M793.8,1056.1L802.7,1054.1M818.6,1054.1L825.7,1056.1M823.8,1060.3L825.7,1056.1M815.0,1062.3L823.8,1060.3M807.9,1060.3L815.0,1062.3M809.8,1056.1L818.6,1054.1M834.5,1054.1L841.6,1056.1M839.7,1060.3L841.6,1056.1M830.9,1062.3L839.7,1060.3M823.8,1060.3L830.9,1062.3M825.7,1056.1L834.5,1054.1M850.5,1054.1L857.5,1056.1M855.7,1060.3L857.5,1056.1M846.8,1062.3L855.7,1060.3M839.7,1060.3L846.8,1062.3M841.6,1056.1L850.5,1054.1M797.2,1066.5L799.0,1062.3M788.3,1068.5L797.2,1066.5M781.3,1066.5L788.3,1068.5M781.3,1066.5L783.1,1062.3M813.1,1066.5L815.0,1062.3M804.3,1068.5L813.1,1066.5M797.2,1066.5L804.3,1068.5M829.0,1066.5L830.9,1062.3M820.2,1068.5L829.0,1066.5M813.1,1066.5L820.2,1068.5M845.0,1066.5L846.8,1062.3M836.1,1068.5L845.0,1066.5M829.0,1066.5L836.1,1068.5M855.7,1060.3L862.7,1062.3M860.9,1066.5L862.7,1062.3M852.0,1068.5L860.9,1066.5M845.0,1066.5L852.0,1068.5M786.5,1072.7L788.3,1068.5M777.6,1074.7L786.5,1072.7M770.6,1072.7L777.6,1074.7M770.6,1072.7L772.4,1068.5M772.4,1068.5L781.3,1066.5M802.4,1072.7L804.3,1068.5M793.6,1074.7L802.4,1072.7M786.5,1072.7L793.6,1074.7M818.3,1072.7L820.2,1068.5M809.5,1074.7L818.3,1072.7M802.4,1072.7L809.5,1074.7M834.3,1072.7L836.1,1068.5M825.4,1074.7L834.3,1072.7M818.3,1072.7L825.4,1074.7M850.2,1072.7L852.0,1068.5M841.3,1074.7L850.2,1072.7M834.3,1072.7L841.3,1074.7" stroke="#555" stroke-width="1.25" fill="none"/>
<path d="M786.8,1054.1h0M793.8,1056.1h0M792.0,1060.3h0M783.1,1062.3h0M776.1,1060.3h0M777.9,1056.1h0M802.7,1054.1h0M809.8,1056.1h0M807.9,1060.3h0M799.0,1062.3h0M818.6,1054.1h0M825.7,1056.1h0M823.8,1060.3h0M815.0,1062.3h0M834.5,1054.1h0M841.6,1056.1h0M839.7,1060.3h0M830.9,1062.3h0M850.5,1054.1h0M857.5,1056.1h0M855.7,1060.3h0M846.8,1062.3h0M797.2,1066.5h0M788.3,1068.5h0M781.3,1066.5h0M813.1,1066.5h0M804.3,1068.5h0M829.0,1066.5h0M820.2,1068.5h0M845.0,1066.5h0M836.1,1068.5h0M862.7,1062.3h0M860.9,1066.5h0M852.0,1068.5h0M786.5,1072.7h0M777.6,1074.7h0M770.6,1072.7h0M772.4,1068.5h0M802.4,1072.7h0M793.6,1074.7h0M818.3,1072.7h0M809.5,1074.7h0M834.3,1072.7h0M825.4,1074.7h0M850.2,1072.7h0M841.3,1074.7h0" stroke="#404040" stroke-width="3.1" stroke-linecap="round" fill="none"/>
<path d="M888.1,1053.4L895.1,1055.4M893.3,1059.6L895.1,1055.4M884.4,1061.6L893.3,1059.6M877.4,1059.6L884.4,1061.6M877.4,1059.6L879.2,1055.4M879.2,1055.4L888.1,1053.4M904.0,1053.4L911.1,1055.4M909.2,1059.6L911.1,1055.4M900.3,1061.6L909.2,1059.6M893.3,1059.6L900.3,1061.6M895.1,1055.4L904.0,1053.4M919.9,1053.4L927.0,1055.4M925.1,1059.6L927.0,1055.4M916.3,1061.6L925.1,1059.6M909.2,1059.6L916.3,1061.6M911.1,1055.4L919.9,1053.4M935.8,1053.4L942.9,1055.4M941.0,1059.6L942.9,1055.4M927.0,1055.4L935.8,1053.4M951.8,1053.4L958.8,1055.4M957.0,1059.6L958.8,1055.4M948.1,1061.6L957.0,1059.6M941.0,1059.6L948.1,1061.6M942.9,1055.4L951.8,1053.4M898.5,1065.8L900.3,1061.6M889.6,1067.8L898.5,1065.8M882.6,1065.8L889.6,1067.8M882.6,1065.8L884.4,1061.6M914.4,1065.8L916.3,1061.6M905.6,1067.8L914.4,1065.8M898.5,1065.8L905.6,1067.8M914.4,1065.8L921.5,1067.8M946.3,1065.8L948.1,1061.6M937.4,1067.8L946.3,1065.8M957.0,1059.6L964.0,1061.6M962.2,1065.8L964.0,1061.6M953.3,1067.8L962.2,1065.8M946.3,1065.8L953.3,1067.8M887.8,1072.0L889.6,1067.8M878.9,1074.0L887.8,1072.0M871.9,1072.0L878.9,1074.0M871.9,1072.0L873.7,1067.8M873.7,1067.8L882.6,1065.8M903.7,1072.0L905.6,1067.8M894.9,1074.0L903.7,1072.0M887.8,1072.0L894.9,1074.0M919.6,1072.0L921.5,1067.8M910.8,1074.0L919.6,1072.0M903.7,1072.0L910.8,1074.0M935.6,1072.0L937.4,1067.8M926.7,1074.0L935.6,1072.0M919.6,1072.0L926.7,1074.0M951.5,1072.0L953.3,1067.8M942.6,1074.0L951.5,1072.0M935.6,1072.0L942.6,1074.0" stroke="#555" stroke-width="1.25" fill="none"/>
<path d="M888.1,1053.4h0M895.1,1055.4h0M893.3,1059.6h0M884.4,1061.6h0M877.4,1059.6h0M879.2,1055.4h0M904.0,1053.4h0M911.1,1055.4h0M909.2,1059.6h0M900.3,1061.6h0M919.9,1053.4h0M927.0,1055.4h0M925.1,1059.6h0M916.3,1061.6h0M935.8,1053.4h0M942.9,1055.4h0M941.0,1059.6h0M951.8,1053.4h0M958.8,1055.4h0M957.0,1059.6h0M948.1,1061.6h0M898.5,1065.8h0M889.6,1067.8h0M882.6,1065.8h0M914.4,1065.8h0M905.6,1067.8h0M921.5,1067.8h0M946.3,1065.8h0M937.4,1067.8h0M964.0,1061.6h0M962.2,1065.8h0M953.3,1067.8h0M887.8,1072.0h0M878.9,1074.0h0M871.9,1072.0h0M873.7,1067.8h0M903.7,1072.0h0M894.9,1074.0h0M919.6,1072.0h0M910.8,1074.0h0M935.6,1072.0h0M926.7,1074.0h0M951.5,1072.0h0M942.6,1074.0h0" stroke="#404040" stroke-width="3.1" stroke-linecap="round" fill="none"/>
<path d="M991.9,1056.7L998.9,1057.9M997.1,1062.0L998.9,1057.9M988.3,1064.9L997.1,1062.0M981.3,1063.7L988.3,1064.9M981.3,1063.7L983.1,1059.6M983.1,1059.6L991.9,1056.7M1007.7,1055.0L1014.7,1056.2M1012.9,1060.4L1014.7,1056.2M1004.1,1063.2L1012.9,1060.4M997.1,1062.0L1004.1,1063.2M998.9,1057.9L1007.7,1055.0M1023.6,1053.4L1030.6,1054.6M1028.7,1058.7L1030.6,1054.6M1019.9,1061.6L1028.7,1058.7M1012.9,1060.4L1019.9,1061.6M1014.7,1056.2L1023.6,1053.4M1039.4,1051.7L1046.4,1053.0M1044.6,1057.1L1046.4,1053.0M1035.7,1060.0L1044.6,1057.1M1028.7,1058.7L1035.7,1060.0M1030.6,1054.6L1039.4,1051.7M1055.2,1050.1L1062.2,1051.2M1060.4,1055.4L1062.2,1051.2M1051.6,1058.2L1060.4,1055.4M1044.6,1057.1L1051.6,1058.2M1046.4,1053.0L1055.2,1050.1M1002.3,1067.4L1004.1,1063.2M993.4,1070.2L1002.3,1067.4M986.4,1069.1L993.4,1070.2M986.4,1069.1L988.3,1064.9M1018.1,1065.8L1019.9,1061.6M1009.3,1068.7L1018.1,1065.8M1002.3,1067.4L1009.3,1068.7M1033.9,1064.1L1035.7,1060.0M1025.1,1067.0L1033.9,1064.1M1018.1,1065.8L1025.1,1067.0M1049.8,1062.5L1051.6,1058.2M1040.9,1065.4L1049.8,1062.5M1033.9,1064.1L1040.9,1065.4M1060.4,1055.4L1067.4,1056.7M1065.6,1060.8L1067.4,1056.7M1056.8,1063.7L1065.6,1060.8M1049.8,1062.5L1056.8,1063.7M991.6,1074.4L993.4,1070.2M982.8,1077.2L991.6,1074.4M975.8,1076.1L982.8,1077.2M975.8,1076.1L977.6,1072.0M977.6,1072.0L986.4,1069.1M1007.5,1072.8L1009.3,1068.7M998.6,1075.7L1007.5,1072.8M991.6,1074.4L998.6,1075.7M1023.3,1071.1L1025.1,1067.0M1014.5,1074.0L1023.3,1071.1M1007.5,1072.8L1014.5,1074.0M1039.1,1069.5L1040.9,1065.4M1030.3,1072.4L1039.1,1069.5M1023.3,1071.1L1030.3,1072.4M1054.9,1067.8L1056.8,1063.7M1046.1,1070.7L1054.9,1067.8M1039.1,1069.5L1046.1,1070.7" stroke="#555" stroke-width="1.25" fill="none"/>
<path d="M991.9,1056.7h0M998.9,1057.9h0M997.1,1062.0h0M988.3,1064.9h0M981.3,1063.7h0M983.1,1059.6h0M1007.7,1055.0h0M1014.7,1056.2h0M1012.9,1060.4h0M1004.1,1063.2h0M1023.6,1053.4h0M1030.6,1054.6h0M1028.7,1058.7h0M1019.9,1061.6h0M1039.4,1051.7h0M1046.4,1053.0h0M1044.6,1057.1h0M1035.7,1060.0h0M1055.2,1050.1h0M1062.2,1051.2h0M1060.4,1055.4h0M1051.6,1058.2h0M1002.3,1067.4h0M993.4,1070.2h0M986.4,1069.1h0M1018.1,1065.8h0M1009.3,1068.7h0M1033.9,1064.1h0M1025.1,1067.0h0M1049.8,1062.5h0M1040.9,1065.4h0M1067.4,1056.7h0M1065.6,1060.8h0M1056.8,1063.7h0M991.6,1074.4h0M982.8,1077.2h0M975.8,1076.1h0M977.6,1072.0h0M1007.5,1072.8h0M998.6,1075.7h0M1023.3,1071.1h0M1014.5,1074.0h0M1039.1,1069.5h0M1030.3,1072.4h0M1054.9,1067.8h0M1046.1,1070.7h0" stroke="#404040" stroke-width="3.1" stroke-linecap="round" fill="none"/>
<path d="M789.2,1091.5L796.0,1092.8M794.2,1096.9L796.0,1092.8M785.6,1099.8L794.2,1096.9M778.8,1098.4L785.6,1099.8M778.8,1098.4L780.6,1094.3M780.6,1094.3L789.2,1091.5M804.6,1090.0L811.4,1091.3M809.6,1095.4L811.4,1091.3M801.1,1098.2L809.6,1095.4M794.2,1096.9L801.1,1098.2M796.0,1092.8L804.6,1090.0M820.0,1088.5L826.8,1089.8M825.1,1094.0L826.8,1089.8M816.5,1096.8L825.1,1094.0M809.6,1095.4L816.5,1096.8M811.4,1091.3L820.0,1088.5M835.4,1087.0L842.2,1088.3M840.5,1092.5L842.2,1088.3M831.9,1095.3L840.5,1092.5M825.1,1094.0L831.9,1095.3M826.8,1089.8L835.4,1087.0M850.8,1085.5L857.7,1086.9M855.9,1091.0L857.7,1086.9M847.3,1093.8L855.9,1091.0M840.5,1092.5L847.3,1093.8M842.2,1088.3L850.8,1085.5M799.3,1102.4L801.1,1098.2M790.7,1105.2L799.3,1102.4M783.9,1103.9L790.7,1105.2M783.9,1103.9L785.6,1099.8M814.7,1100.9L816.5,1096.8M806.1,1103.8L814.7,1100.9M799.3,1102.4L806.1,1103.8M830.1,1099.4L831.9,1095.3M821.5,1102.2L830.1,1099.4M814.7,1100.9L821.5,1102.2M845.5,1097.9L847.3,1093.8M836.9,1100.8L845.5,1097.9M830.1,1099.4L836.9,1100.8M855.9,1091.0L862.7,1092.3M860.9,1096.4L862.7,1092.3M852.3,1099.3L860.9,1096.4M845.5,1097.9L852.3,1099.3M788.9,1109.3L790.7,1105.2M780.3,1112.1L788.9,1109.3M773.5,1110.8L780.3,1112.1M773.5,1110.8L775.3,1106.8M775.3,1106.8L783.9,1103.9M804.3,1107.8L806.1,1103.8M795.7,1110.6L804.3,1107.8M788.9,1109.3L795.7,1110.6M819.7,1106.4L821.5,1102.2M811.1,1109.2L819.7,1106.4M804.3,1107.8L811.1,1109.2M835.1,1104.9L836.9,1100.8M826.6,1107.8L835.1,1104.9M819.7,1106.4L826.6,1107.8M850.6,1103.4L852.3,1099.3M842.0,1106.2L850.6,1103.4M835.1,1104.9L842.0,1106.2" stroke="#555" stroke-width="1.25" fill="none"/>
<path d="M789.2,1091.5h0M796.0,1092.8h0M794.2,1096.9h0M785.6,1099.8h0M778.8,1098.4h0M780.6,1094.3h0M804.6,1090.0h0M811.4,1091.3h0M809.6,1095.4h0M801.1,1098.2h0M820.0,1088.5h0M826.8,1089.8h0M825.1,1094.0h0M816.5,1096.8h0M835.4,1087.0h0M842.2,1088.3h0M840.5,1092.5h0M831.9,1095.3h0M850.8,1085.5h0M857.7,1086.9h0M855.9,1091.0h0M847.3,1093.8h0M799.3,1102.4h0M790.7,1105.2h0M783.9,1103.9h0M814.7,1100.9h0M806.1,1103.8h0M830.1,1099.4h0M821.5,1102.2h0M845.5,1097.9h0M836.9,1100.8h0M862.7,1092.3h0M860.9,1096.4h0M852.3,1099.3h0M788.9,1109.3h0M780.3,1112.1h0M773.5,1110.8h0M775.3,1106.8h0M804.3,1107.8h0M795.7,1110.6h0M819.7,1106.4h0M811.1,1109.2h0M835.1,1104.9h0M826.6,1107.8h0M850.6,1103.4h0M842.0,1106.2h0" stroke="#404040" stroke-width="3.1" stroke-linecap="round" fill="none"/>
<path d="M875.1,1087.5L880.2,1084.0M880.2,1084.0L888.5,1084.0M888.5,1084.0L891.6,1087.5M886.5,1090.9L891.6,1087.5M878.2,1090.9L886.5,1090.9M875.1,1087.5L878.2,1090.9M891.6,1087.5L899.9,1087.5M899.9,1087.5L903.0,1090.9M897.9,1094.2L903.0,1090.9M889.7,1094.2L897.9,1094.2M886.5,1090.9L889.7,1094.2M899.9,1087.5L905.0,1084.0M905.0,1084.0L913.3,1084.0M913.3,1084.0L916.4,1087.5M916.4,1087.5L924.6,1087.5M924.6,1087.5L927.8,1090.9M924.6,1087.5L929.8,1084.0M929.8,1084.0L938.1,1084.0M938.1,1084.0L941.2,1087.5M936.0,1090.9L941.2,1087.5M927.8,1090.9L936.0,1090.9M941.2,1087.5L949.4,1087.5M949.4,1087.5L952.5,1090.9M947.5,1094.2L952.5,1090.9M939.2,1094.2L947.5,1094.2M936.0,1090.9L939.2,1094.2M873.1,1094.2L878.2,1090.9M884.5,1097.7L889.7,1094.2M876.3,1097.7L884.5,1097.7M873.1,1094.2L876.3,1097.7M887.6,1101.0L895.9,1101.0M884.5,1097.7L887.6,1101.0M920.7,1101.0L925.8,1097.7M934.1,1097.7L939.2,1094.2M925.8,1097.7L934.1,1097.7M947.5,1094.2L950.6,1097.7M945.4,1101.0L950.6,1097.7M937.2,1101.0L945.4,1101.0M934.1,1097.7L937.2,1101.0M952.5,1090.9L960.8,1090.9M960.8,1090.9L964.0,1094.2M958.8,1097.7L964.0,1094.2M950.6,1097.7L958.8,1097.7M871.1,1101.0L876.3,1097.7M882.6,1104.5L887.6,1101.0M874.3,1104.5L882.6,1104.5M871.1,1101.0L874.3,1104.5M895.9,1101.0L899.0,1104.5M893.9,1107.9L899.0,1104.5M885.7,1107.9L893.9,1107.9M882.6,1104.5L885.7,1107.9M899.0,1104.5L907.2,1104.5M920.7,1101.0L923.8,1104.5M918.7,1107.9L923.8,1104.5M910.5,1107.9L918.7,1107.9M907.2,1104.5L910.5,1107.9M932.0,1104.5L937.2,1101.0M923.8,1104.5L932.0,1104.5M945.4,1101.0L948.6,1104.5M943.5,1107.9L948.6,1104.5M935.2,1107.9L943.5,1107.9M932.0,1104.5L935.2,1107.9" stroke="#555" stroke-width="1.25" fill="none"/>
<path d="M875.1,1087.5h0M880.2,1084.0h0M888.5,1084.0h0M891.6,1087.5h0M886.5,1090.9h0M878.2,1090.9h0M899.9,1087.5h0M903.0,1090.9h0M897.9,1094.2h0M889.7,1094.2h0M905.0,1084.0h0M913.3,1084.0h0M916.4,1087.5h0M924.6,1087.5h0M927.8,1090.9h0M929.8,1084.0h0M938.1,1084.0h0M941.2,1087.5h0M936.0,1090.9h0M949.4,1087.5h0M952.5,1090.9h0M947.5,1094.2h0M939.2,1094.2h0M873.1,1094.2h0M884.5,1097.7h0M876.3,1097.7h0M887.6,1101.0h0M895.9,1101.0h0M920.7,1101.0h0M925.8,1097.7h0M934.1,1097.7h0M950.6,1097.7h0M945.4,1101.0h0M937.2,1101.0h0M960.8,1090.9h0M964.0,1094.2h0M958.8,1097.7h0M871.1,1101.0h0M882.6,1104.5h0M874.3,1104.5h0M899.0,1104.5h0M893.9,1107.9h0M885.7,1107.9h0M907.2,1104.5h0M923.8,1104.5h0M918.7,1107.9h0M910.5,1107.9h0M932.0,1104.5h0M948.6,1104.5h0M943.5,1107.9h0M935.2,1107.9h0" stroke="#404040" stroke-width="3.1" stroke-linecap="round" fill="none"/>
<path d="M977.3,1091.8L982.5,1088.4M982.5,1088.4L991.0,1088.4M991.0,1088.4L994.1,1091.8M988.9,1095.2L994.1,1091.8M980.5,1095.2L988.9,1095.2M977.3,1091.8L980.5,1095.2M994.1,1091.8L1002.6,1091.8M1002.6,1091.8L1005.7,1095.2M1000.6,1098.6L1005.7,1095.2M992.2,1098.6L1000.6,1098.6M988.9,1095.2L992.2,1098.6M1002.6,1091.8L1007.8,1088.4M1007.8,1088.4L1016.2,1088.4M1016.2,1088.4L1019.4,1091.8M1014.2,1095.2L1019.4,1091.8M1005.7,1095.2L1014.2,1095.2M1019.4,1091.8L1027.8,1091.8M1027.8,1091.8L1031.0,1095.2M1025.9,1098.6L1031.0,1095.2M1017.4,1098.6L1025.9,1098.6M1014.2,1095.2L1017.4,1098.6M975.3,1098.6L980.5,1095.2M986.9,1102.0L992.2,1098.6M978.5,1102.0L986.9,1102.0M975.3,1098.6L978.5,1102.0M1000.6,1098.6L1003.8,1102.0M998.5,1105.4L1003.8,1102.0M990.1,1105.4L998.5,1105.4M986.9,1102.0L990.1,1105.4M1012.2,1102.0L1017.4,1098.6M1003.8,1102.0L1012.2,1102.0M1025.9,1098.6L1029.0,1102.0M1023.8,1105.4L1029.0,1102.0M1015.4,1105.4L1023.8,1105.4M1012.2,1102.0L1015.4,1105.4M1031.0,1095.2L1039.4,1095.2M1039.4,1095.2L1042.7,1098.6M1037.5,1102.0L1042.7,1098.6M1029.0,1102.0L1037.5,1102.0M1042.7,1098.6L1051.1,1098.6M1051.1,1098.6L1054.3,1102.0M1049.1,1105.4L1054.3,1102.0M1040.6,1105.4L1049.1,1105.4M1037.5,1102.0L1040.6,1105.4M1051.1,1098.6L1056.3,1095.2M1056.3,1095.2L1064.7,1095.2M1064.7,1095.2L1068.0,1098.6M1062.7,1102.0L1068.0,1098.6M1054.3,1102.0L1062.7,1102.0M1010.1,1108.8L1015.4,1105.4M1001.7,1108.8L1010.1,1108.8M998.5,1105.4L1001.7,1108.8M1023.8,1105.4L1027.0,1108.8M1021.8,1112.2L1027.0,1108.8M1013.4,1112.2L1021.8,1112.2M1010.1,1108.8L1013.4,1112.2M1035.4,1108.8L1040.6,1105.4M1027.0,1108.8L1035.4,1108.8M1049.1,1105.4L1052.3,1108.8M1047.1,1112.2L1052.3,1108.8M1038.7,1112.2L1047.1,1112.2M1035.4,1108.8L1038.7,1112.2M1062.7,1102.0L1065.9,1105.4M1060.8,1108.8L1065.9,1105.4M1052.3,1108.8L1060.8,1108.8" stroke="#555" stroke-width="1.25" fill="none"/>
<path d="M977.3,1091.8h0M982.5,1088.4h0M991.0,1088.4h0M994.1,1091.8h0M988.9,1095.2h0M980.5,1095.2h0M1002.6,1091.8h0M1005.7,1095.2h0M1000.6,1098.6h0M992.2,1098.6h0M1007.8,1088.4h0M1016.2,1088.4h0M1019.4,1091.8h0M1014.2,1095.2h0M1027.8,1091.8h0M1031.0,1095.2h0M1025.9,1098.6h0M1017.4,1098.6h0M975.3,1098.6h0M986.9,1102.0h0M978.5,1102.0h0M1003.8,1102.0h0M998.5,1105.4h0M990.1,1105.4h0M1012.2,1102.0h0M1029.0,1102.0h0M1023.8,1105.4h0M1015.4,1105.4h0M1039.4,1095.2h0M1042.7,1098.6h0M1037.5,1102.0h0M1051.1,1098.6h0M1054.3,1102.0h0M1049.1,1105.4h0M1040.6,1105.4h0M1056.3,1095.2h0M1064.7,1095.2h0M1068.0,1098.6h0M1062.7,1102.0h0M1010.1,1108.8h0M1001.7,1108.8h0M1027.0,1108.8h0M1021.8,1112.2h0M1013.4,1112.2h0M1035.4,1108.8h0M1052.3,1108.8h0M1047.1,1112.2h0M1038.7,1112.2h0M1065.9,1105.4h0M1060.8,1108.8h0" stroke="#404040" stroke-width="3.1" stroke-linecap="round" fill="none"/>
<line x1="457.50" y1="985.80" x2="464.60" y2="976.60" stroke="#9a9a9a" stroke-width="1.1" />
<line x1="457.50" y1="985.80" x2="450.00" y2="983.20" stroke="#9a9a9a" stroke-width="1.1" />
<line x1="457.50" y1="985.80" x2="450.30" y2="993.70" stroke="#9a9a9a" stroke-width="1.1" />
<line x1="457.50" y1="985.80" x2="465.30" y2="993.10" stroke="#9a9a9a" stroke-width="1.1" />
<circle cx="464.6" cy="976.6" r="2.9" fill="#e8394a"/>
<circle cx="450.0" cy="983.2" r="2.9" fill="#e8394a"/>
<circle cx="450.3" cy="993.7" r="2.9" fill="#e8394a"/>
<circle cx="465.3" cy="993.1" r="2.9" fill="#e8394a"/>
<circle cx="457.5" cy="985.8" r="4.1" fill="#5b7fd0"/>
<line x1="554.50" y1="985.80" x2="555.20" y2="977.20" stroke="#9a9a9a" stroke-width="1.1" />
<line x1="554.50" y1="985.80" x2="545.50" y2="980.90" stroke="#9a9a9a" stroke-width="1.1" />
<line x1="554.50" y1="985.80" x2="565.60" y2="989.50" stroke="#9a9a9a" stroke-width="1.1" />
<line x1="554.50" y1="985.80" x2="549.40" y2="995.30" stroke="#9a9a9a" stroke-width="1.1" />
<circle cx="555.2" cy="977.2" r="2.9" fill="#e8394a"/>
<circle cx="545.5" cy="980.9" r="2.9" fill="#e8394a"/>
<circle cx="565.6" cy="989.5" r="2.9" fill="#e8394a"/>
<circle cx="549.4" cy="995.3" r="2.9" fill="#e8394a"/>
<circle cx="554.5" cy="985.8" r="4.1" fill="#5b7fd0"/>
<line x1="450.30" y1="1020.80" x2="456.00" y2="1011.50" stroke="#9a9a9a" stroke-width="1.1" />
<line x1="450.30" y1="1020.80" x2="441.60" y2="1016.80" stroke="#9a9a9a" stroke-width="1.1" />
<line x1="450.30" y1="1020.80" x2="461.60" y2="1024.90" stroke="#9a9a9a" stroke-width="1.1" />
<line x1="450.30" y1="1020.80" x2="449.40" y2="1029.50" stroke="#9a9a9a" stroke-width="1.1" />
<circle cx="456.0" cy="1011.5" r="2.9" fill="#e8394a"/>
<circle cx="441.6" cy="1016.8" r="2.9" fill="#e8394a"/>
<circle cx="461.6" cy="1024.9" r="2.9" fill="#e8394a"/>
<circle cx="449.4" cy="1029.5" r="2.9" fill="#e8394a"/>
<circle cx="450.3" cy="1020.8" r="4.1" fill="#5b7fd0"/>
<line x1="655.50" y1="1018.80" x2="651.00" y2="1009.50" stroke="#9a9a9a" stroke-width="1.1" />
<line x1="655.50" y1="1018.80" x2="665.60" y2="1017.10" stroke="#9a9a9a" stroke-width="1.1" />
<line x1="655.50" y1="1018.80" x2="650.00" y2="1026.80" stroke="#9a9a9a" stroke-width="1.1" />
<line x1="655.50" y1="1018.80" x2="662.90" y2="1026.20" stroke="#9a9a9a" stroke-width="1.1" />
<circle cx="651.0" cy="1009.5" r="2.9" fill="#e8394a"/>
<circle cx="665.6" cy="1017.1" r="2.9" fill="#e8394a"/>
<circle cx="650.0" cy="1026.8" r="2.9" fill="#e8394a"/>
<circle cx="662.9" cy="1026.2" r="2.9" fill="#e8394a"/>
<circle cx="655.5" cy="1018.8" r="4.1" fill="#5b7fd0"/>
<line x1="416.40" y1="1055.80" x2="416.40" y2="1045.00" stroke="#9a9a9a" stroke-width="1.1" />
<line x1="416.40" y1="1055.80" x2="407.50" y2="1060.00" stroke="#9a9a9a" stroke-width="1.1" />
<line x1="416.40" y1="1055.80" x2="425.60" y2="1058.70" stroke="#9a9a9a" stroke-width="1.1" />
<line x1="416.40" y1="1055.80" x2="419.30" y2="1065.80" stroke="#9a9a9a" stroke-width="1.1" />
<circle cx="416.4" cy="1045.0" r="2.9" fill="#e8394a"/>
<circle cx="407.5" cy="1060.0" r="2.9" fill="#e8394a"/>
<circle cx="425.6" cy="1058.7" r="2.9" fill="#e8394a"/>
<circle cx="419.3" cy="1065.8" r="2.9" fill="#e8394a"/>
<circle cx="416.4" cy="1055.8" r="4.1" fill="#5b7fd0"/>
<line x1="558.80" y1="1058.70" x2="556.50" y2="1050.00" stroke="#9a9a9a" stroke-width="1.1" />
<line x1="558.80" y1="1058.70" x2="547.90" y2="1055.80" stroke="#9a9a9a" stroke-width="1.1" />
<line x1="558.80" y1="1058.70" x2="570.20" y2="1060.10" stroke="#9a9a9a" stroke-width="1.1" />
<line x1="558.80" y1="1058.70" x2="555.00" y2="1068.70" stroke="#9a9a9a" stroke-width="1.1" />
<circle cx="556.5" cy="1050.0" r="2.9" fill="#e8394a"/>
<circle cx="547.9" cy="1055.8" r="2.9" fill="#e8394a"/>
<circle cx="570.2" cy="1060.1" r="2.9" fill="#e8394a"/>
<circle cx="555.0" cy="1068.7" r="2.9" fill="#e8394a"/>
<circle cx="558.8" cy="1058.7" r="4.1" fill="#5b7fd0"/>
<line x1="429.60" y1="1092.20" x2="423.00" y2="1083.90" stroke="#9a9a9a" stroke-width="1.1" />
<line x1="429.60" y1="1092.20" x2="418.70" y2="1095.10" stroke="#9a9a9a" stroke-width="1.1" />
<line x1="429.60" y1="1092.20" x2="441.70" y2="1091.10" stroke="#9a9a9a" stroke-width="1.1" />
<line x1="429.60" y1="1092.20" x2="425.30" y2="1102.60" stroke="#9a9a9a" stroke-width="1.1" />
<circle cx="423.0" cy="1083.9" r="2.9" fill="#e8394a"/>
<circle cx="418.7" cy="1095.1" r="2.9" fill="#e8394a"/>
<circle cx="441.7" cy="1091.1" r="2.9" fill="#e8394a"/>
<circle cx="425.3" cy="1102.6" r="2.9" fill="#e8394a"/>
<circle cx="429.6" cy="1092.2" r="4.1" fill="#5b7fd0"/>
<line x1="554.20" y1="1092.50" x2="559.30" y2="1083.90" stroke="#9a9a9a" stroke-width="1.1" />
<line x1="554.20" y1="1092.50" x2="544.40" y2="1089.40" stroke="#9a9a9a" stroke-width="1.1" />
<line x1="554.20" y1="1092.50" x2="564.50" y2="1096.80" stroke="#9a9a9a" stroke-width="1.1" />
<line x1="554.20" y1="1092.50" x2="553.00" y2="1101.10" stroke="#9a9a9a" stroke-width="1.1" />
<circle cx="559.3" cy="1083.9" r="2.9" fill="#e8394a"/>
<circle cx="544.4" cy="1089.4" r="2.9" fill="#e8394a"/>
<circle cx="564.5" cy="1096.8" r="2.9" fill="#e8394a"/>
<circle cx="553.0" cy="1101.1" r="2.9" fill="#e8394a"/>
<circle cx="554.2" cy="1092.5" r="4.1" fill="#5b7fd0"/>
<line x1="663.20" y1="1092.50" x2="653.50" y2="1091.10" stroke="#9a9a9a" stroke-width="1.1" />
<line x1="663.20" y1="1092.50" x2="662.70" y2="1085.30" stroke="#9a9a9a" stroke-width="1.1" />
<line x1="663.20" y1="1092.50" x2="664.10" y2="1102.60" stroke="#9a9a9a" stroke-width="1.1" />
<line x1="663.20" y1="1092.50" x2="669.00" y2="1083.60" stroke="#9a9a9a" stroke-width="1.1" />
<line x1="675.60" y1="1088.80" x2="669.00" y2="1083.60" stroke="#9a9a9a" stroke-width="1.1" />
<line x1="675.60" y1="1088.80" x2="676.40" y2="1080.80" stroke="#9a9a9a" stroke-width="1.1" />
<line x1="675.60" y1="1088.80" x2="684.20" y2="1084.50" stroke="#9a9a9a" stroke-width="1.1" />
<line x1="675.60" y1="1088.80" x2="680.50" y2="1098.00" stroke="#9a9a9a" stroke-width="1.1" />
<circle cx="653.5" cy="1091.1" r="2.9" fill="#e8394a"/>
<circle cx="662.7" cy="1085.3" r="2.9" fill="#e8394a"/>
<circle cx="669.0" cy="1083.6" r="2.9" fill="#e8394a"/>
<circle cx="676.4" cy="1080.8" r="2.9" fill="#e8394a"/>
<circle cx="684.2" cy="1084.5" r="2.9" fill="#e8394a"/>
<circle cx="664.1" cy="1102.6" r="2.9" fill="#e8394a"/>
<circle cx="680.5" cy="1098.0" r="2.9" fill="#e8394a"/>
<circle cx="663.2" cy="1092.5" r="4.1" fill="#5b7fd0"/>
<circle cx="675.6" cy="1088.8" r="4.1" fill="#5b7fd0"/>
<line x1="823.30" y1="1019.70" x2="829.00" y2="1011.60" stroke="#9a9a9a" stroke-width="1.1" />
<line x1="823.30" y1="1019.70" x2="814.00" y2="1016.80" stroke="#9a9a9a" stroke-width="1.1" />
<line x1="823.30" y1="1019.70" x2="834.40" y2="1023.80" stroke="#9a9a9a" stroke-width="1.1" />
<line x1="823.30" y1="1019.70" x2="822.70" y2="1028.50" stroke="#9a9a9a" stroke-width="1.1" />
<circle cx="829.0" cy="1011.6" r="2.9" fill="#e8394a"/>
<circle cx="814.0" cy="1016.8" r="2.9" fill="#e8394a"/>
<circle cx="834.4" cy="1023.8" r="2.9" fill="#e8394a"/>
<circle cx="822.7" cy="1028.5" r="2.9" fill="#e8394a"/>
<circle cx="823.3" cy="1019.7" r="4.1" fill="#5b7fd0"/>
<line x1="927.20" y1="1088.80" x2="932.30" y2="1079.60" stroke="#9a9a9a" stroke-width="1.1" />
<line x1="927.20" y1="1088.80" x2="917.70" y2="1085.30" stroke="#9a9a9a" stroke-width="1.1" />
<line x1="927.20" y1="1088.80" x2="937.80" y2="1092.50" stroke="#9a9a9a" stroke-width="1.1" />
<line x1="927.20" y1="1088.80" x2="926.30" y2="1097.40" stroke="#9a9a9a" stroke-width="1.1" />
<circle cx="932.3" cy="1079.6" r="2.9" fill="#e8394a"/>
<circle cx="917.7" cy="1085.3" r="2.9" fill="#e8394a"/>
<circle cx="937.8" cy="1092.5" r="2.9" fill="#e8394a"/>
<circle cx="926.3" cy="1097.4" r="2.9" fill="#e8394a"/>
<circle cx="927.2" cy="1088.8" r="4.1" fill="#5b7fd0"/>
<line x1="470.10" y1="1145.80" x2="477.70" y2="1134.20" stroke="#9a9a9a" stroke-width="1.1" />
<line x1="470.10" y1="1145.80" x2="460.00" y2="1142.30" stroke="#9a9a9a" stroke-width="1.1" />
<line x1="470.10" y1="1145.80" x2="461.00" y2="1155.60" stroke="#9a9a9a" stroke-width="1.1" />
<line x1="470.10" y1="1145.80" x2="479.10" y2="1155.60" stroke="#9a9a9a" stroke-width="1.1" />
<circle cx="477.7" cy="1134.2" r="2.9" fill="#e8394a"/>
<circle cx="460.0" cy="1142.3" r="2.9" fill="#e8394a"/>
<circle cx="461.0" cy="1155.6" r="2.9" fill="#e8394a"/>
<circle cx="479.1" cy="1155.6" r="2.9" fill="#e8394a"/>
<circle cx="470.1" cy="1145.8" r="4.1" fill="#5b7fd0"/>
<line x1="567.30" y1="1147.00" x2="555.50" y2="1144.40" stroke="#9a9a9a" stroke-width="1.1" />
<line x1="567.30" y1="1147.00" x2="567.90" y2="1138.90" stroke="#9a9a9a" stroke-width="1.1" />
<line x1="567.30" y1="1147.00" x2="567.30" y2="1159.20" stroke="#9a9a9a" stroke-width="1.1" />
<line x1="567.30" y1="1147.00" x2="576.10" y2="1137.20" stroke="#9a9a9a" stroke-width="1.1" />
<line x1="583.60" y1="1144.40" x2="576.10" y2="1137.20" stroke="#9a9a9a" stroke-width="1.1" />
<line x1="583.60" y1="1144.40" x2="585.00" y2="1134.20" stroke="#9a9a9a" stroke-width="1.1" />
<line x1="583.60" y1="1144.40" x2="595.80" y2="1138.90" stroke="#9a9a9a" stroke-width="1.1" />
<line x1="583.60" y1="1144.40" x2="588.30" y2="1156.60" stroke="#9a9a9a" stroke-width="1.1" />
<circle cx="555.5" cy="1144.4" r="2.9" fill="#e8394a"/>
<circle cx="567.9" cy="1138.9" r="2.9" fill="#e8394a"/>
<circle cx="567.3" cy="1159.2" r="2.9" fill="#e8394a"/>
<circle cx="576.1" cy="1137.2" r="2.9" fill="#e8394a"/>
<circle cx="585.0" cy="1134.2" r="2.9" fill="#e8394a"/>
<circle cx="595.8" cy="1138.9" r="2.9" fill="#e8394a"/>
<circle cx="588.3" cy="1156.6" r="2.9" fill="#e8394a"/>
<circle cx="567.3" cy="1147.0" r="4.1" fill="#5b7fd0"/>
<circle cx="583.6" cy="1144.4" r="4.1" fill="#5b7fd0"/>
<text x="487.3" y="1149.9" font-size="13.5" font-weight="bold" fill="#111" text-anchor="start" >AlCl<tspan font-size="9.5" dy="4">4</tspan><tspan font-size="9.5" dx="-5.5" dy="-11">−</tspan></text>
<text x="603.0" y="1149.9" font-size="13.5" font-weight="bold" fill="#111" text-anchor="start" >Al<tspan font-size="9.5" dy="4">2</tspan><tspan dy="-4">Cl</tspan><tspan font-size="9.5" dy="4">7</tspan><tspan font-size="9.5" dx="-5.5" dy="-11">−</tspan></text>
<path d="M331.1,1041.5 Q354.1,1045.1 377.0,1046.3 L377.0,1039.4 L394.1,1048.5 L377.0,1057.9 L377.0,1051.1 Q354.1,1055.0 331.1,1055.9 Z" fill="#a81f1f"/>
<path d="M700.0,1041.5 Q723.1,1045.2 746.3,1046.5 L746.3,1040.0 L762.9,1048.3 L746.3,1057.9 L746.3,1050.8 Q723.1,1054.8 700.0,1055.8 Z" fill="#284b8e"/>
<text x="357.9" y="1037.6" font-size="13.5" font-weight="bold" fill="#000" text-anchor="middle" >Charged</text>
<text x="729.0" y="1035.7" font-size="13.5" font-weight="bold" fill="#000" text-anchor="middle" >Discharged</text>
<text x="14.6" y="992.4" font-size="18.5" font-weight="bold" fill="#000" text-anchor="middle" >(k)</text></svg>
</body></html>
